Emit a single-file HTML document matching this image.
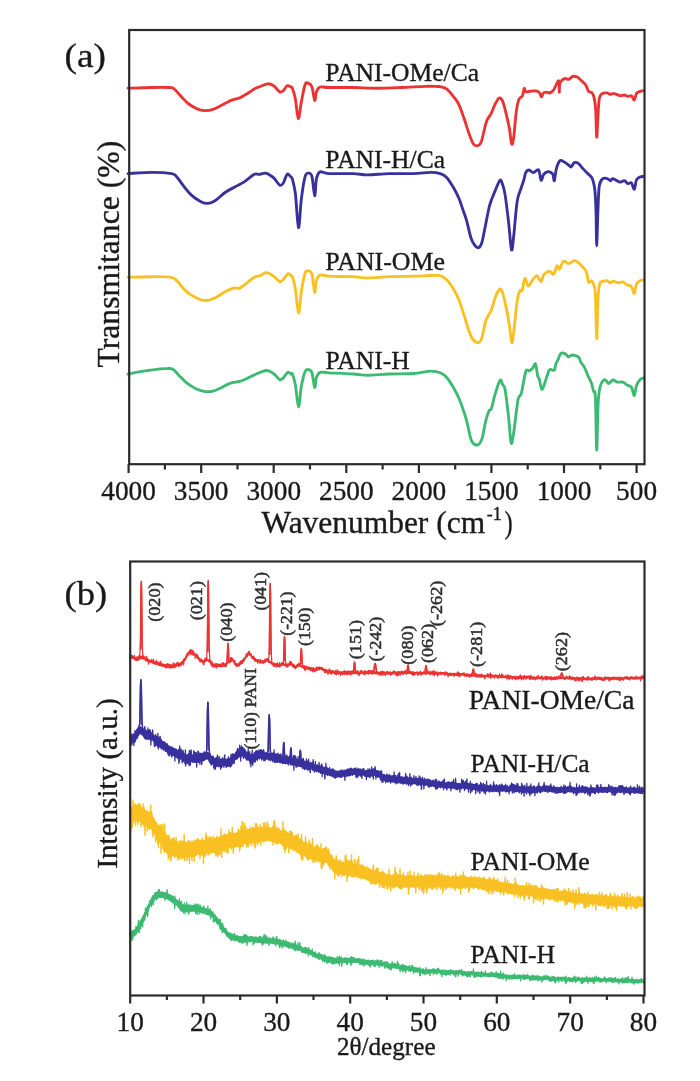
<!DOCTYPE html>
<html><head><meta charset="utf-8"><style>
html,body{margin:0;padding:0;background:#fff;}
body{width:700px;height:1081px;overflow:hidden;}
svg{display:block;filter:blur(0.35px);}
text{font-family:"Liberation Serif",serif;fill:#1a1a1a;stroke:#1a1a1a;stroke-width:0.35px;}
</style></head><body>
<svg width="700" height="1081" viewBox="0 0 700 1081">
<rect width="700" height="1081" fill="#fff"/>
<path d="M128.00,88.20 C132.05,88.08 145.42,87.62 152.30,87.50 C159.18,87.38 165.67,87.27 169.30,87.50 C172.93,87.73 172.08,87.37 174.10,88.90 C176.12,90.43 178.97,94.18 181.40,96.70 C183.83,99.22 185.87,101.90 188.70,104.00 C191.53,106.10 195.57,108.20 198.40,109.30 C201.23,110.40 203.27,110.60 205.70,110.60 C208.13,110.60 210.17,110.28 213.00,109.30 C215.83,108.32 219.47,106.27 222.70,104.70 C225.93,103.13 229.57,101.03 232.40,99.90 C235.23,98.77 237.27,98.92 239.70,97.90 C242.13,96.88 244.57,95.30 247.00,93.80 C249.43,92.30 252.08,90.12 254.30,88.90 C256.52,87.68 258.08,87.35 260.30,86.50 C262.52,85.65 265.37,83.92 267.60,83.80 C269.83,83.68 271.67,84.45 273.70,85.80 C275.73,87.15 278.18,91.10 279.80,91.90 C281.42,92.70 282.18,91.62 283.40,90.60 C284.62,89.58 285.88,86.40 287.10,85.80 C288.32,85.20 289.82,86.60 290.70,87.00 C291.58,87.40 291.61,86.18 292.39,88.20 C293.18,90.22 294.42,94.03 295.40,99.10 C296.38,104.17 297.30,118.18 298.30,118.60 C299.30,119.02 300.27,107.27 301.40,101.60 C302.53,95.93 303.88,87.63 305.10,84.60 C306.32,81.57 307.55,83.00 308.70,83.40 C309.85,83.80 310.97,84.17 311.97,87.00 C312.97,89.83 313.96,99.58 314.70,100.40 C315.44,101.22 315.52,94.13 316.40,91.90 C317.28,89.67 317.97,87.73 320.00,87.00 C322.03,86.27 323.12,87.42 328.60,87.50 C334.08,87.58 344.82,87.38 352.90,87.50 C360.98,87.62 369.02,88.20 377.10,88.20 C385.18,88.20 393.30,87.82 401.40,87.50 C409.50,87.18 419.63,86.47 425.70,86.30 C431.77,86.13 435.42,86.45 437.80,86.50 C440.18,86.55 438.48,86.17 440.00,86.60 C441.52,87.03 444.62,87.38 446.90,89.10 C449.18,90.82 451.70,94.32 453.70,96.90 C455.70,99.48 457.18,101.03 458.90,104.60 C460.62,108.17 462.30,113.45 464.00,118.30 C465.70,123.15 467.53,129.42 469.10,133.70 C470.67,137.98 471.97,142.00 473.40,144.00 C474.83,146.00 476.42,145.98 477.70,145.70 C478.98,145.42 479.95,145.15 481.10,142.30 C482.25,139.45 483.60,132.32 484.60,128.60 C485.60,124.88 485.97,122.58 487.10,120.00 C488.23,117.42 490.10,115.67 491.40,113.10 C492.70,110.53 493.62,107.10 494.90,104.60 C496.18,102.10 497.82,98.68 499.10,98.10 C500.38,97.52 501.45,98.60 502.60,101.10 C503.75,103.60 504.87,108.52 506.00,113.10 C507.13,117.68 508.45,123.45 509.40,128.60 C510.35,133.75 510.98,142.58 511.70,144.00 C512.42,145.42 512.93,142.53 513.70,137.10 C514.47,131.67 515.43,117.68 516.30,111.40 C517.17,105.12 517.90,101.97 518.90,99.40 C519.90,96.83 521.40,97.85 522.30,96.00 C523.20,94.15 523.73,89.02 524.30,88.30 C524.87,87.58 524.60,91.22 525.70,91.70 C526.80,92.18 529.18,91.33 530.90,91.20 C532.62,91.07 534.58,90.67 536.00,90.90 C537.42,91.13 538.48,91.60 539.40,92.60 C540.32,93.60 540.78,96.90 541.50,96.90 C542.22,96.90 542.62,93.32 543.70,92.60 C544.78,91.88 546.95,92.55 548.00,92.60 C549.05,92.65 549.07,93.33 550.00,92.90 C550.93,92.47 552.42,91.67 553.60,90.00 C554.78,88.33 556.22,84.33 557.10,82.90 C557.98,81.47 558.53,79.87 558.90,81.40 C559.27,82.93 559.12,91.85 559.30,92.10 C559.48,92.35 559.17,85.15 560.00,82.90 C560.83,80.65 562.87,79.20 564.30,78.60 C565.73,78.00 567.17,79.67 568.60,79.30 C570.03,78.93 571.48,76.77 572.90,76.40 C574.32,76.03 575.68,76.38 577.10,77.10 C578.52,77.82 579.97,79.38 581.40,80.70 C582.83,82.02 584.50,83.22 585.70,85.00 C586.90,86.78 587.53,90.08 588.60,91.40 C589.67,92.72 591.15,91.70 592.10,92.90 C593.05,94.10 593.70,95.75 594.30,98.60 C594.90,101.45 595.30,103.58 595.70,110.00 C596.10,116.42 596.33,135.92 596.70,137.10 C597.07,138.28 597.47,123.52 597.90,117.10 C598.33,110.68 598.60,102.52 599.30,98.60 C600.00,94.68 600.80,94.55 602.10,93.60 C603.40,92.65 605.78,92.78 607.10,92.90 C608.42,93.02 608.80,94.18 610.00,94.30 C611.20,94.42 612.63,93.37 614.30,93.60 C615.97,93.83 618.33,95.47 620.00,95.70 C621.67,95.93 622.98,94.88 624.30,95.00 C625.62,95.12 626.72,96.28 627.90,96.40 C629.08,96.52 630.33,95.10 631.40,95.70 C632.47,96.30 633.47,100.35 634.30,100.00 C635.13,99.65 635.45,95.03 636.40,93.60 C637.35,92.17 638.80,91.88 640.00,91.40 C641.20,90.92 643.00,90.82 643.60,90.70" fill="none" stroke="#ec3232" stroke-width="2.85" stroke-linejoin="round" stroke-linecap="round"/>
<path d="M128.00,173.60 C132.05,173.38 145.02,172.30 152.30,172.30 C159.58,172.30 167.65,172.87 171.70,173.60 C175.75,174.33 174.57,174.57 176.60,176.70 C178.63,178.83 181.48,183.37 183.90,186.40 C186.32,189.43 188.27,192.35 191.10,194.90 C193.93,197.45 198.07,200.28 200.90,201.70 C203.73,203.12 205.68,203.60 208.10,203.40 C210.52,203.20 212.57,202.32 215.40,200.50 C218.23,198.68 221.87,194.77 225.10,192.50 C228.33,190.23 231.55,188.72 234.80,186.90 C238.05,185.08 241.35,183.70 244.60,181.60 C247.85,179.50 251.88,175.52 254.30,174.30 C256.72,173.08 257.08,174.47 259.10,174.30 C261.12,174.13 263.97,172.70 266.40,173.30 C268.83,173.90 271.47,175.92 273.70,177.90 C275.93,179.88 278.18,184.38 279.80,185.20 C281.42,186.02 282.18,184.62 283.40,182.80 C284.62,180.98 285.88,175.32 287.10,174.30 C288.32,173.28 289.82,175.90 290.70,176.70 C291.58,177.50 291.61,176.27 292.39,179.10 C293.18,181.93 294.38,185.60 295.40,193.70 C296.42,201.80 297.50,226.88 298.50,227.70 C299.50,228.52 300.30,207.10 301.40,198.60 C302.50,190.10 303.88,180.95 305.10,176.70 C306.32,172.45 307.55,173.10 308.70,173.10 C309.85,173.10 310.97,172.93 311.97,176.70 C312.97,180.47 313.96,195.30 314.70,195.70 C315.44,196.10 315.52,183.07 316.40,179.10 C317.28,175.13 317.97,172.82 320.00,171.90 C322.03,170.98 323.12,173.32 328.60,173.60 C334.08,173.88 346.43,173.40 352.90,173.60 C359.37,173.80 361.33,174.80 367.40,174.80 C373.47,174.80 381.60,173.80 389.30,173.60 C397.00,173.40 406.72,173.82 413.60,173.60 C420.48,173.38 426.15,172.30 430.60,172.30 C435.05,172.30 437.58,172.70 440.30,173.60 C443.02,174.50 444.67,175.30 446.90,177.70 C449.13,180.10 451.70,184.57 453.70,188.00 C455.70,191.43 457.33,194.58 458.90,198.30 C460.47,202.02 461.82,206.58 463.10,210.30 C464.38,214.02 465.30,216.03 466.60,220.60 C467.90,225.17 469.62,233.70 470.90,237.70 C472.18,241.70 473.02,242.93 474.30,244.60 C475.58,246.27 477.32,248.13 478.60,247.70 C479.88,247.27 480.87,245.67 482.00,242.00 C483.13,238.33 484.12,231.85 485.40,225.70 C486.68,219.55 488.12,210.82 489.70,205.10 C491.28,199.38 493.18,195.53 494.90,191.40 C496.62,187.27 498.72,181.43 500.00,180.30 C501.28,179.17 501.75,182.17 502.60,184.60 C503.45,187.03 504.10,188.62 505.10,194.90 C506.10,201.18 507.53,213.17 508.60,222.30 C509.67,231.43 510.65,247.42 511.50,249.70 C512.35,251.98 512.77,244.00 513.70,236.00 C514.63,228.00 515.95,209.42 517.10,201.70 C518.25,193.98 519.45,193.42 520.60,189.70 C521.75,185.98 523.15,182.25 524.00,179.40 C524.85,176.55 524.85,174.17 525.70,172.60 C526.55,171.03 527.82,170.00 529.10,170.00 C530.38,170.00 531.82,172.60 533.40,172.60 C534.98,172.60 537.32,168.72 538.60,170.00 C539.88,171.28 540.25,179.58 541.10,180.30 C541.95,181.02 542.55,175.73 543.70,174.30 C544.85,172.87 546.95,172.07 548.00,171.70 C549.05,171.33 549.18,171.67 550.00,172.10 C550.82,172.53 552.18,172.87 552.90,174.30 C553.62,175.73 553.72,181.65 554.30,180.70 C554.88,179.75 555.45,171.93 556.40,168.60 C557.35,165.27 558.68,161.78 560.00,160.70 C561.32,159.62 562.87,161.38 564.30,162.10 C565.73,162.82 567.47,164.20 568.60,165.00 C569.73,165.80 570.15,167.30 571.10,166.90 C572.05,166.50 573.05,163.15 574.30,162.60 C575.55,162.05 577.17,162.60 578.60,163.60 C580.03,164.60 581.48,167.05 582.90,168.60 C584.32,170.15 585.68,171.48 587.10,172.90 C588.52,174.32 590.32,175.43 591.40,177.10 C592.48,178.77 593.00,180.52 593.60,182.90 C594.20,185.28 594.60,186.65 595.00,191.40 C595.40,196.15 595.72,202.35 596.00,211.40 C596.28,220.45 596.38,245.70 596.70,245.70 C597.02,245.70 597.47,221.40 597.90,211.40 C598.33,201.40 598.47,191.17 599.30,185.70 C600.13,180.23 601.60,179.78 602.90,178.60 C604.20,177.42 605.80,178.25 607.10,178.60 C608.40,178.95 609.73,180.70 610.70,180.70 C611.67,180.70 611.35,178.37 612.90,178.60 C614.45,178.83 618.10,181.75 620.00,182.10 C621.90,182.45 622.98,180.45 624.30,180.70 C625.62,180.95 626.72,183.23 627.90,183.60 C629.08,183.97 630.33,181.95 631.40,182.90 C632.47,183.85 633.47,189.78 634.30,189.30 C635.13,188.82 635.45,182.03 636.40,180.00 C637.35,177.97 638.80,177.70 640.00,177.10 C641.20,176.50 643.00,176.52 643.60,176.40" fill="none" stroke="#38309c" stroke-width="2.85" stroke-linejoin="round" stroke-linecap="round"/>
<path d="M128.00,277.20 C132.05,277.12 145.22,276.70 152.30,276.70 C159.38,276.70 166.45,276.58 170.50,277.20 C174.55,277.82 174.37,278.45 176.60,280.40 C178.83,282.35 181.48,286.48 183.90,288.90 C186.32,291.32 188.27,293.08 191.10,294.90 C193.93,296.72 198.07,298.90 200.90,299.80 C203.73,300.70 205.68,300.63 208.10,300.30 C210.52,299.97 212.57,299.22 215.40,297.80 C218.23,296.38 222.07,293.42 225.10,291.80 C228.13,290.18 231.17,288.72 233.60,288.10 C236.03,287.48 237.47,288.98 239.70,288.10 C241.93,287.22 244.57,284.62 247.00,282.80 C249.43,280.98 252.08,278.42 254.30,277.20 C256.52,275.98 258.28,276.27 260.30,275.50 C262.32,274.73 264.17,272.48 266.40,272.60 C268.63,272.72 271.47,274.70 273.70,276.20 C275.93,277.70 278.18,281.03 279.80,281.60 C281.42,282.17 282.07,280.90 283.40,279.60 C284.73,278.30 286.58,274.48 287.80,273.80 C289.02,273.12 289.93,275.02 290.70,275.50 C291.47,275.98 291.61,274.47 292.39,276.70 C293.18,278.93 294.38,282.83 295.40,288.90 C296.42,294.97 297.50,312.70 298.50,313.10 C299.50,313.50 300.30,297.97 301.40,291.30 C302.50,284.63 303.88,276.47 305.10,273.10 C306.32,269.73 307.55,270.90 308.70,271.10 C309.85,271.30 310.97,270.73 311.97,274.30 C312.97,277.87 313.96,291.48 314.70,292.50 C315.44,293.52 315.52,283.32 316.40,280.40 C317.28,277.48 317.97,275.70 320.00,275.00 C322.03,274.30 323.12,275.92 328.60,276.20 C334.08,276.48 346.43,276.42 352.90,276.70 C359.37,276.98 361.33,277.90 367.40,277.90 C373.47,277.90 381.60,276.98 389.30,276.70 C397.00,276.42 406.72,276.40 413.60,276.20 C420.48,276.00 426.20,275.58 430.60,275.50 C435.00,275.42 437.28,274.95 440.00,275.70 C442.72,276.45 444.62,277.72 446.90,280.00 C449.18,282.28 451.70,286.12 453.70,289.40 C455.70,292.68 457.18,295.42 458.90,299.70 C460.62,303.98 462.43,310.23 464.00,315.10 C465.57,319.97 466.87,324.90 468.30,328.90 C469.73,332.90 470.88,336.82 472.60,339.10 C474.32,341.38 477.03,342.88 478.60,342.60 C480.17,342.32 480.87,340.83 482.00,337.40 C483.13,333.97 484.40,325.57 485.40,322.00 C486.40,318.43 487.00,318.00 488.00,316.00 C489.00,314.00 490.12,313.28 491.40,310.00 C492.68,306.72 494.27,299.78 495.70,296.30 C497.13,292.82 498.85,289.67 500.00,289.10 C501.15,288.53 501.60,289.98 502.60,292.90 C503.60,295.82 504.87,301.18 506.00,306.60 C507.13,312.02 508.45,319.40 509.40,325.40 C510.35,331.40 510.98,341.45 511.70,342.60 C512.42,343.75 512.80,339.17 513.70,332.30 C514.60,325.43 516.10,308.27 517.10,301.40 C518.10,294.53 518.83,292.95 519.70,291.10 C520.57,289.25 521.43,292.43 522.30,290.30 C523.17,288.17 523.90,279.02 524.90,278.30 C525.90,277.58 527.02,285.72 528.30,286.00 C529.58,286.28 531.17,281.72 532.60,280.00 C534.03,278.28 535.48,275.42 536.90,275.70 C538.32,275.98 539.97,281.83 541.10,281.70 C542.23,281.57 542.27,276.62 543.70,274.90 C545.13,273.18 548.05,271.50 549.70,271.40 C551.35,271.30 552.37,275.25 553.60,274.30 C554.83,273.35 556.15,266.53 557.10,265.70 C558.05,264.87 558.22,270.02 559.30,269.30 C560.38,268.58 562.05,262.35 563.60,261.40 C565.15,260.45 566.82,263.72 568.60,263.60 C570.38,263.48 572.63,260.82 574.30,260.70 C575.97,260.58 577.17,261.83 578.60,262.90 C580.03,263.97 581.60,265.57 582.90,267.10 C584.20,268.63 585.45,269.60 586.40,272.10 C587.35,274.60 587.77,280.67 588.60,282.10 C589.43,283.53 590.57,280.33 591.40,280.70 C592.23,281.07 592.93,282.03 593.60,284.30 C594.27,286.57 594.88,285.25 595.40,294.30 C595.92,303.35 596.25,338.13 596.70,338.60 C597.15,339.07 597.55,306.38 598.10,297.10 C598.65,287.82 599.20,285.52 600.00,282.90 C600.80,280.28 601.72,281.77 602.90,281.40 C604.08,281.03 605.92,280.45 607.10,280.70 C608.28,280.95 609.03,282.83 610.00,282.90 C610.97,282.97 611.47,281.10 612.90,281.10 C614.33,281.10 616.93,282.77 618.60,282.90 C620.27,283.03 621.48,281.55 622.90,281.90 C624.32,282.25 625.68,284.25 627.10,285.00 C628.52,285.75 630.20,284.97 631.40,286.40 C632.60,287.83 633.47,293.95 634.30,293.60 C635.13,293.25 635.45,286.45 636.40,284.30 C637.35,282.15 638.80,281.42 640.00,280.70 C641.20,279.98 643.00,280.12 643.60,280.00" fill="none" stroke="#f9c022" stroke-width="2.85" stroke-linejoin="round" stroke-linecap="round"/>
<path d="M128.00,374.10 C130.02,373.70 136.05,372.42 140.10,371.70 C144.15,370.98 147.83,370.32 152.30,369.80 C156.77,369.28 163.47,368.68 166.90,368.60 C170.33,368.52 170.88,368.17 172.90,369.30 C174.92,370.43 176.77,373.18 179.00,375.40 C181.23,377.62 183.47,380.38 186.30,382.60 C189.13,384.82 192.77,387.20 196.00,388.70 C199.23,390.20 202.87,391.20 205.70,391.60 C208.53,392.00 210.57,391.67 213.00,391.10 C215.43,390.53 217.47,389.48 220.30,388.20 C223.13,386.92 226.77,384.53 230.00,383.40 C233.23,382.27 236.87,382.22 239.70,381.40 C242.53,380.58 244.57,379.58 247.00,378.50 C249.43,377.42 251.07,376.23 254.30,374.90 C257.53,373.57 263.17,370.70 266.40,370.50 C269.63,370.30 271.47,372.17 273.70,373.70 C275.93,375.23 278.18,379.02 279.80,379.70 C281.42,380.38 282.07,379.05 283.40,377.80 C284.73,376.55 286.49,372.82 287.80,372.20 C289.11,371.58 290.49,373.80 291.25,374.10 C292.02,374.40 291.70,372.20 292.39,374.00 C293.08,375.80 294.38,379.43 295.40,384.90 C296.42,390.37 297.50,406.60 298.50,406.80 C299.50,407.00 300.30,391.97 301.40,386.10 C302.50,380.23 303.88,374.35 305.10,371.60 C306.32,368.85 307.55,369.40 308.70,369.60 C309.85,369.80 310.97,369.83 311.97,372.80 C312.97,375.77 313.96,386.60 314.70,387.40 C315.44,388.20 315.52,380.12 316.40,377.60 C317.28,375.08 317.97,373.10 320.00,372.30 C322.03,371.50 323.12,372.52 328.60,372.80 C334.08,373.08 346.43,373.60 352.90,374.00 C359.37,374.40 361.33,375.20 367.40,375.20 C373.47,375.20 381.60,374.28 389.30,374.00 C397.00,373.72 406.72,373.98 413.60,373.50 C420.48,373.02 426.15,371.22 430.60,371.10 C435.05,370.98 437.58,371.70 440.30,372.80 C443.02,373.90 444.67,375.17 446.90,377.70 C449.13,380.23 451.70,384.57 453.70,388.00 C455.70,391.43 457.18,394.30 458.90,398.30 C460.62,402.30 462.58,407.72 464.00,412.00 C465.42,416.28 466.12,419.15 467.40,424.00 C468.68,428.85 469.98,437.62 471.70,441.10 C473.42,444.58 475.98,445.32 477.70,444.90 C479.42,444.48 480.72,442.37 482.00,438.60 C483.28,434.83 484.25,426.88 485.40,422.30 C486.55,417.72 487.90,413.38 488.90,411.10 C489.90,408.82 490.40,411.30 491.40,408.60 C492.40,405.90 493.47,399.62 494.90,394.90 C496.33,390.18 498.72,382.02 500.00,380.30 C501.28,378.58 501.75,383.03 502.60,384.60 C503.45,386.17 504.10,384.28 505.10,389.70 C506.10,395.12 507.60,408.23 508.60,417.10 C509.60,425.97 510.25,440.32 511.10,442.90 C511.95,445.48 512.55,439.75 513.70,432.60 C514.85,425.45 516.72,406.58 518.00,400.00 C519.28,393.42 520.12,397.82 521.40,393.10 C522.68,388.38 524.42,375.40 525.70,371.70 C526.98,368.00 527.95,371.47 529.10,370.90 C530.25,370.33 531.53,369.45 532.60,368.30 C533.67,367.15 534.65,362.72 535.50,364.00 C536.35,365.28 537.05,373.43 537.70,376.00 C538.35,378.57 538.68,377.12 539.40,379.40 C540.12,381.68 541.00,389.42 542.00,389.70 C543.00,389.98 544.17,384.38 545.40,381.10 C546.63,377.82 547.92,371.80 549.40,370.00 C550.88,368.20 553.25,371.25 554.30,370.30 C555.35,369.35 555.10,366.02 555.70,364.30 C556.30,362.58 557.07,361.78 557.90,360.00 C558.73,358.22 559.52,354.67 560.70,353.60 C561.88,352.53 563.68,353.05 565.00,353.60 C566.32,354.15 567.42,356.67 568.60,356.90 C569.78,357.13 570.43,354.97 572.10,355.00 C573.77,355.03 577.17,355.92 578.60,357.10 C580.03,358.28 579.75,360.43 580.70,362.10 C581.65,363.77 583.10,364.83 584.30,367.10 C585.50,369.37 586.72,373.07 587.90,375.70 C589.08,378.33 590.45,380.28 591.40,382.90 C592.35,385.52 592.93,389.03 593.60,391.40 C594.27,393.77 594.88,387.33 595.40,397.10 C595.92,406.87 596.25,448.80 596.70,450.00 C597.15,451.20 597.55,414.78 598.10,404.30 C598.65,393.82 599.08,391.15 600.00,387.10 C600.92,383.05 602.53,381.07 603.60,380.00 C604.67,378.93 605.57,380.10 606.40,380.70 C607.23,381.30 607.52,383.72 608.60,383.60 C609.68,383.48 611.48,380.25 612.90,380.00 C614.32,379.75 615.43,381.75 617.10,382.10 C618.77,382.45 621.23,381.62 622.90,382.10 C624.57,382.58 625.68,384.17 627.10,385.00 C628.52,385.83 630.20,385.32 631.40,387.10 C632.60,388.88 633.47,395.93 634.30,395.70 C635.13,395.47 635.45,388.37 636.40,385.70 C637.35,383.03 638.80,381.00 640.00,379.70 C641.20,378.40 643.00,378.20 643.60,377.90" fill="none" stroke="#3dba72" stroke-width="2.85" stroke-linejoin="round" stroke-linecap="round"/>
<polygon points="130.0,655.2 131.0,655.3 132.0,655.6 133.0,655.6 134.0,656.3 135.0,657.1 136.0,657.5 137.0,657.6 138.0,657.2 139.0,656.4 140.0,655.8 141.0,655.6 142.0,655.8 143.0,655.7 144.0,656.6 145.0,657.3 146.0,657.7 147.0,658.4 148.0,659.1 149.0,659.7 150.0,659.5 151.0,659.7 152.0,660.2 153.0,660.7 154.0,660.7 155.0,661.2 156.0,661.2 157.0,662.0 158.0,661.6 159.0,663.0 160.0,662.8 161.0,663.2 162.0,663.3 163.0,663.7 164.0,664.1 165.0,664.3 166.0,664.4 167.0,664.0 168.0,664.2 169.0,664.3 170.0,664.6 171.0,663.9 172.0,664.6 173.0,664.3 174.0,664.7 175.0,663.9 176.0,663.2 177.0,663.2 178.0,662.6 179.0,662.9 180.0,662.6 181.0,662.0 182.0,661.5 183.0,659.8 184.0,658.9 185.0,658.1 186.0,656.2 187.0,653.6 188.0,652.1 189.0,650.8 190.0,650.3 191.0,649.3 192.0,649.9 193.0,651.5 194.0,652.2 195.0,653.3 196.0,654.2 197.0,655.1 198.0,656.2 199.0,657.3 200.0,658.3 201.0,658.8 202.0,659.4 203.0,659.9 204.0,660.1 205.0,658.7 206.0,657.1 207.0,658.3 208.0,658.8 209.0,659.4 210.0,659.9 211.0,660.9 212.0,661.8 213.0,663.2 214.0,663.8 215.0,663.7 216.0,663.9 217.0,664.2 218.0,664.4 219.0,664.2 220.0,664.2 221.0,664.3 222.0,663.7 223.0,663.8 224.0,663.4 225.0,663.4 226.0,662.8 227.0,662.1 228.0,660.8 229.0,659.9 230.0,659.0 231.0,658.6 232.0,658.4 233.0,658.6 234.0,661.1 235.0,662.4 236.0,663.3 237.0,663.3 238.0,663.3 239.0,663.3 240.0,662.4 241.0,660.7 242.0,660.1 243.0,658.9 244.0,658.0 245.0,656.7 246.0,655.5 247.0,653.4 248.0,651.6 249.0,651.3 250.0,652.6 251.0,653.8 252.0,655.4 253.0,656.6 254.0,657.0 255.0,657.5 256.0,658.4 257.0,659.4 258.0,659.2 259.0,659.8 260.0,660.3 261.0,660.4 262.0,660.1 263.0,660.2 264.0,660.4 265.0,659.6 266.0,658.6 267.0,658.4 268.0,659.0 269.0,660.1 270.0,660.8 271.0,661.3 272.0,662.0 273.0,662.5 274.0,662.5 275.0,663.3 276.0,663.1 277.0,663.4 278.0,663.7 279.0,664.1 280.0,663.9 281.0,663.3 282.0,662.6 283.0,662.7 284.0,663.0 285.0,663.4 286.0,663.6 287.0,664.2 288.0,664.0 289.0,663.0 290.0,662.4 291.0,661.9 292.0,663.2 293.0,664.2 294.0,665.0 295.0,665.2 296.0,665.7 297.0,664.5 298.0,663.9 299.0,663.3 300.0,664.0 301.0,664.4 302.0,665.4 303.0,665.5 304.0,665.7 305.0,666.0 306.0,666.2 307.0,665.9 308.0,666.7 309.0,666.7 310.0,667.1 311.0,667.4 312.0,667.6 313.0,668.2 314.0,668.6 315.0,668.5 316.0,667.7 317.0,667.8 318.0,667.2 319.0,666.7 320.0,666.6 321.0,667.2 322.0,667.5 323.0,668.2 324.0,668.8 325.0,669.3 326.0,669.7 327.0,670.0 328.0,670.4 329.0,670.4 330.0,670.6 331.0,669.8 332.0,670.5 333.0,670.6 334.0,670.7 335.0,670.8 336.0,670.9 337.0,671.1 338.0,671.2 339.0,671.6 340.0,671.2 341.0,671.5 342.0,671.4 343.0,671.0 344.0,671.2 345.0,671.1 346.0,671.4 347.0,671.3 348.0,671.7 349.0,671.5 350.0,671.5 351.0,671.0 352.0,670.8 353.0,670.8 354.0,671.2 355.0,671.7 356.0,671.1 357.0,671.4 358.0,671.4 359.0,671.5 360.0,671.8 361.0,671.3 362.0,671.1 363.0,671.5 364.0,671.5 365.0,670.9 366.0,671.2 367.0,670.6 368.0,671.1 369.0,671.3 370.0,671.5 371.0,671.2 372.0,671.6 373.0,671.0 374.0,671.4 375.0,671.3 376.0,671.4 377.0,671.3 378.0,671.6 379.0,671.8 380.0,671.7 381.0,671.3 382.0,671.1 383.0,671.6 384.0,671.8 385.0,671.7 386.0,671.9 387.0,671.1 388.0,671.5 389.0,671.9 390.0,671.7 391.0,671.7 392.0,672.0 393.0,671.4 394.0,671.5 395.0,671.5 396.0,672.0 397.0,671.9 398.0,671.6 399.0,671.6 400.0,671.6 401.0,671.6 402.0,671.1 403.0,671.4 404.0,671.2 405.0,671.5 406.0,671.6 407.0,671.4 408.0,670.8 409.0,671.5 410.0,671.4 411.0,670.9 412.0,671.8 413.0,672.0 414.0,672.0 415.0,672.0 416.0,672.0 417.0,671.6 418.0,671.9 419.0,671.9 420.0,671.7 421.0,672.1 422.0,671.9 423.0,672.2 424.0,671.8 425.0,672.2 426.0,672.0 427.0,671.2 428.0,671.5 429.0,671.6 430.0,671.3 431.0,671.9 432.0,672.0 433.0,671.8 434.0,671.7 435.0,671.6 436.0,672.1 437.0,672.1 438.0,672.5 439.0,672.3 440.0,672.2 441.0,672.3 442.0,671.9 443.0,672.1 444.0,672.3 445.0,672.1 446.0,672.5 447.0,672.7 448.0,673.0 449.0,672.9 450.0,673.0 451.0,673.1 452.0,673.2 453.0,673.2 454.0,672.9 455.0,673.1 456.0,673.0 457.0,673.3 458.0,673.2 459.0,673.1 460.0,673.2 461.0,673.1 462.0,673.2 463.0,672.7 464.0,673.4 465.0,673.9 466.0,673.7 467.0,673.8 468.0,673.9 469.0,673.9 470.0,674.5 471.0,673.8 472.0,674.2 473.0,674.5 474.0,674.0 475.0,673.2 476.0,674.0 477.0,674.3 478.0,674.3 479.0,674.3 480.0,673.8 481.0,674.2 482.0,674.2 483.0,675.0 484.0,674.9 485.0,675.0 486.0,674.8 487.0,674.8 488.0,674.4 489.0,674.6 490.0,674.8 491.0,674.8 492.0,674.8 493.0,675.3 494.0,674.8 495.0,674.8 496.0,674.7 497.0,674.9 498.0,675.1 499.0,675.4 500.0,675.2 501.0,675.0 502.0,675.4 503.0,675.7 504.0,675.8 505.0,675.5 506.0,675.4 507.0,675.7 508.0,675.5 509.0,675.4 510.0,675.6 511.0,675.8 512.0,676.1 513.0,676.2 514.0,676.3 515.0,676.6 516.0,676.9 517.0,676.3 518.0,676.3 519.0,676.5 520.0,676.4 521.0,676.3 522.0,676.1 523.0,676.1 524.0,676.1 525.0,675.8 526.0,675.9 527.0,675.8 528.0,676.1 529.0,676.2 530.0,676.2 531.0,676.0 532.0,676.5 533.0,676.4 534.0,675.9 535.0,676.9 536.0,677.1 537.0,676.8 538.0,676.6 539.0,676.7 540.0,676.8 541.0,676.3 542.0,677.2 543.0,677.0 544.0,676.8 545.0,676.9 546.0,676.7 547.0,677.0 548.0,676.8 549.0,676.7 550.0,676.7 551.0,676.8 552.0,677.0 553.0,677.2 554.0,676.9 555.0,676.7 556.0,676.9 557.0,676.9 558.0,676.3 559.0,676.6 560.0,676.8 561.0,676.8 562.0,676.6 563.0,676.8 564.0,676.9 565.0,677.0 566.0,677.1 567.0,676.2 568.0,677.1 569.0,677.2 570.0,677.4 571.0,677.0 572.0,676.8 573.0,677.1 574.0,677.2 575.0,677.3 576.0,677.7 577.0,677.2 578.0,677.3 579.0,677.7 580.0,677.8 581.0,677.3 582.0,677.4 583.0,677.2 584.0,677.4 585.0,677.7 586.0,677.6 587.0,677.6 588.0,677.6 589.0,677.4 590.0,677.4 591.0,677.4 592.0,677.8 593.0,677.7 594.0,677.1 595.0,677.4 596.0,677.9 597.0,677.6 598.0,677.6 599.0,676.8 600.0,677.3 601.0,677.0 602.0,677.8 603.0,677.5 604.0,677.7 605.0,677.4 606.0,677.0 607.0,677.0 608.0,677.1 609.0,677.3 610.0,677.4 611.0,677.2 612.0,677.0 613.0,677.5 614.0,677.4 615.0,677.4 616.0,677.3 617.0,677.1 618.0,677.4 619.0,677.4 620.0,677.5 621.0,677.7 622.0,676.9 623.0,677.5 624.0,677.2 625.0,677.2 626.0,676.8 627.0,677.1 628.0,677.1 629.0,677.2 630.0,676.8 631.0,677.1 632.0,676.9 633.0,677.2 634.0,676.8 635.0,677.0 636.0,677.0 637.0,677.1 638.0,677.3 639.0,676.6 640.0,676.8 641.0,676.9 642.0,676.2 643.0,676.1 644.0,676.1 644.0,678.6 643.0,678.7 642.0,678.8 641.0,679.0 640.0,679.1 639.0,679.3 638.0,679.6 637.0,679.2 636.0,679.3 635.0,679.2 634.0,679.5 633.0,679.6 632.0,679.2 631.0,679.2 630.0,679.2 629.0,679.3 628.0,679.7 627.0,679.5 626.0,679.0 625.0,679.4 624.0,679.6 623.0,679.8 622.0,679.5 621.0,680.0 620.0,679.7 619.0,679.6 618.0,679.6 617.0,679.3 616.0,679.8 615.0,679.6 614.0,679.6 613.0,679.7 612.0,679.7 611.0,679.7 610.0,679.6 609.0,679.5 608.0,679.7 607.0,679.2 606.0,679.5 605.0,679.7 604.0,680.0 603.0,679.8 602.0,679.9 601.0,679.9 600.0,679.4 599.0,679.3 598.0,679.6 597.0,680.1 596.0,680.0 595.0,680.0 594.0,679.9 593.0,679.9 592.0,680.5 591.0,679.9 590.0,679.5 589.0,680.0 588.0,680.0 587.0,679.9 586.0,679.7 585.0,680.0 584.0,679.5 583.0,679.7 582.0,680.4 581.0,679.7 580.0,680.3 579.0,679.9 578.0,679.6 577.0,679.7 576.0,680.0 575.0,679.7 574.0,679.7 573.0,679.6 572.0,679.2 571.0,679.4 570.0,679.5 569.0,679.4 568.0,679.6 567.0,679.1 566.0,679.6 565.0,679.5 564.0,679.4 563.0,679.3 562.0,679.1 561.0,679.0 560.0,679.2 559.0,678.9 558.0,678.9 557.0,679.1 556.0,679.1 555.0,679.4 554.0,679.7 553.0,679.3 552.0,679.6 551.0,679.5 550.0,679.1 549.0,679.0 548.0,678.9 547.0,679.3 546.0,679.2 545.0,679.1 544.0,679.3 543.0,679.4 542.0,679.4 541.0,679.2 540.0,679.6 539.0,679.1 538.0,679.1 537.0,679.5 536.0,679.2 535.0,679.5 534.0,678.8 533.0,679.0 532.0,679.0 531.0,678.8 530.0,678.8 529.0,678.3 528.0,678.4 527.0,678.2 526.0,678.1 525.0,678.8 524.0,678.6 523.0,678.6 522.0,678.6 521.0,678.6 520.0,678.9 519.0,679.1 518.0,678.8 517.0,679.3 516.0,679.3 515.0,678.8 514.0,678.9 513.0,678.8 512.0,678.6 511.0,678.2 510.0,678.7 509.0,678.1 508.0,678.1 507.0,678.0 506.0,677.9 505.0,678.3 504.0,678.1 503.0,678.2 502.0,677.9 501.0,677.8 500.0,677.7 499.0,677.8 498.0,678.0 497.0,677.7 496.0,677.6 495.0,677.0 494.0,677.4 493.0,677.6 492.0,677.1 491.0,677.4 490.0,677.0 489.0,677.3 488.0,677.6 487.0,677.1 486.0,677.5 485.0,677.4 484.0,677.8 483.0,677.4 482.0,676.9 481.0,677.3 480.0,676.8 479.0,676.8 478.0,676.8 477.0,676.9 476.0,676.7 475.0,676.4 474.0,676.7 473.0,676.7 472.0,676.7 471.0,676.4 470.0,677.1 469.0,676.7 468.0,676.6 467.0,676.5 466.0,676.5 465.0,676.6 464.0,675.8 463.0,675.3 462.0,675.7 461.0,675.4 460.0,675.6 459.0,675.9 458.0,675.7 457.0,676.2 456.0,675.8 455.0,675.5 454.0,675.8 453.0,675.5 452.0,675.8 451.0,675.4 450.0,675.8 449.0,675.5 448.0,675.5 447.0,675.0 446.0,675.0 445.0,674.6 444.0,674.8 443.0,674.6 442.0,674.6 441.0,674.7 440.0,675.0 439.0,674.6 438.0,674.9 437.0,674.7 436.0,674.6 435.0,674.5 434.0,674.6 433.0,674.4 432.0,674.6 431.0,674.4 430.0,674.0 429.0,674.0 428.0,673.9 427.0,674.3 426.0,675.3 425.0,674.6 424.0,674.3 423.0,674.5 422.0,674.6 421.0,674.6 420.0,674.2 419.0,674.7 418.0,674.4 417.0,674.1 416.0,674.5 415.0,674.6 414.0,674.6 413.0,674.8 412.0,674.5 411.0,673.8 410.0,673.9 409.0,673.8 408.0,674.0 407.0,674.1 406.0,673.9 405.0,674.0 404.0,673.7 403.0,673.9 402.0,673.6 401.0,674.1 400.0,674.2 399.0,674.3 398.0,674.6 397.0,674.4 396.0,674.7 395.0,674.8 394.0,674.0 393.0,674.1 392.0,674.5 391.0,674.3 390.0,674.1 389.0,674.4 388.0,674.2 387.0,673.9 386.0,674.6 385.0,675.1 384.0,674.1 383.0,674.3 382.0,674.0 381.0,674.9 380.0,674.7 379.0,674.3 378.0,674.7 377.0,674.2 376.0,674.5 375.0,674.3 374.0,674.0 373.0,673.9 372.0,674.1 371.0,673.9 370.0,673.9 369.0,673.9 368.0,673.7 367.0,673.6 366.0,673.9 365.0,673.8 364.0,674.9 363.0,674.3 362.0,673.8 361.0,674.0 360.0,674.3 359.0,674.1 358.0,673.9 357.0,674.2 356.0,673.8 355.0,674.3 354.0,674.0 353.0,674.3 352.0,673.5 351.0,674.1 350.0,674.5 349.0,674.6 348.0,674.6 347.0,674.2 346.0,674.3 345.0,674.4 344.0,674.2 343.0,674.3 342.0,674.3 341.0,674.1 340.0,673.9 339.0,674.2 338.0,674.5 337.0,674.3 336.0,673.7 335.0,673.5 334.0,673.5 333.0,673.5 332.0,673.1 331.0,673.1 330.0,673.1 329.0,673.2 328.0,673.3 327.0,673.0 326.0,672.5 325.0,671.8 324.0,671.5 323.0,670.7 322.0,670.1 321.0,669.9 320.0,669.3 319.0,669.7 318.0,670.0 317.0,670.7 316.0,671.2 315.0,671.4 314.0,671.5 313.0,671.1 312.0,670.6 311.0,670.7 310.0,670.4 309.0,669.6 308.0,669.4 307.0,669.1 306.0,669.2 305.0,668.8 304.0,668.8 303.0,668.3 302.0,668.2 301.0,667.2 300.0,666.8 299.0,666.6 298.0,667.0 297.0,667.3 296.0,668.5 295.0,668.0 294.0,668.2 293.0,667.3 292.0,666.2 291.0,665.5 290.0,665.5 289.0,665.8 288.0,666.5 287.0,667.0 286.0,666.5 285.0,666.2 284.0,666.2 283.0,665.5 282.0,665.6 281.0,665.9 280.0,666.7 279.0,666.9 278.0,666.5 277.0,666.8 276.0,666.1 275.0,666.4 274.0,665.4 273.0,665.7 272.0,665.3 271.0,664.0 270.0,663.6 269.0,662.7 268.0,662.0 267.0,661.4 266.0,661.6 265.0,662.4 264.0,663.1 263.0,663.3 262.0,663.1 261.0,663.7 260.0,662.9 259.0,662.7 258.0,662.3 257.0,662.1 256.0,661.4 255.0,660.6 254.0,659.7 253.0,659.4 252.0,658.5 251.0,657.1 250.0,655.7 249.0,654.4 248.0,654.5 247.0,656.3 246.0,658.2 245.0,659.6 244.0,661.3 243.0,662.0 242.0,663.1 241.0,663.9 240.0,665.4 239.0,666.3 238.0,666.5 237.0,666.6 236.0,665.9 235.0,665.5 234.0,664.0 233.0,661.5 232.0,661.6 231.0,662.2 230.0,662.5 229.0,662.8 228.0,663.8 227.0,665.1 226.0,665.7 225.0,666.5 224.0,666.4 223.0,667.1 222.0,666.8 221.0,667.1 220.0,666.8 219.0,667.0 218.0,667.1 217.0,667.0 216.0,667.0 215.0,667.0 214.0,667.1 213.0,665.9 212.0,665.0 211.0,664.4 210.0,663.0 209.0,662.5 208.0,661.5 207.0,661.0 206.0,660.7 205.0,661.5 204.0,662.8 203.0,662.8 202.0,662.3 201.0,661.5 200.0,661.4 199.0,660.2 198.0,659.8 197.0,658.2 196.0,657.2 195.0,656.1 194.0,655.1 193.0,654.3 192.0,653.2 191.0,652.8 190.0,653.4 189.0,653.7 188.0,655.7 187.0,657.5 186.0,659.9 185.0,661.1 184.0,661.6 183.0,663.1 182.0,664.9 181.0,665.8 180.0,665.4 179.0,666.2 178.0,666.0 177.0,666.2 176.0,666.7 175.0,667.3 174.0,668.4 173.0,667.7 172.0,667.7 171.0,667.5 170.0,667.9 169.0,667.8 168.0,667.5 167.0,667.7 166.0,667.4 165.0,667.3 164.0,667.1 163.0,666.8 162.0,666.6 161.0,666.4 160.0,666.2 159.0,666.2 158.0,665.1 157.0,665.1 156.0,664.5 155.0,664.2 154.0,664.2 153.0,663.7 152.0,663.2 151.0,662.9 150.0,662.6 149.0,662.5 148.0,661.9 147.0,661.6 146.0,660.9 145.0,660.2 144.0,659.4 143.0,659.8 142.0,659.1 141.0,659.4 140.0,659.1 139.0,659.5 138.0,660.4 137.0,660.8 136.0,661.0 135.0,660.3 134.0,659.2 133.0,658.9 132.0,658.8 131.0,658.9 130.0,658.3" fill="#ec3232" stroke="none"/>
<polyline points="130.0,656.3 130.2,658.4 130.5,653.8 130.8,655.0 131.0,656.1 131.2,656.7 131.5,655.7 131.8,655.5 132.0,656.1 132.2,655.7 132.5,657.5 132.8,656.4 133.0,657.2 133.2,657.6 133.5,658.4 133.8,656.8 134.0,657.3 134.2,658.8 134.5,655.4 134.8,658.5 135.0,657.4 135.2,660.0 135.5,658.5 135.8,657.7 136.0,660.5 136.2,658.5 136.5,658.2 136.8,660.1 137.0,656.7 137.2,659.3 137.5,660.3 137.8,657.4 138.0,660.2 138.2,658.3 138.5,657.6 138.8,655.8 139.0,659.8 139.2,659.3 139.5,656.7 139.6,656.8 140.5,643.5 141.0,590.5 141.3,581.4 141.6,590.5 142.1,643.5 143.0,657.4 143.0,658.0 143.2,654.9 143.5,657.6 143.8,658.2 144.0,657.0 144.2,657.4 144.5,658.2 144.8,657.4 145.0,656.5 145.2,660.2 145.5,660.5 145.8,660.1 146.0,660.4 146.2,661.2 146.5,659.3 146.8,656.2 147.0,659.9 147.2,659.2 147.5,658.5 147.8,660.9 148.0,659.1 148.2,659.1 148.5,664.2 148.8,660.5 149.0,661.2 149.2,661.9 149.5,661.7 149.8,660.9 150.0,661.8 150.2,661.0 150.5,660.7 150.8,661.0 151.0,662.0 151.2,662.2 151.5,661.9 151.8,659.3 152.0,661.2 152.2,662.5 152.5,661.4 152.8,662.7 153.0,662.4 153.2,663.7 153.5,659.3 153.8,662.6 154.0,663.9 154.2,663.4 154.5,661.8 154.8,662.2 155.0,662.4 155.2,663.6 155.5,664.1 155.8,662.3 156.0,664.5 156.2,663.8 156.5,660.4 156.8,662.9 157.0,663.2 157.2,662.5 157.5,663.5 157.8,663.4 158.0,663.5 158.2,663.4 158.5,664.3 158.8,663.4 159.0,665.1 159.2,661.9 159.5,664.5 159.8,663.6 160.0,663.8 160.2,665.0 160.5,663.8 160.8,661.0 161.0,662.8 161.2,664.5 161.5,664.4 161.8,664.1 162.0,664.1 162.2,666.0 162.5,665.1 162.8,663.8 163.0,664.1 163.2,666.7 163.5,665.7 163.8,666.1 164.0,665.6 164.2,665.8 164.5,664.7 164.8,664.3 165.0,664.5 165.2,664.6 165.5,668.1 165.8,666.7 166.0,666.1 166.2,666.1 166.5,664.0 166.8,667.1 167.0,663.6 167.2,667.1 167.5,665.1 167.8,663.9 168.0,667.9 168.2,664.7 168.5,665.8 168.8,666.0 169.0,664.2 169.2,666.6 169.5,664.2 169.8,666.1 170.0,664.8 170.2,668.2 170.5,666.2 170.8,668.2 171.0,665.4 171.2,666.5 171.5,666.8 171.8,666.3 172.0,665.9 172.2,667.7 172.5,666.9 172.8,666.4 173.0,667.3 173.2,662.7 173.5,664.8 173.8,667.1 174.0,665.8 174.2,665.6 174.5,663.9 174.8,665.3 175.0,667.6 175.2,664.9 175.5,664.3 175.8,664.9 176.0,666.5 176.2,664.1 176.5,663.0 176.8,665.1 177.0,664.3 177.2,664.7 177.5,662.1 177.8,662.9 178.0,664.0 178.2,665.0 178.5,666.7 178.8,666.2 179.0,665.9 179.2,665.7 179.5,665.7 179.8,665.2 180.0,665.0 180.2,663.7 180.5,663.5 180.8,665.8 181.0,662.3 181.2,662.9 181.5,663.3 181.8,663.5 182.0,662.1 182.2,662.1 182.5,661.3 182.8,660.8 183.0,661.2 183.2,665.0 183.5,659.7 183.8,664.1 184.0,658.6 184.2,660.3 184.5,659.7 184.8,660.6 185.0,659.2 185.2,657.8 185.5,658.0 185.8,657.8 186.0,655.7 186.2,656.9 186.5,656.7 186.8,654.0 187.0,653.7 187.2,656.1 187.5,653.4 187.8,653.2 188.0,653.0 188.2,652.4 188.5,653.5 188.8,652.7 189.0,655.1 189.2,651.6 189.5,652.6 189.8,651.1 190.0,653.2 190.2,649.5 190.5,650.1 190.8,650.9 191.0,654.8 191.2,654.1 191.5,654.0 191.8,651.5 192.0,649.8 192.2,652.8 192.5,653.8 192.8,651.6 193.0,655.4 193.2,655.5 193.5,650.9 193.8,653.0 194.0,653.4 194.2,653.5 194.5,653.9 194.8,654.3 195.0,654.3 195.2,658.4 195.5,654.6 195.8,653.9 196.0,657.4 196.2,657.3 196.5,654.8 196.8,655.4 197.0,655.6 197.2,654.3 197.5,655.8 197.8,658.5 198.0,656.1 198.2,657.9 198.5,658.1 198.8,657.8 199.0,659.4 199.2,659.4 199.5,661.1 199.8,660.1 200.0,659.0 200.2,662.0 200.5,660.5 200.8,660.8 201.0,660.5 201.2,659.8 201.5,659.1 201.8,662.1 202.0,659.9 202.2,660.4 202.5,662.2 202.8,662.5 203.0,661.4 203.2,664.2 203.5,661.6 203.8,665.0 204.0,663.3 204.2,661.2 204.5,660.4 204.8,662.0 205.0,658.0 205.2,660.9 205.5,660.6 205.8,661.5 206.0,661.1 206.2,659.7 206.5,660.0 206.5,660.3 207.4,645.9 207.9,590.3 208.2,580.8 208.5,590.3 209.0,645.9 209.9,660.0 210.0,660.2 210.2,662.4 210.5,660.9 210.8,660.4 211.0,664.7 211.2,665.0 211.5,662.9 211.8,663.8 212.0,666.7 212.2,662.2 212.5,665.9 212.8,663.8 213.0,665.4 213.2,664.8 213.5,667.1 213.8,666.8 214.0,665.1 214.2,666.9 214.5,666.6 214.8,666.9 215.0,663.8 215.2,666.2 215.5,665.2 215.8,665.7 216.0,663.4 216.2,668.2 216.5,665.4 216.8,666.1 217.0,663.6 217.2,665.2 217.5,665.7 217.8,665.8 218.0,664.3 218.2,666.0 218.5,665.1 218.8,666.7 219.0,664.0 219.2,667.0 219.5,664.1 219.8,664.1 220.0,666.1 220.2,666.2 220.5,666.0 220.8,664.8 221.0,665.4 221.2,664.5 221.5,666.9 221.8,663.1 222.0,663.9 222.2,663.7 222.5,665.8 222.8,663.2 223.0,666.2 223.2,662.9 223.5,662.7 223.8,665.3 224.0,665.3 224.2,664.2 224.5,666.4 224.8,664.1 225.0,664.0 225.2,664.5 225.5,666.4 225.8,664.3 226.0,666.8 226.2,666.2 226.5,662.3 227.2,659.3 227.7,645.8 228.0,643.5 228.3,645.8 228.8,659.3 229.5,662.9 229.8,661.8 230.0,661.8 230.2,662.1 230.5,660.9 230.8,657.4 231.0,660.7 231.2,660.2 231.5,658.6 231.8,657.6 232.0,660.2 232.2,658.8 232.5,660.2 232.8,659.0 233.0,660.6 233.2,659.3 233.5,661.4 233.8,661.9 234.0,662.0 234.2,662.8 234.5,664.1 234.8,660.3 235.0,661.5 235.2,664.2 235.5,664.3 235.8,664.8 236.0,665.1 236.2,663.6 236.5,666.7 236.8,666.1 237.0,665.6 237.2,664.8 237.5,664.2 237.8,664.4 238.0,665.6 238.2,665.2 238.5,666.2 238.8,665.3 239.0,664.2 239.2,665.8 239.5,662.2 239.8,662.3 240.0,664.4 240.2,663.0 240.5,661.5 240.8,661.0 241.0,662.6 241.2,663.9 241.5,663.5 241.8,661.5 242.0,661.2 242.2,660.3 242.5,663.5 242.8,660.6 243.0,659.9 243.2,661.2 243.5,661.6 243.8,660.0 244.0,661.2 244.2,657.7 244.5,659.4 244.8,659.2 245.0,658.7 245.2,658.8 245.5,657.8 245.8,658.0 246.0,654.2 246.2,655.5 246.5,657.0 246.8,654.1 247.0,653.8 247.2,656.9 247.5,654.0 247.8,653.8 248.0,653.5 248.2,654.9 248.5,651.9 248.8,651.4 249.0,653.1 249.2,655.1 249.5,651.5 249.8,653.7 250.0,653.9 250.2,654.9 250.5,655.7 250.8,655.6 251.0,653.6 251.2,655.6 251.5,656.0 251.8,656.6 252.0,658.4 252.2,656.9 252.5,656.9 252.8,657.8 253.0,657.9 253.2,658.9 253.5,656.0 253.8,656.4 254.0,658.3 254.2,659.9 254.5,658.8 254.8,659.3 255.0,661.4 255.2,659.5 255.5,660.0 255.8,659.8 256.0,661.2 256.2,660.9 256.5,660.1 256.8,661.5 257.0,661.3 257.2,660.0 257.5,661.5 257.8,663.3 258.0,659.4 258.2,659.6 258.5,661.0 258.8,661.0 259.0,661.5 259.2,661.1 259.5,661.5 259.8,662.8 260.0,663.2 260.2,659.0 260.5,662.5 260.8,661.9 261.0,662.6 261.2,661.7 261.5,662.1 261.8,661.5 262.0,660.9 262.2,661.5 262.5,662.7 262.8,661.8 263.0,661.6 263.2,663.4 263.5,662.8 263.8,660.8 264.0,660.7 264.2,661.5 264.5,662.3 264.8,662.7 265.0,658.8 265.2,662.4 265.5,660.5 265.8,660.4 266.0,660.9 266.2,659.9 266.5,659.5 266.8,660.7 267.0,661.3 267.2,658.6 267.5,658.4 267.8,659.1 268.0,661.0 268.2,660.4 268.5,660.7 268.5,662.3 269.4,648.4 269.9,593.0 270.2,583.5 270.5,593.0 271.0,648.4 271.9,663.1 272.0,662.9 272.2,662.7 272.5,664.3 272.8,663.8 273.0,664.4 273.2,664.7 273.5,665.9 273.8,666.6 274.0,663.4 274.2,665.9 274.5,664.7 274.8,665.0 275.0,666.2 275.2,664.2 275.5,664.7 275.8,666.1 276.0,665.5 276.2,667.0 276.5,665.7 276.8,665.3 277.0,665.0 277.2,665.7 277.5,662.7 277.8,666.8 278.0,665.7 278.2,664.7 278.5,665.7 278.8,666.3 279.0,664.1 279.2,666.5 279.5,662.6 279.8,667.2 280.0,664.9 280.2,665.2 280.5,664.7 280.8,664.1 281.0,665.9 281.2,663.3 281.5,664.1 281.8,664.8 282.0,662.5 282.2,664.6 282.5,662.7 282.8,664.9 283.0,664.5 283.7,659.5 284.2,639.9 284.5,636.5 284.8,639.9 285.3,659.5 286.0,664.3 286.2,665.0 286.5,667.1 286.8,665.4 287.0,664.4 287.2,666.8 287.5,666.9 287.8,666.5 288.0,663.4 288.2,663.8 288.5,665.9 288.8,665.1 289.0,664.1 289.2,664.2 289.5,664.5 289.8,661.3 290.0,662.6 290.2,662.4 290.5,665.0 290.8,663.4 291.0,661.3 291.2,664.0 291.5,664.0 291.8,663.8 292.0,663.0 292.2,663.9 292.5,665.6 292.8,665.0 293.0,666.7 293.2,667.4 293.5,665.5 293.8,664.1 294.0,665.0 294.2,666.4 294.5,667.3 294.8,666.2 295.0,666.7 295.2,667.3 295.5,668.8 295.8,668.1 296.0,666.6 296.2,666.2 296.5,666.5 296.8,665.5 297.0,664.7 297.2,667.2 297.5,666.1 297.8,664.3 298.0,666.0 298.2,664.0 298.5,664.0 298.8,663.2 299.0,663.7 299.2,664.4 299.5,665.1 299.8,664.8 299.8,666.2 300.5,662.8 301.0,650.7 301.3,648.6 301.6,650.7 302.1,662.8 302.8,666.0 303.0,667.3 303.2,667.1 303.5,666.6 303.8,668.6 304.0,665.7 304.2,665.7 304.5,669.5 304.8,667.3 305.0,667.7 305.2,670.8 305.5,666.2 305.8,669.5 306.0,667.5 306.2,667.3 306.5,666.3 306.8,667.5 307.0,668.5 307.2,667.8 307.5,667.4 307.8,668.7 308.0,669.6 308.2,668.3 308.5,667.7 308.8,667.6 309.0,668.6 309.2,667.2 309.5,669.7 309.8,667.7 310.0,669.9 310.2,668.7 310.5,670.0 310.8,667.6 311.0,668.8 311.2,668.0 311.5,668.3 311.8,669.2 312.0,667.6 312.2,671.8 312.5,671.7 312.8,670.8 313.0,669.7 313.2,669.1 313.5,667.7 313.8,670.9 314.0,668.6 314.2,670.0 314.5,669.4 314.8,670.0 315.0,672.0 315.2,669.6 315.5,669.5 315.8,670.7 316.0,668.8 316.2,666.9 316.5,668.3 316.8,669.0 317.0,668.2 317.2,670.0 317.5,670.1 317.8,667.4 318.0,668.5 318.2,668.8 318.5,667.8 318.8,667.5 319.0,668.7 319.2,667.2 319.5,669.9 319.8,667.8 320.0,667.9 320.2,668.2 320.5,668.5 320.8,667.9 321.0,669.3 321.2,669.6 321.5,668.7 321.8,669.1 322.0,667.1 322.2,668.3 322.5,669.2 322.8,668.9 323.0,670.7 323.2,670.0 323.5,669.6 323.8,669.1 324.0,669.7 324.2,670.1 324.5,672.4 324.8,669.0 325.0,671.7 325.2,670.3 325.5,672.8 325.8,672.2 326.0,669.9 326.2,671.4 326.5,669.5 326.8,672.3 327.0,671.2 327.2,670.2 327.5,671.7 327.8,672.6 328.0,674.5 328.2,672.7 328.5,672.4 328.8,671.7 329.0,669.2 329.2,669.9 329.5,669.0 329.8,670.3 330.0,673.1 330.2,673.5 330.5,672.0 330.8,671.1 331.0,672.5 331.2,674.3 331.5,671.8 331.8,673.2 332.0,673.4 332.2,670.8 332.5,671.9 332.8,670.9 333.0,672.4 333.2,671.6 333.5,671.0 333.8,673.1 334.0,672.1 334.2,671.8 334.5,673.3 334.8,672.8 335.0,673.6 335.2,674.5 335.5,670.9 335.8,672.9 336.0,670.2 336.2,673.4 336.5,674.7 336.8,671.3 337.0,673.8 337.2,673.1 337.5,672.8 337.8,669.8 338.0,671.3 338.2,672.0 338.5,672.6 338.8,672.9 339.0,673.8 339.2,673.0 339.5,672.7 339.8,671.6 340.0,671.8 340.2,672.7 340.5,675.4 340.8,672.2 341.0,672.6 341.2,673.8 341.5,673.5 341.8,673.2 342.0,672.8 342.2,674.6 342.5,671.9 342.8,674.1 343.0,674.4 343.2,672.9 343.5,672.1 343.8,672.2 344.0,673.2 344.2,670.4 344.5,674.2 344.8,671.7 345.0,671.4 345.2,673.3 345.5,672.8 345.8,671.7 346.0,674.4 346.2,671.4 346.5,672.1 346.8,671.0 347.0,675.0 347.2,673.6 347.5,671.3 347.8,673.6 348.0,672.4 348.2,672.0 348.5,672.9 348.8,670.8 349.0,673.2 349.2,672.9 349.5,674.5 349.8,671.7 350.0,671.2 350.2,671.5 350.5,671.8 350.8,673.6 351.0,675.2 351.2,673.4 351.5,673.1 351.8,671.3 352.0,670.7 352.2,670.9 352.5,673.2 352.8,674.0 352.9,673.1 353.7,670.9 354.2,663.3 354.5,662.0 354.8,663.3 355.3,670.9 356.1,673.2 356.2,672.4 356.5,671.0 356.8,673.6 357.0,672.5 357.2,671.8 357.5,670.8 357.8,670.5 358.0,674.4 358.2,672.2 358.5,673.2 358.8,673.4 359.0,673.9 359.2,675.7 359.5,672.8 359.8,674.3 360.0,672.0 360.2,671.3 360.5,672.8 360.8,670.5 361.0,671.0 361.2,671.7 361.5,673.4 361.8,672.3 362.0,670.5 362.2,672.4 362.5,672.0 362.8,672.1 363.0,672.1 363.2,672.7 363.5,673.8 363.8,673.5 364.0,673.0 364.2,672.0 364.5,670.8 364.8,675.0 365.0,674.4 365.2,670.7 365.5,673.2 365.8,673.2 366.0,672.6 366.2,672.5 366.5,671.7 366.8,673.9 367.0,672.5 367.2,673.6 367.5,672.9 367.8,672.8 368.0,671.9 368.2,673.9 368.5,670.3 368.8,674.1 369.0,672.3 369.2,672.9 369.5,671.8 369.8,670.4 370.0,671.6 370.2,673.0 370.5,672.0 370.8,673.1 371.0,671.4 371.2,670.5 371.5,672.4 371.8,672.3 372.0,671.9 372.2,674.5 372.5,670.7 372.5,672.9 373.8,671.2 374.6,664.6 375.1,663.5 375.6,664.6 376.4,671.2 377.7,672.4 377.8,673.1 378.0,672.6 378.2,674.6 378.5,673.0 378.8,673.4 379.0,673.3 379.2,673.2 379.5,672.6 379.8,672.9 380.0,674.0 380.2,675.6 380.5,671.9 380.8,673.5 381.0,671.7 381.2,675.0 381.5,674.6 381.8,672.9 382.0,674.3 382.2,673.1 382.5,671.4 382.8,675.1 383.0,671.1 383.2,671.8 383.5,674.3 383.8,674.1 384.0,673.6 384.2,672.6 384.5,672.3 384.8,672.0 385.0,674.7 385.2,673.7 385.5,675.7 385.8,673.7 386.0,673.7 386.2,672.3 386.5,672.4 386.8,673.3 387.0,671.8 387.2,674.1 387.5,674.1 387.8,671.4 388.0,673.7 388.2,673.3 388.5,673.4 388.8,672.8 389.0,674.5 389.2,673.2 389.5,673.7 389.8,673.3 390.0,672.1 390.2,671.7 390.5,675.0 390.8,675.0 391.0,673.0 391.2,674.3 391.5,674.5 391.8,674.8 392.0,674.3 392.2,673.0 392.5,673.8 392.8,672.1 393.0,672.9 393.2,671.7 393.5,670.9 393.8,671.7 394.0,671.0 394.2,673.3 394.5,673.6 394.8,673.6 395.0,672.1 395.2,672.9 395.5,671.6 395.8,673.7 396.0,673.9 396.2,675.5 396.5,672.1 396.8,673.1 397.0,673.2 397.2,676.0 397.5,673.3 397.8,673.7 398.0,671.4 398.2,672.8 398.5,675.5 398.8,674.4 399.0,673.5 399.2,672.3 399.5,671.8 399.8,673.1 400.0,672.2 400.2,675.3 400.5,672.2 400.8,672.2 401.0,673.7 401.2,673.0 401.5,671.7 401.8,671.0 402.0,671.5 402.2,674.3 402.5,671.7 402.8,672.2 403.0,673.7 403.2,674.4 403.5,673.5 403.8,673.0 404.0,671.8 404.2,671.5 404.5,672.8 404.8,672.7 405.0,673.0 405.2,670.4 405.5,671.1 405.8,673.8 406.0,674.4 406.2,672.6 407.1,671.5 407.7,665.9 408.0,665.0 408.3,665.9 408.9,671.5 409.8,673.4 410.0,673.0 410.2,671.3 410.5,673.6 410.8,671.7 411.0,672.3 411.2,672.5 411.5,673.8 411.8,674.4 412.0,673.7 412.2,672.0 412.5,674.4 412.8,672.8 413.0,671.5 413.2,674.5 413.5,675.6 413.8,672.0 414.0,673.0 414.2,672.8 414.5,673.0 414.8,674.8 415.0,674.2 415.2,673.5 415.5,673.6 415.8,672.4 416.0,672.7 416.2,672.3 416.5,673.5 416.8,673.7 417.0,672.4 417.2,673.7 417.5,672.1 417.8,675.5 418.0,672.1 418.2,672.7 418.5,673.2 418.8,674.2 419.0,673.6 419.2,672.3 419.5,673.8 419.8,674.0 420.0,671.8 420.2,671.0 420.5,674.1 420.8,672.2 421.0,674.5 421.2,675.2 421.5,674.6 421.8,673.7 422.0,674.3 422.2,673.2 422.5,672.4 422.8,673.2 423.0,672.9 423.2,673.3 423.5,671.6 423.8,672.0 424.0,673.2 424.2,673.1 425.1,671.6 425.7,666.4 426.0,665.5 426.3,666.4 426.9,671.6 427.8,672.5 428.0,672.8 428.2,673.0 428.5,673.9 428.8,671.2 429.0,673.5 429.2,672.2 429.5,672.7 429.8,674.1 430.0,672.8 430.2,673.9 430.5,674.8 430.8,673.1 431.0,671.2 431.2,672.7 431.5,672.9 431.8,673.6 432.0,672.4 432.2,673.3 432.5,673.3 432.8,670.9 433.0,674.9 433.2,672.2 433.5,671.4 433.8,672.2 434.0,673.7 434.2,676.0 434.5,670.9 434.8,672.3 435.0,674.4 435.2,672.5 435.5,673.3 435.8,672.8 436.0,673.3 436.2,673.7 436.5,672.3 436.8,672.1 437.0,671.6 437.2,673.4 437.5,676.1 437.8,675.0 438.0,673.7 438.2,674.9 438.5,674.3 438.8,673.3 439.0,672.7 439.2,673.5 439.5,672.6 439.8,673.4 440.0,673.9 440.2,672.0 440.5,672.3 440.8,672.9 441.0,672.5 441.2,673.3 441.5,673.7 441.8,673.8 442.0,674.3 442.2,673.4 442.5,673.7 442.8,673.3 443.0,673.4 443.2,673.2 443.5,673.2 443.8,672.9 444.0,673.9 444.2,674.4 444.5,675.0 444.8,675.1 445.0,674.2 445.2,672.6 445.5,671.9 445.8,671.8 446.0,673.4 446.2,674.1 446.5,674.9 446.8,674.0 447.0,673.9 447.2,672.4 447.5,674.7 447.8,676.0 448.0,673.8 448.2,676.6 448.5,675.0 448.8,673.4 449.0,674.8 449.2,674.5 449.5,674.8 449.8,673.0 450.0,674.7 450.2,675.4 450.5,673.0 450.8,674.9 451.0,675.7 451.2,674.7 451.5,673.5 451.8,674.1 452.0,675.2 452.2,675.2 452.5,674.4 452.8,673.9 453.0,673.6 453.2,674.1 453.5,673.0 453.8,674.6 454.0,676.4 454.2,673.9 454.5,674.2 454.8,674.5 455.0,674.9 455.2,674.1 455.5,674.9 455.8,673.4 456.0,673.2 456.2,673.8 456.5,675.1 456.8,674.0 457.0,673.8 457.2,674.9 457.5,672.2 457.8,674.0 458.0,671.8 458.2,673.6 458.5,676.3 458.8,672.5 459.0,675.6 459.2,673.6 459.5,673.7 459.8,673.9 460.0,676.5 460.2,673.6 460.5,674.3 460.8,673.6 461.0,674.0 461.2,675.2 461.5,674.9 461.8,674.7 462.0,673.8 462.2,674.8 462.5,674.2 462.8,674.1 463.0,674.2 463.2,673.8 463.5,673.0 463.8,675.1 464.0,672.6 464.2,675.7 464.5,674.3 464.8,674.0 465.0,676.2 465.2,674.4 465.5,675.2 465.8,674.3 466.0,675.6 466.2,675.3 466.5,674.7 466.8,674.6 467.0,673.4 467.2,676.4 467.5,674.3 467.8,675.1 468.0,674.9 468.2,675.6 468.5,675.2 468.8,675.2 469.0,675.1 469.2,675.6 469.5,677.1 469.8,674.2 470.0,676.8 470.2,675.9 470.5,676.1 470.8,674.6 471.0,676.3 471.2,676.2 471.5,673.4 471.5,674.8 472.4,674.1 473.0,669.7 473.3,669.0 473.6,669.7 474.2,674.1 475.1,674.8 475.2,673.0 475.5,677.0 475.8,674.5 476.0,674.8 476.2,673.5 476.5,675.4 476.8,675.6 477.0,675.1 477.2,677.1 477.5,675.4 477.8,676.6 478.0,675.7 478.2,676.1 478.5,675.3 478.8,674.9 479.0,677.1 479.2,676.8 479.5,676.8 479.8,674.8 480.0,675.0 480.2,675.7 480.5,675.3 480.8,676.3 481.0,677.5 481.2,675.2 481.5,675.3 481.8,674.1 482.0,676.9 482.2,676.0 482.5,676.4 482.8,675.2 483.0,676.2 483.2,675.9 483.5,675.2 483.8,676.6 484.0,677.4 484.2,677.4 484.5,675.8 484.8,679.0 485.0,675.5 485.2,676.2 485.5,675.0 485.8,676.0 486.0,676.3 486.2,675.5 486.5,676.1 486.8,675.0 487.0,675.5 487.2,674.5 487.5,675.5 487.8,673.6 488.0,675.1 488.2,675.5 488.5,675.9 488.8,677.4 489.0,674.7 489.2,675.2 489.5,676.9 489.8,675.1 490.0,675.5 490.2,673.9 490.5,672.8 490.8,678.4 491.0,676.9 491.2,678.1 491.5,675.4 491.8,674.3 492.0,676.3 492.2,674.8 492.5,676.2 492.8,676.5 493.0,677.0 493.2,675.5 493.5,676.5 493.8,676.8 494.0,677.7 494.2,675.8 494.5,678.1 494.8,676.7 495.0,676.4 495.2,675.1 495.5,676.1 495.8,676.5 496.0,674.8 496.2,676.6 496.5,676.3 496.8,675.9 497.0,675.4 497.2,676.3 497.5,677.3 497.8,678.5 498.0,676.7 498.2,676.3 498.5,677.6 498.8,677.5 499.0,677.4 499.2,676.3 499.5,673.9 499.8,676.7 500.0,676.3 500.2,675.0 500.5,676.3 500.8,675.5 501.0,676.1 501.2,677.8 501.5,675.8 501.8,673.9 502.0,677.7 502.2,676.7 502.5,676.8 502.8,674.9 503.0,674.8 503.2,676.6 503.5,676.4 503.8,677.2 504.0,676.8 504.2,677.5 504.5,676.6 504.8,677.3 505.0,676.6 505.2,677.4 505.5,677.6 505.8,675.2 506.0,676.7 506.2,676.6 506.5,677.0 506.8,679.0 507.0,676.2 507.2,676.7 507.5,677.2 507.8,674.6 508.0,678.4 508.2,677.7 508.5,676.9 508.8,678.0 509.0,679.7 509.2,675.9 509.5,678.4 509.8,678.7 510.0,676.1 510.2,677.5 510.5,675.6 510.8,677.4 511.0,676.3 511.2,677.6 511.5,676.6 511.8,678.4 512.0,678.7 512.2,679.3 512.5,677.2 512.8,677.2 513.0,677.2 513.2,676.7 513.5,677.3 513.8,676.3 514.0,677.1 514.2,678.3 514.5,678.4 514.8,678.0 515.0,676.1 515.2,679.3 515.5,679.8 515.8,678.8 516.0,677.6 516.2,678.6 516.5,677.8 516.8,676.3 517.0,679.0 517.2,678.7 517.5,678.1 517.8,678.4 518.0,677.7 518.2,676.4 518.5,679.2 518.8,677.2 519.0,677.3 519.2,678.1 519.5,675.8 519.8,677.3 520.0,678.2 520.2,677.3 520.5,674.9 520.8,677.5 521.0,678.4 521.2,676.0 521.5,679.8 521.8,677.5 522.0,677.5 522.2,678.0 522.5,678.5 522.8,677.5 523.0,677.4 523.2,677.8 523.5,676.0 523.8,679.4 524.0,675.4 524.2,677.0 524.5,676.4 524.8,677.2 525.0,677.1 525.2,678.2 525.5,676.9 525.8,676.8 526.0,679.3 526.2,675.9 526.5,676.8 526.8,676.5 527.0,677.9 527.2,676.9 527.5,678.2 527.8,676.3 528.0,677.6 528.2,678.0 528.5,677.5 528.8,677.8 529.0,675.6 529.2,677.9 529.5,677.3 529.8,679.5 530.0,676.5 530.2,675.8 530.5,679.4 530.8,679.5 531.0,677.1 531.2,675.5 531.5,677.0 531.8,678.1 532.0,678.2 532.2,678.7 532.5,679.0 532.8,678.5 533.0,677.4 533.2,679.0 533.5,679.3 533.8,678.0 534.0,677.3 534.2,678.5 534.5,678.1 534.8,677.9 535.0,678.1 535.2,679.4 535.5,679.9 535.8,679.3 536.0,678.6 536.2,678.1 536.5,676.7 536.8,678.1 537.0,678.8 537.2,677.2 537.5,678.4 537.8,677.1 538.0,678.2 538.2,675.2 538.5,678.3 538.8,678.6 539.0,678.0 539.2,678.6 539.5,677.0 539.8,678.4 540.0,677.7 540.2,678.1 540.5,677.9 540.8,678.1 541.0,677.1 541.2,677.4 541.5,676.3 541.8,678.2 542.0,675.7 542.2,678.4 542.5,680.3 542.8,677.7 543.0,677.7 543.2,678.4 543.5,678.7 543.8,678.9 544.0,677.5 544.2,677.8 544.5,678.7 544.8,678.5 545.0,676.7 545.2,678.7 545.5,679.9 545.8,676.1 546.0,677.5 546.2,677.6 546.5,676.9 546.8,676.6 547.0,679.8 547.2,678.3 547.5,678.3 547.8,678.9 548.0,676.6 548.2,679.0 548.5,677.1 548.8,678.9 549.0,677.7 549.2,679.3 549.5,678.6 549.8,678.0 550.0,679.0 550.2,677.3 550.5,678.9 550.8,676.6 551.0,677.9 551.2,680.0 551.5,679.2 551.8,677.2 552.0,679.6 552.2,677.8 552.5,678.7 552.8,677.9 553.0,678.9 553.2,677.7 553.5,679.7 553.8,677.9 554.0,677.6 554.2,677.8 554.5,676.7 554.8,678.8 555.0,679.2 555.2,679.6 555.5,678.7 555.8,677.9 556.0,679.3 556.2,679.4 556.5,677.2 556.8,676.6 557.0,677.5 557.2,678.0 557.5,679.0 557.8,678.8 558.0,678.1 558.2,679.0 558.5,677.6 558.8,677.7 559.0,675.6 559.2,677.6 560.5,676.9 561.3,673.6 561.8,673.0 562.3,673.6 563.1,676.9 564.4,678.0 564.5,677.6 564.8,677.9 565.0,679.4 565.2,678.1 565.5,677.7 565.8,678.3 566.0,677.9 566.2,676.1 566.5,677.3 566.8,677.7 567.0,677.5 567.2,677.2 567.5,677.4 567.8,678.7 568.0,676.8 568.2,677.8 568.5,677.4 568.8,677.8 569.0,678.3 569.2,679.0 569.5,675.7 569.8,678.1 570.0,677.3 570.2,676.6 570.5,678.5 570.8,678.3 571.0,677.3 571.2,677.9 571.5,677.2 571.8,679.6 572.0,679.9 572.2,679.4 572.5,677.0 572.8,679.1 573.0,678.8 573.2,678.4 573.5,678.3 573.8,678.2 574.0,677.8 574.2,677.7 574.5,677.7 574.8,681.0 575.0,679.1 575.2,678.0 575.5,678.1 575.8,679.5 576.0,680.7 576.2,680.6 576.5,677.6 576.8,677.1 577.0,678.0 577.2,678.8 577.5,677.9 577.8,677.8 578.0,680.6 578.2,677.3 578.5,679.5 578.8,678.6 579.0,678.1 579.2,680.8 579.5,677.6 579.8,679.1 580.0,678.8 580.2,678.0 580.5,678.3 580.8,678.6 581.0,681.1 581.2,678.9 581.5,678.3 581.8,677.3 582.0,679.1 582.2,679.6 582.5,681.3 582.8,676.7 583.0,676.9 583.2,676.6 583.5,677.0 583.8,679.7 584.0,678.3 584.2,677.7 584.5,678.9 584.8,678.7 585.0,678.6 585.2,679.9 585.5,679.7 585.8,678.4 586.0,679.9 586.2,679.8 586.5,678.6 586.8,678.4 587.0,678.4 587.2,677.9 587.5,676.8 587.8,680.0 588.0,680.4 588.2,676.4 588.5,678.3 588.8,677.7 589.0,678.2 589.2,678.9 589.5,679.6 589.8,679.0 590.0,679.2 590.2,679.6 590.5,678.8 590.8,680.0 591.0,679.8 591.2,678.2 591.5,679.7 591.8,678.6 592.0,680.2 592.2,680.3 592.5,677.5 592.8,679.4 593.0,677.8 593.2,678.3 593.5,678.3 593.8,679.2 594.0,679.3 594.2,678.7 594.5,676.7 594.8,679.2 595.0,679.9 595.2,676.1 595.5,678.1 595.8,678.3 596.0,679.1 596.2,678.6 596.5,679.8 596.8,678.5 597.0,678.0 597.2,676.9 597.5,676.9 597.8,678.8 598.0,679.2 598.2,677.4 598.5,678.9 598.8,677.7 599.0,679.0 599.2,679.4 599.5,678.6 599.8,677.2 600.0,679.5 600.2,678.7 600.5,678.6 600.8,678.9 601.0,679.3 601.2,679.9 601.5,677.3 601.8,680.1 602.0,679.1 602.2,680.3 602.5,678.5 602.8,679.4 603.0,679.5 603.2,680.1 603.5,678.5 603.8,680.4 604.0,678.4 604.2,677.6 604.5,677.9 604.8,677.5 605.0,680.1 605.2,679.6 605.5,676.6 605.8,678.1 606.0,678.6 606.2,678.7 606.5,677.8 606.8,677.8 607.0,679.1 607.2,678.1 607.5,677.2 607.8,678.5 608.0,677.8 608.2,677.9 608.5,679.0 608.8,678.2 609.0,681.0 609.2,677.2 609.5,677.8 609.8,680.4 610.0,678.8 610.2,678.3 610.5,679.7 610.8,678.4 611.0,677.5 611.2,679.9 611.5,678.7 611.8,678.8 612.0,678.5 612.2,678.3 612.5,677.5 612.8,677.5 613.0,677.0 613.2,679.7 613.5,678.9 613.8,678.4 614.0,677.1 614.2,677.0 614.5,678.0 614.8,678.8 615.0,678.3 615.2,678.2 615.5,677.5 615.8,679.3 616.0,678.9 616.2,679.7 616.5,678.6 616.8,677.0 617.0,677.4 617.2,678.1 617.5,679.5 617.8,678.4 618.0,678.4 618.2,679.8 618.5,679.2 618.8,678.8 619.0,676.8 619.2,678.3 619.5,680.6 619.8,679.3 620.0,680.0 620.2,680.5 620.5,679.5 620.8,677.0 621.0,679.2 621.2,678.5 621.5,677.6 621.8,679.5 622.0,677.6 622.2,679.6 622.5,678.9 622.8,678.0 623.0,677.8 623.2,680.5 623.5,678.4 623.8,678.8 624.0,678.4 624.2,677.6 624.5,678.2 624.8,678.3 625.0,676.6 625.2,677.7 625.5,677.5 625.8,678.5 626.0,678.2 626.2,676.9 626.5,677.3 626.8,678.1 627.0,677.4 627.2,676.6 627.5,679.2 627.8,678.4 628.0,678.0 628.2,677.9 628.5,678.4 628.8,677.8 629.0,678.3 629.2,679.4 629.5,679.8 629.8,680.0 630.0,677.1 630.2,678.3 630.5,677.0 630.8,677.1 631.0,676.7 631.2,677.7 631.5,677.7 631.8,677.0 632.0,677.9 632.2,678.5 632.5,677.6 632.8,677.2 633.0,678.9 633.2,677.8 633.5,678.3 633.8,677.0 634.0,678.7 634.2,679.0 634.5,677.3 634.8,677.2 635.0,677.7 635.2,678.7 635.5,678.8 635.8,679.1 636.0,677.2 636.2,676.0 636.5,677.0 636.8,678.0 637.0,678.6 637.2,677.0 637.5,678.2 637.8,677.9 638.0,678.7 638.2,677.2 638.5,677.7 638.8,677.6 639.0,678.3 639.2,678.1 639.5,678.5 639.8,678.3 640.0,678.8 640.2,677.1 640.5,680.8 640.8,679.5 641.0,676.6 641.2,678.6 641.5,677.5 641.8,677.1 642.0,679.0 642.2,675.4 642.5,676.9 642.8,678.1 643.0,675.8 643.2,678.4 643.5,676.9 643.8,677.5 644.0,678.8" fill="none" stroke="#ec3232" stroke-width="1.20" stroke-linejoin="round"/>
<polyline points="140.4,649.5 141.0,590.5 141.3,581.4 141.6,590.5 142.2,649.5" fill="none" stroke="#ec3232" stroke-width="1.5" stroke-linejoin="round"/>
<polyline points="207.3,652.3 207.9,590.3 208.2,580.8 208.5,590.3 209.1,652.3" fill="none" stroke="#ec3232" stroke-width="1.5" stroke-linejoin="round"/>
<polyline points="227.1,660.8 227.7,645.8 228.0,643.5 228.3,645.8 228.9,660.8" fill="none" stroke="#ec3232" stroke-width="1.5" stroke-linejoin="round"/>
<polyline points="269.3,654.7 269.9,593.0 270.2,583.5 270.5,593.0 271.1,654.7" fill="none" stroke="#ec3232" stroke-width="1.5" stroke-linejoin="round"/>
<polyline points="283.6,661.7 284.2,639.9 284.5,636.5 284.8,639.9 285.4,661.7" fill="none" stroke="#ec3232" stroke-width="1.5" stroke-linejoin="round"/>
<polyline points="300.4,664.2 301.0,650.7 301.3,648.6 301.6,650.7 302.2,664.2" fill="none" stroke="#ec3232" stroke-width="1.5" stroke-linejoin="round"/>
<polyline points="353.6,671.8 354.2,663.3 354.5,662.0 354.8,663.3 355.4,671.8" fill="none" stroke="#ec3232" stroke-width="1.5" stroke-linejoin="round"/>
<polyline points="373.7,672.0 374.6,664.6 375.1,663.5 375.6,664.6 376.5,672.0" fill="none" stroke="#ec3232" stroke-width="1.5" stroke-linejoin="round"/>
<polyline points="407.0,672.1 407.7,665.9 408.0,665.0 408.3,665.9 409.0,672.1" fill="none" stroke="#ec3232" stroke-width="1.5" stroke-linejoin="round"/>
<polyline points="425.0,672.2 425.7,666.4 426.0,665.5 426.3,666.4 427.0,672.2" fill="none" stroke="#ec3232" stroke-width="1.5" stroke-linejoin="round"/>
<polyline points="472.3,674.6 473.0,669.7 473.3,669.0 473.6,669.7 474.3,674.6" fill="none" stroke="#ec3232" stroke-width="1.5" stroke-linejoin="round"/>
<polyline points="560.4,677.3 561.3,673.6 561.8,673.0 562.3,673.6 563.2,677.3" fill="none" stroke="#ec3232" stroke-width="1.5" stroke-linejoin="round"/>
<polygon points="130.4,735.7 131.4,735.9 132.4,735.0 133.4,734.9 134.4,734.2 135.4,733.0 136.4,730.2 137.4,727.5 138.4,726.9 139.4,727.2 140.4,725.9 141.4,726.8 142.4,727.0 143.4,728.7 144.4,730.2 145.4,729.6 146.4,730.6 147.4,729.5 148.4,729.7 149.4,730.4 150.4,731.1 151.4,732.0 152.4,732.7 153.4,734.5 154.4,735.1 155.4,736.3 156.4,736.3 157.4,736.6 158.4,737.8 159.4,739.4 160.4,739.8 161.4,739.1 162.4,741.0 163.4,741.2 164.4,742.5 165.4,743.3 166.4,744.1 167.4,743.7 168.4,744.9 169.4,745.8 170.4,746.1 171.4,746.8 172.4,746.3 173.4,747.9 174.4,747.6 175.4,748.6 176.4,748.7 177.4,750.1 178.4,750.9 179.4,751.5 180.4,751.7 181.4,752.1 182.4,753.1 183.4,750.8 184.4,752.9 185.4,754.3 186.4,754.6 187.4,754.1 188.4,754.5 189.4,753.8 190.4,753.2 191.4,754.4 192.4,754.3 193.4,754.9 194.4,754.0 195.4,753.5 196.4,754.9 197.4,755.0 198.4,754.7 199.4,753.4 200.4,753.4 201.4,753.3 202.4,752.4 203.4,753.0 204.4,752.2 205.4,751.9 206.4,751.7 207.4,751.8 208.4,751.7 209.4,754.0 210.4,752.7 211.4,756.0 212.4,756.8 213.4,755.8 214.4,757.9 215.4,757.5 216.4,757.9 217.4,758.5 218.4,758.6 219.4,757.3 220.4,759.1 221.4,758.6 222.4,756.8 223.4,758.6 224.4,758.4 225.4,758.5 226.4,758.8 227.4,758.5 228.4,758.3 229.4,759.1 230.4,758.9 231.4,757.4 232.4,756.7 233.4,755.1 234.4,753.9 235.4,751.8 236.4,750.9 237.4,749.6 238.4,748.4 239.4,748.6 240.4,747.9 241.4,744.6 242.4,746.5 243.4,747.4 244.4,748.0 245.4,750.6 246.4,751.4 247.4,751.6 248.4,753.1 249.4,752.8 250.4,754.6 251.4,753.4 252.4,754.4 253.4,753.5 254.4,751.8 255.4,751.8 256.4,750.3 257.4,750.8 258.4,750.8 259.4,751.3 260.4,750.3 261.4,751.0 262.4,751.2 263.4,751.9 264.4,752.1 265.4,752.3 266.4,752.5 267.4,752.4 268.4,752.4 269.4,752.7 270.4,752.5 271.4,752.9 272.4,752.9 273.4,752.1 274.4,753.2 275.4,753.5 276.4,753.1 277.4,753.9 278.4,754.7 279.4,754.4 280.4,753.5 281.4,755.7 282.4,756.1 283.4,756.5 284.4,756.0 285.4,755.4 286.4,755.3 287.4,756.3 288.4,756.5 289.4,755.5 290.4,756.4 291.4,756.7 292.4,757.3 293.4,757.5 294.4,758.6 295.4,758.1 296.4,758.1 297.4,758.7 298.4,759.1 299.4,759.0 300.4,759.4 301.4,760.4 302.4,760.4 303.4,760.7 304.4,761.5 305.4,762.3 306.4,761.6 307.4,762.5 308.4,762.3 309.4,762.7 310.4,761.2 311.4,762.9 312.4,762.7 313.4,763.9 314.4,764.2 315.4,764.3 316.4,764.8 317.4,764.1 318.4,765.0 319.4,766.4 320.4,766.8 321.4,765.6 322.4,765.8 323.4,766.8 324.4,766.7 325.4,767.4 326.4,768.2 327.4,768.0 328.4,768.2 329.4,768.3 330.4,769.9 331.4,769.0 332.4,767.7 333.4,770.8 334.4,770.6 335.4,770.4 336.4,771.2 337.4,770.8 338.4,770.9 339.4,770.6 340.4,769.5 341.4,770.5 342.4,770.6 343.4,769.8 344.4,769.5 345.4,769.9 346.4,768.9 347.4,768.2 348.4,769.5 349.4,768.3 350.4,768.7 351.4,768.9 352.4,768.7 353.4,768.6 354.4,767.7 355.4,767.7 356.4,769.6 357.4,768.8 358.4,767.5 359.4,768.8 360.4,768.2 361.4,769.3 362.4,769.9 363.4,769.2 364.4,769.4 365.4,770.6 366.4,769.9 367.4,770.0 368.4,769.5 369.4,769.4 370.4,770.0 371.4,768.7 372.4,768.6 373.4,768.9 374.4,767.8 375.4,769.7 376.4,770.1 377.4,770.7 378.4,770.5 379.4,772.0 380.4,772.4 381.4,773.1 382.4,773.6 383.4,774.3 384.4,774.4 385.4,775.1 386.4,774.8 387.4,775.0 388.4,775.1 389.4,775.2 390.4,775.6 391.4,775.3 392.4,775.0 393.4,776.2 394.4,776.2 395.4,776.3 396.4,776.7 397.4,776.5 398.4,775.4 399.4,776.0 400.4,776.3 401.4,776.4 402.4,776.9 403.4,777.5 404.4,777.2 405.4,777.8 406.4,777.7 407.4,778.3 408.4,778.1 409.4,776.9 410.4,777.7 411.4,778.1 412.4,778.0 413.4,776.9 414.4,778.5 415.4,778.0 416.4,778.0 417.4,777.4 418.4,778.4 419.4,777.9 420.4,778.9 421.4,778.3 422.4,779.0 423.4,779.0 424.4,779.2 425.4,779.4 426.4,779.3 427.4,779.2 428.4,779.6 429.4,779.3 430.4,780.1 431.4,780.7 432.4,780.8 433.4,779.2 434.4,780.9 435.4,780.4 436.4,781.2 437.4,781.5 438.4,781.4 439.4,781.0 440.4,781.4 441.4,781.6 442.4,782.1 443.4,781.7 444.4,781.2 445.4,782.5 446.4,782.3 447.4,782.1 448.4,781.4 449.4,782.0 450.4,782.4 451.4,782.0 452.4,782.3 453.4,782.2 454.4,781.9 455.4,782.7 456.4,782.5 457.4,783.3 458.4,783.0 459.4,782.7 460.4,783.4 461.4,783.2 462.4,782.9 463.4,783.1 464.4,782.3 465.4,782.2 466.4,782.8 467.4,782.7 468.4,783.1 469.4,783.4 470.4,782.9 471.4,783.3 472.4,783.2 473.4,783.9 474.4,784.1 475.4,783.6 476.4,783.7 477.4,783.8 478.4,785.1 479.4,784.6 480.4,784.5 481.4,784.8 482.4,784.5 483.4,785.5 484.4,785.6 485.4,785.5 486.4,785.6 487.4,785.0 488.4,785.6 489.4,784.9 490.4,785.1 491.4,785.6 492.4,785.8 493.4,785.5 494.4,785.6 495.4,785.3 496.4,785.7 497.4,785.9 498.4,785.2 499.4,785.7 500.4,785.4 501.4,783.6 502.4,785.5 503.4,785.3 504.4,785.7 505.4,784.7 506.4,785.7 507.4,784.8 508.4,786.4 509.4,786.2 510.4,784.8 511.4,784.4 512.4,785.5 513.4,784.9 514.4,784.8 515.4,784.9 516.4,786.1 517.4,786.0 518.4,786.5 519.4,786.5 520.4,786.6 521.4,786.1 522.4,786.4 523.4,786.0 524.4,786.6 525.4,787.0 526.4,786.8 527.4,786.4 528.4,786.4 529.4,786.1 530.4,786.1 531.4,786.7 532.4,786.9 533.4,787.0 534.4,785.8 535.4,787.1 536.4,786.5 537.4,785.7 538.4,785.7 539.4,786.6 540.4,786.0 541.4,786.4 542.4,786.0 543.4,785.7 544.4,785.5 545.4,786.0 546.4,786.1 547.4,785.6 548.4,786.5 549.4,785.2 550.4,786.2 551.4,786.6 552.4,786.7 553.4,786.5 554.4,787.1 555.4,787.1 556.4,786.6 557.4,787.3 558.4,786.7 559.4,787.3 560.4,787.3 561.4,787.3 562.4,787.1 563.4,787.0 564.4,787.1 565.4,787.0 566.4,787.0 567.4,786.1 568.4,786.7 569.4,786.7 570.4,786.4 571.4,785.8 572.4,786.9 573.4,787.2 574.4,786.8 575.4,787.5 576.4,787.8 577.4,787.2 578.4,787.0 579.4,786.8 580.4,787.2 581.4,786.6 582.4,786.2 583.4,786.5 584.4,786.6 585.4,786.2 586.4,786.4 587.4,787.1 588.4,787.6 589.4,787.6 590.4,787.6 591.4,786.3 592.4,787.4 593.4,787.3 594.4,787.4 595.4,787.5 596.4,787.3 597.4,787.4 598.4,787.7 599.4,787.2 600.4,787.0 601.4,786.3 602.4,787.3 603.4,787.4 604.4,786.9 605.4,787.2 606.4,787.5 607.4,787.0 608.4,786.5 609.4,786.2 610.4,786.9 611.4,787.3 612.4,787.5 613.4,787.3 614.4,786.9 615.4,787.0 616.4,787.0 617.4,787.6 618.4,785.7 619.4,787.3 620.4,787.4 621.4,787.0 622.4,787.3 623.4,786.9 624.4,787.5 625.4,787.0 626.4,787.7 627.4,787.5 628.4,787.9 629.4,787.4 630.4,787.5 631.4,787.5 632.4,787.6 633.4,787.8 634.4,787.5 635.4,788.0 636.4,787.9 637.4,788.0 638.4,787.3 639.4,788.0 640.4,788.4 641.4,788.0 642.4,788.3 643.4,787.2 643.4,793.6 642.4,793.1 641.4,794.0 640.4,793.9 639.4,793.4 638.4,793.2 637.4,793.8 636.4,792.8 635.4,793.8 634.4,793.2 633.4,793.4 632.4,792.6 631.4,793.2 630.4,792.3 629.4,793.3 628.4,793.1 627.4,792.4 626.4,793.5 625.4,793.0 624.4,792.4 623.4,793.9 622.4,792.3 621.4,793.1 620.4,793.3 619.4,792.8 618.4,792.4 617.4,793.3 616.4,792.7 615.4,792.6 614.4,791.9 613.4,792.1 612.4,792.7 611.4,792.3 610.4,791.9 609.4,791.7 608.4,791.8 607.4,793.0 606.4,792.9 605.4,792.4 604.4,791.8 603.4,792.4 602.4,792.8 601.4,792.7 600.4,792.4 599.4,792.8 598.4,793.8 597.4,792.8 596.4,792.3 595.4,792.8 594.4,792.8 593.4,792.8 592.4,793.3 591.4,793.5 590.4,793.1 589.4,793.1 588.4,792.5 587.4,792.7 586.4,792.2 585.4,793.0 584.4,793.2 583.4,792.0 582.4,792.3 581.4,792.1 580.4,792.2 579.4,792.9 578.4,792.6 577.4,792.9 576.4,793.2 575.4,793.1 574.4,793.3 573.4,792.6 572.4,792.0 571.4,792.5 570.4,792.4 569.4,792.6 568.4,791.9 567.4,792.3 566.4,792.5 565.4,792.4 564.4,792.9 563.4,794.1 562.4,792.5 561.4,792.7 560.4,793.2 559.4,793.3 558.4,792.9 557.4,793.9 556.4,792.7 555.4,792.1 554.4,792.7 553.4,792.4 552.4,792.6 551.4,792.4 550.4,791.8 549.4,791.9 548.4,792.8 547.4,793.0 546.4,791.6 545.4,792.5 544.4,791.5 543.4,791.4 542.4,792.0 541.4,792.5 540.4,793.5 539.4,792.2 538.4,792.1 537.4,792.3 536.4,792.2 535.4,793.0 534.4,792.9 533.4,793.1 532.4,792.3 531.4,792.9 530.4,792.0 529.4,792.0 528.4,792.2 527.4,792.4 526.4,792.5 525.4,792.1 524.4,792.0 523.4,792.0 522.4,791.8 521.4,792.5 520.4,791.9 519.4,792.2 518.4,792.3 517.4,791.8 516.4,792.4 515.4,792.0 514.4,793.0 513.4,791.2 512.4,792.1 511.4,790.9 510.4,791.3 509.4,792.3 508.4,792.1 507.4,792.1 506.4,792.5 505.4,792.5 504.4,791.2 503.4,791.5 502.4,791.6 501.4,791.4 500.4,791.6 499.4,791.4 498.4,790.9 497.4,791.7 496.4,792.1 495.4,791.4 494.4,791.6 493.4,791.7 492.4,791.6 491.4,791.7 490.4,792.0 489.4,790.9 488.4,792.0 487.4,791.3 486.4,791.7 485.4,791.3 484.4,791.2 483.4,791.3 482.4,791.0 481.4,791.1 480.4,791.2 479.4,791.1 478.4,791.1 477.4,790.1 476.4,789.7 475.4,789.6 474.4,790.1 473.4,790.1 472.4,789.8 471.4,790.7 470.4,789.5 469.4,789.6 468.4,789.8 467.4,789.5 466.4,788.5 465.4,790.0 464.4,789.4 463.4,788.5 462.4,788.6 461.4,789.5 460.4,789.6 459.4,789.1 458.4,789.0 457.4,789.3 456.4,789.5 455.4,789.0 454.4,788.1 453.4,789.1 452.4,788.5 451.4,789.2 450.4,788.5 449.4,787.9 448.4,787.8 447.4,788.2 446.4,788.9 445.4,788.6 444.4,788.0 443.4,787.4 442.4,787.9 441.4,787.4 440.4,788.8 439.4,787.5 438.4,787.7 437.4,787.6 436.4,787.1 435.4,787.0 434.4,786.6 433.4,786.1 432.4,786.5 431.4,787.3 430.4,786.6 429.4,788.1 428.4,787.3 427.4,785.6 426.4,785.6 425.4,786.3 424.4,785.3 423.4,785.4 422.4,784.8 421.4,784.6 420.4,784.5 419.4,785.1 418.4,784.1 417.4,784.3 416.4,785.9 415.4,784.3 414.4,784.3 413.4,784.2 412.4,784.8 411.4,784.3 410.4,784.2 409.4,784.7 408.4,784.2 407.4,784.0 406.4,783.7 405.4,783.6 404.4,783.9 403.4,784.4 402.4,783.5 401.4,783.5 400.4,782.9 399.4,783.5 398.4,782.3 397.4,782.6 396.4,783.0 395.4,782.4 394.4,783.3 393.4,782.3 392.4,781.6 391.4,782.2 390.4,782.0 389.4,781.2 388.4,781.0 387.4,782.3 386.4,782.4 385.4,781.4 384.4,781.1 383.4,780.7 382.4,780.0 381.4,780.2 380.4,779.4 379.4,777.9 378.4,777.0 377.4,777.0 376.4,776.3 375.4,776.9 374.4,775.4 373.4,776.0 372.4,775.6 371.4,775.2 370.4,776.6 369.4,777.3 368.4,776.8 367.4,776.8 366.4,776.7 365.4,777.0 364.4,776.4 363.4,775.6 362.4,775.7 361.4,776.9 360.4,775.2 359.4,775.4 358.4,776.1 357.4,775.5 356.4,775.4 355.4,775.0 354.4,774.7 353.4,775.1 352.4,774.7 351.4,775.0 350.4,775.9 349.4,776.5 348.4,776.0 347.4,775.7 346.4,776.1 345.4,776.8 344.4,777.2 343.4,776.6 342.4,776.7 341.4,778.2 340.4,777.2 339.4,777.4 338.4,777.1 337.4,777.4 336.4,778.0 335.4,778.0 334.4,777.8 333.4,777.7 332.4,776.1 331.4,776.3 330.4,776.1 329.4,775.4 328.4,775.2 327.4,774.7 326.4,774.9 325.4,774.7 324.4,774.6 323.4,773.6 322.4,774.2 321.4,773.4 320.4,774.1 319.4,772.7 318.4,772.0 317.4,771.7 316.4,771.5 315.4,771.2 314.4,770.6 313.4,771.1 312.4,769.8 311.4,769.4 310.4,769.5 309.4,769.4 308.4,770.1 307.4,769.8 306.4,769.4 305.4,769.4 304.4,768.8 303.4,768.9 302.4,767.5 301.4,767.6 300.4,766.9 299.4,767.0 298.4,766.7 297.4,765.9 296.4,766.4 295.4,765.5 294.4,765.5 293.4,764.7 292.4,765.5 291.4,765.3 290.4,765.8 289.4,763.5 288.4,763.8 287.4,764.8 286.4,763.5 285.4,764.6 284.4,763.9 283.4,764.0 282.4,764.3 281.4,763.1 280.4,763.5 279.4,762.9 278.4,762.5 277.4,762.3 276.4,763.3 275.4,760.8 274.4,762.0 273.4,760.6 272.4,760.2 271.4,760.3 270.4,762.1 269.4,760.3 268.4,760.8 267.4,759.5 266.4,759.5 265.4,759.4 264.4,760.0 263.4,759.2 262.4,759.8 261.4,758.6 260.4,758.3 259.4,760.0 258.4,758.5 257.4,759.9 256.4,759.9 255.4,759.5 254.4,761.8 253.4,761.3 252.4,763.8 251.4,764.0 250.4,762.8 249.4,761.5 248.4,760.6 247.4,760.0 246.4,760.2 245.4,759.0 244.4,757.7 243.4,756.9 242.4,754.4 241.4,754.7 240.4,756.3 239.4,756.9 238.4,757.9 237.4,759.5 236.4,759.8 235.4,760.3 234.4,761.4 233.4,763.0 232.4,765.1 231.4,766.8 230.4,766.9 229.4,766.8 228.4,766.8 227.4,766.9 226.4,767.5 225.4,766.1 224.4,766.0 223.4,766.5 222.4,766.5 221.4,766.1 220.4,767.4 219.4,767.1 218.4,767.6 217.4,766.6 216.4,767.3 215.4,766.2 214.4,765.6 213.4,765.7 212.4,764.5 211.4,764.9 210.4,762.5 209.4,763.3 208.4,760.7 207.4,759.5 206.4,759.4 205.4,760.0 204.4,760.4 203.4,761.0 202.4,761.7 201.4,761.3 200.4,761.9 199.4,762.8 198.4,763.1 197.4,762.8 196.4,763.3 195.4,762.9 194.4,762.8 193.4,762.7 192.4,763.0 191.4,762.0 190.4,763.4 189.4,762.3 188.4,763.3 187.4,763.2 186.4,762.3 185.4,761.9 184.4,761.8 183.4,762.2 182.4,761.1 181.4,759.8 180.4,759.6 179.4,759.7 178.4,759.1 177.4,758.8 176.4,757.6 175.4,757.2 174.4,757.6 173.4,755.5 172.4,755.4 171.4,755.2 170.4,754.0 169.4,753.5 168.4,753.2 167.4,753.1 166.4,752.1 165.4,751.3 164.4,750.3 163.4,749.9 162.4,749.1 161.4,748.0 160.4,747.9 159.4,747.4 158.4,747.0 157.4,747.2 156.4,745.8 155.4,744.1 154.4,743.1 153.4,742.0 152.4,740.6 151.4,739.8 150.4,740.2 149.4,739.1 148.4,739.1 147.4,738.9 146.4,740.2 145.4,738.9 144.4,739.0 143.4,737.2 142.4,735.8 141.4,735.0 140.4,734.3 139.4,734.7 138.4,735.5 137.4,736.2 136.4,740.0 135.4,742.4 134.4,742.9 133.4,742.7 132.4,743.2 131.4,743.6 130.4,744.3" fill="#38309c" stroke="none"/>
<polyline points="130.4,736.8 130.7,744.0 130.9,735.7 131.2,737.8 131.4,734.1 131.7,740.6 131.9,745.2 132.2,734.9 132.4,736.7 132.7,735.2 132.9,739.1 133.2,742.5 133.4,733.7 133.7,741.5 133.9,745.5 134.2,737.3 134.4,738.3 134.7,739.9 134.9,730.5 135.2,733.7 135.4,738.2 135.7,735.9 135.9,737.9 136.2,731.5 136.4,733.7 136.7,731.3 136.9,729.3 137.2,735.1 137.4,738.2 137.7,729.0 137.9,733.3 138.2,734.0 138.4,735.8 138.7,728.6 138.9,725.5 138.9,729.9 139.9,720.9 140.5,685.7 140.9,679.7 141.3,685.7 141.9,720.9 142.9,729.9 142.9,734.1 143.2,730.3 143.4,728.8 143.7,732.6 143.9,733.7 144.2,734.7 144.4,733.6 144.7,727.1 144.9,726.5 145.2,735.6 145.4,738.8 145.7,735.8 145.9,730.4 146.2,737.7 146.4,731.1 146.7,739.0 146.9,735.7 147.2,737.6 147.4,731.9 147.7,736.9 147.9,728.0 148.2,739.5 148.4,730.6 148.7,734.7 148.9,738.1 149.2,738.1 149.4,735.4 149.7,729.7 149.9,739.4 150.2,733.7 150.4,730.3 150.7,740.6 150.9,745.1 151.2,734.6 151.4,740.1 151.7,739.8 151.9,738.0 152.2,739.0 152.4,738.0 152.7,729.9 152.9,734.7 153.2,736.1 153.4,735.1 153.7,738.7 153.9,738.4 154.2,741.1 154.4,746.7 154.7,736.9 154.9,742.1 155.2,745.9 155.4,739.9 155.7,734.4 155.9,740.2 156.2,745.0 156.4,743.3 156.7,736.3 156.9,742.8 157.2,741.3 157.4,740.3 157.7,745.0 157.9,733.3 158.2,747.4 158.4,748.9 158.7,741.4 158.9,739.4 159.2,737.8 159.4,744.5 159.7,741.2 159.9,736.4 160.2,736.3 160.4,745.4 160.7,746.8 160.9,739.1 161.2,749.1 161.4,742.4 161.7,744.9 161.9,741.1 162.2,748.2 162.4,744.2 162.7,744.7 162.9,746.5 163.2,742.7 163.4,750.2 163.7,746.7 163.9,743.4 164.2,741.6 164.4,746.8 164.7,746.9 164.9,746.0 165.2,742.7 165.4,751.4 165.7,747.4 165.9,750.6 166.2,749.4 166.4,747.1 166.7,745.5 166.9,743.3 167.2,751.2 167.4,747.7 167.7,753.5 167.9,754.0 168.2,750.9 168.4,749.6 168.7,753.1 168.9,755.8 169.2,749.7 169.4,752.1 169.7,755.5 169.9,747.0 170.2,752.7 170.4,749.9 170.7,752.8 170.9,754.2 171.2,750.8 171.4,752.7 171.7,757.0 171.9,753.9 172.2,753.3 172.4,751.7 172.7,751.9 172.9,755.6 173.2,751.2 173.4,750.6 173.7,750.3 173.9,751.2 174.2,753.0 174.4,752.6 174.7,752.2 174.9,761.1 175.2,749.6 175.4,753.8 175.7,755.8 175.9,753.5 176.2,754.2 176.4,749.4 176.7,754.8 176.9,757.5 177.2,751.7 177.4,756.1 177.7,757.9 177.9,755.1 178.2,755.5 178.4,749.6 178.7,759.3 178.9,763.4 179.2,759.9 179.4,761.6 179.7,745.9 179.9,752.7 180.2,753.6 180.4,755.6 180.7,753.4 180.9,749.0 181.2,754.8 181.4,750.2 181.7,754.8 181.9,759.4 182.2,762.9 182.4,758.6 182.7,759.2 182.9,750.2 183.2,752.5 183.4,758.9 183.7,759.0 183.9,757.5 184.2,754.7 184.4,755.8 184.7,759.0 184.9,763.7 185.2,757.4 185.4,749.8 185.7,766.1 185.9,760.6 186.2,756.5 186.4,763.4 186.7,761.1 186.9,756.7 187.2,756.3 187.4,761.5 187.7,758.8 187.9,763.8 188.2,756.8 188.4,756.1 188.7,753.6 188.9,757.5 189.2,765.7 189.4,750.3 189.7,759.6 189.9,754.1 190.2,754.6 190.4,765.0 190.7,751.0 190.9,756.4 191.2,750.0 191.4,755.5 191.7,759.8 191.9,758.3 192.2,761.9 192.4,761.3 192.7,756.8 192.9,758.8 193.2,760.4 193.4,757.2 193.7,750.7 193.9,756.8 194.2,759.7 194.4,759.6 194.7,752.1 194.9,755.6 195.2,761.2 195.4,755.6 195.7,762.3 195.9,754.8 196.2,752.3 196.4,754.6 196.7,767.0 196.9,756.3 197.2,756.3 197.4,760.2 197.7,756.4 197.9,751.0 198.2,756.2 198.4,761.8 198.7,751.9 198.9,752.7 199.2,756.8 199.4,758.4 199.7,755.3 199.9,764.3 200.2,756.5 200.4,753.2 200.7,758.3 200.9,758.4 201.2,757.4 201.4,756.5 201.7,764.6 201.9,762.5 202.2,758.6 202.4,756.4 202.7,759.7 202.9,759.7 203.2,757.7 203.4,753.3 203.7,760.5 203.9,758.2 204.2,751.7 204.4,758.7 204.7,760.0 204.9,758.6 205.2,755.1 205.4,755.3 205.7,753.4 205.9,754.3 205.9,756.2 206.9,746.4 207.5,708.8 207.9,702.3 208.3,708.8 208.9,746.4 209.9,755.8 209.9,762.6 210.2,760.5 210.4,754.6 210.7,760.2 210.9,763.6 211.2,765.1 211.4,761.7 211.7,756.7 211.9,759.0 212.2,757.8 212.4,758.1 212.7,756.0 212.9,761.1 213.2,761.6 213.4,758.8 213.7,767.7 213.9,759.6 214.2,764.5 214.4,769.0 214.7,761.2 214.9,768.8 215.2,763.7 215.4,769.0 215.7,765.1 215.9,758.9 216.2,760.2 216.4,757.5 216.7,760.8 216.9,760.3 217.2,763.9 217.4,755.2 217.7,755.9 217.9,760.9 218.2,760.0 218.4,765.5 218.7,761.3 218.9,759.7 219.2,764.1 219.4,756.6 219.7,763.9 219.9,766.4 220.2,766.3 220.4,760.1 220.7,769.2 220.9,764.1 221.2,764.0 221.4,766.1 221.7,767.3 221.9,758.9 222.2,762.5 222.4,761.7 222.7,762.4 222.9,764.3 223.2,764.9 223.4,762.3 223.7,765.5 223.9,767.1 224.2,763.4 224.4,756.5 224.7,754.9 224.9,760.8 225.2,761.8 225.4,761.9 225.7,762.8 225.9,762.4 226.2,767.5 226.4,762.7 226.7,761.0 226.9,760.9 227.2,764.9 227.4,760.1 227.7,761.6 227.9,762.3 228.2,759.8 228.4,756.9 228.7,758.1 228.9,758.5 229.2,758.8 229.4,761.2 229.7,764.2 229.9,761.2 230.2,758.3 230.4,766.9 230.7,762.1 230.9,754.3 231.2,761.4 231.4,756.7 231.7,760.0 231.9,759.2 232.2,761.8 232.4,753.8 232.7,760.4 232.9,763.0 233.2,754.0 233.4,761.3 233.7,760.3 233.9,759.4 234.2,763.5 234.4,754.7 234.7,755.5 234.9,758.4 235.2,758.9 235.4,756.7 235.7,757.5 235.9,755.2 236.2,757.4 236.4,753.8 236.7,756.2 236.9,752.7 237.2,752.9 237.4,748.5 237.7,751.4 237.9,753.3 238.2,750.9 238.4,753.4 238.7,757.3 238.9,752.6 239.2,750.3 239.4,751.4 239.7,745.2 239.9,755.2 240.2,756.9 240.4,747.5 240.7,761.1 240.9,747.8 241.2,753.7 241.4,750.9 241.7,756.5 241.9,754.2 242.2,754.3 242.4,755.6 242.7,751.8 242.9,753.6 243.2,748.2 243.4,758.4 243.7,751.9 243.9,754.7 244.2,753.6 244.4,750.5 244.7,749.9 244.9,751.7 245.2,752.9 245.4,750.5 245.7,754.8 245.9,756.7 246.2,756.3 246.4,752.8 246.7,755.1 246.9,760.3 247.2,758.8 247.4,754.7 247.7,754.7 247.9,759.3 248.2,749.0 248.4,759.0 248.7,753.0 248.9,755.1 249.2,756.1 249.4,760.6 249.7,751.6 249.9,759.9 250.2,763.7 250.4,754.6 250.7,760.3 250.9,766.8 251.2,757.7 251.4,761.7 251.7,757.3 251.9,759.1 252.2,750.1 252.4,757.7 252.7,765.2 252.9,764.4 253.2,755.5 253.4,758.8 253.7,755.6 253.9,756.5 254.2,753.9 254.4,761.9 254.7,754.7 254.9,762.0 255.2,755.1 255.4,761.7 255.7,754.9 255.9,751.0 256.1,753.2 256.4,756.0 256.6,758.6 256.9,757.3 257.1,750.8 257.4,760.5 257.6,756.0 257.9,755.6 258.1,752.4 258.4,758.4 258.6,754.1 258.9,749.9 259.1,755.0 259.4,756.6 259.6,754.4 259.9,753.5 260.1,755.7 260.4,749.8 260.6,757.6 260.9,752.3 261.1,749.6 261.4,755.8 261.6,760.1 261.9,759.0 262.1,750.5 262.4,751.9 262.6,757.5 262.9,756.3 263.1,757.0 263.4,758.0 263.6,749.7 263.9,761.0 264.1,751.4 264.4,756.6 264.6,752.6 264.9,757.4 265.1,760.5 265.4,758.1 265.6,753.9 265.9,756.5 266.1,756.1 266.4,755.3 266.6,758.9 266.9,753.0 267.1,758.1 267.2,756.0 268.2,748.6 268.8,719.7 269.2,714.8 269.6,719.7 270.2,748.6 271.2,756.2 271.4,753.1 271.6,759.1 271.9,759.2 272.1,757.4 272.4,760.5 272.6,761.6 272.9,756.6 273.1,757.8 273.4,752.6 273.6,753.7 273.9,760.8 274.1,749.9 274.4,762.5 274.6,759.6 274.9,754.8 275.1,758.1 275.4,754.9 275.6,761.7 275.9,755.4 276.1,762.6 276.4,757.9 276.6,754.5 276.9,761.3 277.1,760.3 277.4,760.1 277.6,762.0 277.9,756.5 278.1,753.1 278.4,758.2 278.6,760.0 278.9,760.0 279.1,756.0 279.4,760.4 279.6,754.6 279.9,759.6 280.1,761.3 280.4,760.2 280.6,761.0 280.9,753.9 281.1,758.7 281.4,759.0 281.6,758.9 281.9,758.3 282.1,760.3 282.2,759.6 283.0,756.6 283.5,744.5 283.8,742.4 284.1,744.5 284.6,756.6 285.4,759.2 285.6,762.1 285.9,762.9 286.1,759.6 286.4,759.3 286.6,761.4 286.9,754.9 287.1,763.0 287.4,758.4 287.6,763.1 287.9,761.8 288.1,761.4 288.4,765.0 288.6,764.1 288.9,762.3 289.1,757.3 289.4,757.3 289.5,761.1 290.2,758.6 290.6,749.5 290.9,747.9 291.2,749.5 291.6,758.6 292.3,760.8 292.4,759.8 292.6,760.3 292.9,759.2 293.1,758.3 293.4,765.5 293.6,755.6 293.9,770.2 294.1,761.5 294.4,761.9 294.6,755.5 294.9,762.6 295.1,763.7 295.4,765.2 295.6,756.1 295.9,760.0 296.1,767.3 296.4,762.6 296.6,766.6 296.9,764.8 297.1,766.6 297.4,760.7 297.6,765.0 297.9,763.1 298.1,756.3 298.4,764.2 298.6,760.9 298.9,763.9 299.6,761.1 300.0,751.9 300.3,750.3 300.6,751.9 301.0,761.1 301.7,763.3 301.9,765.4 302.1,764.2 302.4,759.2 302.6,768.6 302.9,763.9 303.1,765.3 303.4,758.4 303.6,765.3 303.9,766.0 304.1,767.2 304.4,761.3 304.6,769.5 304.9,761.2 305.1,767.4 305.4,767.2 305.6,767.8 305.9,762.4 306.1,767.2 306.4,758.9 306.6,767.8 306.9,766.1 307.1,768.0 307.4,767.0 307.6,760.8 307.9,770.5 308.1,766.6 308.4,769.4 308.6,759.1 308.9,769.2 309.1,764.5 309.4,763.2 309.6,768.0 309.9,767.2 310.1,772.6 310.4,772.6 310.6,765.5 310.9,767.9 311.1,767.9 311.4,766.7 311.6,763.6 311.9,764.4 312.1,762.3 312.4,764.0 312.6,767.7 312.9,770.4 313.1,759.6 313.4,762.7 313.6,765.5 313.9,768.4 314.1,768.2 314.4,772.2 314.6,768.6 314.9,765.0 315.1,770.8 315.4,761.4 315.6,766.8 315.9,769.0 316.1,770.1 316.4,767.3 316.6,771.6 316.9,768.2 317.1,765.4 317.4,768.6 317.6,771.0 317.9,769.9 318.1,771.6 318.4,770.6 318.6,771.9 318.9,771.4 319.1,762.5 319.4,767.8 319.6,771.2 319.9,766.0 320.1,770.6 320.4,766.9 320.6,771.4 320.9,765.8 321.1,772.6 321.4,764.3 321.6,766.6 321.9,764.2 322.1,776.7 322.4,770.7 322.6,766.7 322.9,770.8 323.1,770.8 323.4,773.1 323.6,767.8 323.9,769.6 324.1,773.2 324.4,770.8 324.6,775.9 324.9,778.9 325.1,775.0 325.4,773.7 325.6,772.1 325.9,763.2 326.1,770.7 326.4,766.5 326.6,766.8 326.9,767.4 327.1,773.6 327.4,768.7 327.6,775.5 327.9,771.0 328.1,769.8 328.4,773.1 328.6,769.2 328.9,769.1 329.1,770.8 329.4,775.3 329.6,767.4 329.9,775.4 330.1,773.4 330.4,773.7 330.6,769.3 330.9,772.8 331.1,776.1 331.4,773.4 331.6,774.3 331.9,774.5 332.1,773.0 332.4,772.5 332.6,774.2 332.9,776.7 333.1,775.7 333.4,769.2 333.6,770.4 333.9,773.7 334.1,775.2 334.4,770.4 334.6,774.4 334.9,770.5 335.1,778.3 335.4,778.1 335.6,774.5 335.9,777.3 336.1,772.4 336.4,771.2 336.6,773.4 336.9,774.8 337.1,772.9 337.4,774.3 337.6,771.1 337.9,773.6 338.1,776.7 338.4,775.2 338.6,771.8 338.9,774.7 339.1,776.5 339.4,773.3 339.6,774.9 339.9,774.4 340.1,776.9 340.4,775.1 340.6,777.0 340.9,774.1 341.1,775.7 341.4,772.7 341.6,772.6 341.9,770.0 342.1,774.9 342.4,776.3 342.6,776.5 342.9,773.9 343.1,774.7 343.4,774.3 343.6,770.6 343.9,773.7 344.1,773.8 344.4,774.8 344.6,771.8 344.9,780.3 345.1,775.4 345.4,772.4 345.6,776.1 345.9,773.4 346.1,774.4 346.4,771.6 346.6,776.1 346.9,772.8 347.1,772.7 347.4,773.6 347.6,771.7 347.9,776.0 348.1,771.7 348.4,775.3 348.6,771.9 348.9,769.0 349.1,773.5 349.4,773.1 349.6,773.3 349.9,770.8 350.1,768.5 350.4,774.6 350.6,775.4 350.9,771.4 351.1,771.9 351.4,768.1 351.6,773.0 351.9,768.8 352.1,772.4 352.4,775.3 352.6,770.9 352.9,770.9 353.1,769.4 353.4,770.2 353.6,769.3 353.9,774.1 354.1,769.9 354.4,773.8 354.6,774.3 354.9,771.8 355.1,771.8 355.4,772.1 355.6,770.7 355.9,777.0 356.1,767.9 356.4,772.4 356.6,776.0 356.9,770.2 357.1,777.7 357.4,770.4 357.6,773.3 357.9,776.0 358.1,776.1 358.4,772.7 358.6,776.2 358.9,769.6 359.1,774.9 359.4,769.6 359.6,772.5 359.9,770.0 360.1,771.9 360.4,773.4 360.6,775.9 360.9,776.3 361.1,776.6 361.4,775.7 361.6,772.5 361.9,778.4 362.1,773.7 362.4,772.6 362.6,769.0 362.9,771.0 363.1,772.2 363.4,772.9 363.6,768.3 363.9,772.7 364.1,771.1 364.4,772.5 364.6,772.3 364.9,772.8 365.1,774.4 365.4,775.8 365.6,770.7 365.9,773.4 366.1,772.5 366.4,779.6 366.6,774.4 366.9,774.0 367.1,772.9 367.4,770.6 367.6,776.7 367.9,769.0 368.1,769.2 368.4,772.8 368.6,769.6 368.9,776.5 369.1,777.1 369.4,772.3 369.6,768.9 369.9,777.6 370.1,777.6 370.4,773.1 370.6,774.8 370.9,772.3 371.1,771.6 371.4,771.1 371.6,766.8 371.9,776.4 372.1,773.8 372.4,773.1 372.6,773.1 372.9,773.5 373.1,773.1 373.4,779.0 373.6,769.2 373.9,770.0 374.1,773.6 374.4,768.3 374.6,774.8 374.9,771.9 375.1,766.6 375.4,771.4 375.6,770.4 375.9,778.9 376.1,770.9 376.4,775.4 376.6,772.2 376.9,774.3 377.1,771.2 377.4,777.2 377.6,775.7 377.9,770.7 378.1,777.0 378.4,775.3 378.6,772.1 378.9,771.4 379.1,774.7 379.4,776.1 379.6,773.3 379.9,774.8 380.1,777.8 380.4,770.9 380.6,780.2 380.9,777.8 381.1,773.1 381.4,777.2 381.6,771.0 381.9,778.0 382.1,782.4 382.4,780.7 382.6,779.7 382.9,775.6 383.1,782.0 383.4,776.6 383.6,775.9 383.9,774.5 384.1,777.1 384.4,774.6 384.6,778.6 384.9,776.0 385.1,776.0 385.4,779.2 385.6,782.6 385.9,778.4 386.1,776.7 386.4,777.2 386.6,779.9 386.9,773.8 387.1,778.6 387.4,774.7 387.6,777.1 387.9,782.0 388.1,777.9 388.4,781.5 388.6,779.4 388.9,775.3 389.1,781.7 389.4,774.4 389.6,775.6 389.9,779.0 390.1,777.9 390.4,781.6 390.6,783.2 390.9,781.2 391.1,778.7 391.4,779.9 391.6,780.4 391.9,780.9 392.1,776.9 392.4,782.2 392.6,777.9 392.9,780.8 393.1,775.8 393.4,779.9 393.6,776.7 393.9,779.1 394.1,771.9 394.4,777.1 394.6,776.6 394.9,782.7 395.1,775.5 395.4,781.4 395.6,775.6 395.9,782.7 396.1,783.8 396.4,779.3 396.6,779.8 396.9,778.7 397.1,777.8 397.4,775.5 397.6,782.0 397.9,783.3 398.1,782.1 398.4,773.7 398.6,777.9 398.9,780.5 399.1,779.8 399.4,780.1 399.6,772.4 399.9,779.5 400.1,777.3 400.4,782.1 400.6,783.1 400.9,783.3 401.1,778.6 401.4,782.1 401.6,782.2 401.9,776.9 402.1,776.7 402.4,778.7 402.6,783.6 402.9,784.0 403.1,777.4 403.4,779.1 403.6,779.4 403.9,783.2 404.1,783.2 404.4,782.4 404.6,777.1 404.9,781.4 405.1,777.1 405.4,780.9 405.6,773.4 405.9,778.1 406.1,783.1 406.4,784.3 406.6,780.9 406.9,776.2 407.1,782.2 407.4,783.1 407.6,780.0 407.9,777.2 408.1,778.8 408.4,785.7 408.6,778.9 408.9,781.8 409.1,779.2 409.4,781.5 409.6,780.8 409.9,773.7 410.1,780.2 410.4,777.2 410.6,786.2 410.9,784.6 411.1,784.4 411.4,777.4 411.6,780.9 411.9,779.9 412.1,779.8 412.4,784.1 412.6,779.6 412.9,779.8 413.1,783.4 413.4,779.0 413.6,780.3 413.9,775.7 414.1,781.1 414.4,783.2 414.6,780.2 414.9,781.0 415.1,782.4 415.4,781.5 415.6,782.4 415.9,776.3 416.1,779.2 416.4,783.6 416.6,779.4 416.9,780.3 417.1,779.9 417.4,783.7 417.6,781.0 417.9,785.6 418.1,780.1 418.4,780.7 418.6,784.8 418.9,783.7 419.1,775.8 419.4,782.1 419.6,780.8 419.9,778.1 420.1,781.3 420.4,785.4 420.6,777.2 420.9,782.7 421.1,781.4 421.4,789.1 421.6,789.2 421.9,779.5 422.1,780.7 422.4,783.1 422.6,777.5 422.9,783.5 423.1,781.7 423.4,781.7 423.6,783.1 423.9,788.9 424.1,781.2 424.4,782.2 424.6,778.1 424.9,780.3 425.1,783.5 425.4,781.8 425.6,782.3 425.9,781.5 426.1,780.6 426.4,780.0 426.6,784.0 426.9,782.7 427.1,778.9 427.4,784.6 427.6,784.8 427.9,782.3 428.1,782.0 428.4,786.9 428.6,779.5 428.9,784.0 429.1,785.9 429.4,779.6 429.6,781.2 429.9,784.3 430.1,782.0 430.4,780.1 430.6,781.8 430.9,780.9 431.1,783.3 431.4,781.8 431.6,784.7 431.9,781.1 432.1,782.7 432.4,784.1 432.6,785.2 432.9,780.3 433.1,781.7 433.4,781.5 433.6,786.4 433.9,784.7 434.1,781.9 434.4,783.7 434.6,783.9 434.9,783.0 435.1,787.3 435.4,779.1 435.6,789.1 435.9,787.9 436.1,786.4 436.4,783.4 436.6,779.6 436.9,786.3 437.1,789.0 437.4,786.2 437.6,787.9 437.9,784.3 438.1,787.0 438.4,785.2 438.6,783.3 438.9,780.9 439.1,782.6 439.4,785.8 439.6,786.1 439.9,785.5 440.1,784.9 440.4,786.4 440.6,786.1 440.9,785.9 441.1,783.6 441.4,785.3 441.6,784.3 441.9,782.7 442.1,785.4 442.4,781.4 442.6,783.9 442.9,780.4 443.1,781.9 443.4,787.7 443.6,789.7 443.9,786.0 444.1,783.6 444.4,778.9 444.6,784.1 444.9,786.4 445.1,785.1 445.4,783.6 445.6,787.1 445.9,783.8 446.1,785.9 446.4,784.4 446.6,783.9 446.9,789.8 447.1,788.6 447.4,786.8 447.6,782.2 447.9,787.0 448.1,785.9 448.4,786.6 448.6,787.9 448.9,781.8 449.1,785.6 449.4,785.7 449.6,786.3 449.9,786.3 450.1,784.5 450.4,788.3 450.6,782.7 450.9,790.8 451.1,787.6 451.4,786.4 451.6,781.9 451.9,781.9 452.1,781.7 452.4,785.8 452.6,786.4 452.9,787.0 453.1,785.6 453.4,784.7 453.6,779.5 453.9,783.6 454.1,786.7 454.4,784.3 454.6,788.2 454.9,785.3 455.1,788.9 455.4,788.9 455.6,778.2 455.9,784.1 456.1,789.3 456.4,789.3 456.6,785.3 456.9,786.2 457.1,788.2 457.4,789.8 457.6,789.5 457.9,783.7 458.1,784.6 458.4,783.8 458.6,785.3 458.9,788.7 459.1,787.6 459.4,786.7 459.6,786.2 459.9,792.1 460.1,787.9 460.4,784.9 460.6,787.4 460.9,785.8 461.1,785.4 461.4,785.0 461.6,779.2 461.9,782.6 462.1,785.5 462.4,781.8 462.6,783.1 462.9,781.7 463.1,780.1 463.4,785.9 463.6,785.0 463.9,781.6 464.1,786.2 464.4,790.5 464.6,786.8 464.9,785.7 465.1,782.3 465.4,787.3 465.6,787.3 465.9,781.0 466.1,784.5 466.4,788.3 466.6,785.3 466.9,778.9 467.1,786.3 467.4,786.4 467.6,786.6 467.9,785.8 468.1,788.5 468.4,787.7 468.6,792.1 468.9,786.7 469.1,787.5 469.4,786.5 469.6,783.9 469.9,786.9 470.1,786.5 470.4,781.3 470.6,793.0 470.9,787.8 471.1,789.2 471.4,787.9 471.6,786.9 471.9,788.6 472.1,791.1 472.4,789.0 472.6,785.7 472.9,788.9 473.1,789.1 473.4,785.3 473.6,787.9 473.9,788.2 474.1,786.3 474.4,787.6 474.6,785.4 474.9,784.7 475.1,785.5 475.4,784.1 475.6,793.6 475.9,789.8 476.1,787.0 476.4,783.5 476.6,789.4 476.9,790.1 477.1,783.3 477.4,786.6 477.6,790.7 477.9,788.9 478.1,792.0 478.4,786.3 478.6,786.6 478.9,786.3 479.1,785.2 479.4,785.3 479.6,788.1 479.9,793.6 480.1,788.0 480.4,789.0 480.6,782.5 480.9,789.1 481.1,787.2 481.4,786.1 481.6,783.7 481.9,791.5 482.1,790.9 482.4,787.3 482.6,786.0 482.9,788.2 483.1,785.8 483.4,783.5 483.6,786.0 483.9,792.5 484.1,784.4 484.4,788.3 484.6,787.8 484.9,784.7 485.1,791.4 485.4,794.2 485.6,789.9 485.9,788.8 486.1,791.3 486.4,791.0 486.6,781.2 486.9,790.0 487.1,788.9 487.4,789.1 487.6,790.4 487.9,788.7 488.1,789.3 488.4,786.3 488.6,786.4 488.9,788.0 489.1,787.4 489.4,792.1 489.6,791.3 489.9,788.1 490.1,790.3 490.4,787.5 490.6,784.5 490.9,788.6 491.1,788.1 491.4,790.2 491.6,788.8 491.9,788.6 492.1,789.1 492.4,791.5 492.6,789.5 492.9,788.9 493.1,791.7 493.4,785.0 493.6,781.9 493.9,787.4 494.1,790.3 494.4,784.6 494.6,785.5 494.9,791.5 495.1,787.2 495.4,790.8 495.6,788.7 495.9,789.0 496.1,790.2 496.4,784.7 496.6,790.6 496.9,786.8 497.1,788.0 497.4,785.7 497.6,788.5 497.9,791.4 498.1,792.1 498.4,791.4 498.6,788.1 498.9,787.5 499.1,787.3 499.4,784.6 499.6,795.5 499.9,791.2 500.1,791.5 500.4,788.3 500.6,788.1 500.9,788.2 501.1,788.6 501.4,784.1 501.6,788.5 501.9,789.4 502.1,784.5 502.4,790.9 502.6,786.5 502.9,791.0 503.1,787.5 503.4,786.4 503.6,786.5 503.9,787.1 504.1,789.1 504.4,785.6 504.6,790.5 504.9,786.8 505.1,786.3 505.4,790.1 505.6,784.2 505.9,790.1 506.1,788.4 506.4,789.1 506.6,787.7 506.9,787.6 507.1,790.0 507.4,790.8 507.6,787.2 507.9,789.2 508.1,791.1 508.4,788.1 508.6,790.9 508.9,787.8 509.1,793.8 509.4,789.3 509.6,788.2 509.9,789.0 510.1,785.3 510.4,785.4 510.6,785.2 510.9,790.6 511.1,790.5 511.4,788.0 511.6,783.0 511.9,783.2 512.1,787.2 512.4,793.0 512.6,791.7 512.9,790.7 513.1,784.4 513.4,787.6 513.6,784.6 513.9,788.2 514.1,792.7 514.4,792.0 514.6,784.9 514.9,788.3 515.1,789.2 515.4,785.8 515.6,791.4 515.9,785.8 516.1,788.8 516.4,789.9 516.6,788.0 516.9,783.5 517.1,787.7 517.4,791.0 517.6,786.4 517.9,783.8 518.1,788.5 518.4,788.6 518.6,786.2 518.9,789.1 519.1,790.4 519.4,792.8 519.6,786.8 519.9,788.1 520.1,788.2 520.4,788.4 520.6,791.5 520.9,788.2 521.1,786.7 521.4,794.0 521.6,783.1 521.9,785.7 522.1,790.3 522.4,785.1 522.6,792.7 522.9,788.0 523.1,791.9 523.4,790.3 523.6,786.1 523.9,789.6 524.1,796.2 524.4,788.3 524.6,788.8 524.9,785.2 525.1,792.5 525.4,789.6 525.6,787.8 525.9,790.1 526.1,790.3 526.4,789.5 526.6,794.0 526.9,783.4 527.1,789.4 527.4,790.1 527.6,788.2 527.9,789.9 528.1,792.2 528.4,788.4 528.6,791.2 528.9,793.2 529.1,786.3 529.4,789.0 529.6,790.6 529.9,795.6 530.1,793.0 530.4,785.6 530.6,792.1 530.9,784.0 531.1,789.9 531.4,793.9 531.6,788.1 531.9,790.5 532.1,788.9 532.4,786.8 532.6,790.0 532.9,792.9 533.1,787.3 533.4,791.8 533.6,790.3 533.9,785.7 534.1,789.4 534.4,792.0 534.6,790.5 534.9,795.6 535.1,791.5 535.4,789.5 535.6,787.6 535.9,791.8 536.1,792.4 536.4,791.8 536.6,788.5 536.9,788.1 537.1,788.4 537.4,793.2 537.6,790.7 537.9,789.2 538.1,788.8 538.4,784.6 538.6,789.1 538.9,782.9 539.1,789.5 539.4,791.0 539.6,792.1 539.9,788.9 540.1,788.4 540.4,786.6 540.6,788.8 540.9,789.0 541.1,790.3 541.4,789.8 541.6,789.8 541.9,788.4 542.1,788.1 542.4,790.3 542.6,786.6 542.9,786.2 543.1,790.2 543.4,784.9 543.6,788.9 543.9,787.1 544.1,782.4 544.4,790.7 544.6,784.7 544.9,790.9 545.1,787.2 545.4,788.9 545.6,790.3 545.9,789.1 546.1,786.6 546.4,785.6 546.6,789.5 546.9,788.4 547.1,787.6 547.4,787.7 547.6,788.7 547.9,788.4 548.1,786.4 548.4,789.8 548.6,788.8 548.9,791.0 549.1,789.0 549.4,785.9 549.6,787.0 549.9,790.8 550.1,786.6 550.4,786.7 550.6,786.7 550.9,784.0 551.1,790.5 551.4,789.1 551.6,786.4 551.9,789.9 552.1,790.9 552.4,791.0 552.6,790.8 552.9,791.9 553.1,789.2 553.4,790.6 553.6,788.4 553.9,785.6 554.1,789.9 554.4,791.1 554.6,787.7 554.9,793.0 555.1,792.2 555.4,792.1 555.6,791.5 555.9,788.9 556.1,790.2 556.4,793.1 556.6,791.0 556.9,788.6 557.1,792.5 557.4,791.1 557.6,789.3 557.9,790.8 558.1,790.4 558.4,789.2 558.6,789.0 558.9,788.3 559.1,791.7 559.4,791.4 559.6,788.3 559.9,791.5 560.1,788.4 560.4,788.1 560.6,789.5 560.9,791.6 561.1,786.2 561.4,787.1 561.6,790.9 561.9,788.7 562.1,789.2 562.4,788.0 562.6,789.7 562.9,789.6 563.1,790.6 563.4,787.5 563.6,790.0 563.9,784.9 564.1,793.2 564.4,793.2 564.6,791.6 564.9,789.2 565.1,787.1 565.4,785.8 565.6,793.3 565.9,790.5 566.1,788.7 566.4,792.4 566.6,790.7 566.9,792.0 567.1,791.3 567.4,788.4 567.6,788.7 567.9,790.4 568.1,788.4 568.4,790.6 568.6,787.7 568.9,791.3 569.1,785.8 569.4,788.7 569.6,788.9 569.9,788.9 570.1,782.4 570.4,789.6 570.6,791.4 570.9,786.6 571.1,788.4 571.4,787.3 571.6,791.2 571.9,789.7 572.1,791.7 572.4,788.6 572.6,787.5 572.9,789.6 573.1,792.6 573.4,790.2 573.6,793.7 573.9,792.1 574.1,789.1 574.4,789.6 574.6,790.3 574.9,791.0 575.1,791.3 575.4,791.9 575.6,788.3 575.9,791.8 576.1,795.7 576.4,792.3 576.6,784.0 576.9,794.7 577.1,791.6 577.4,793.4 577.6,791.7 577.9,788.2 578.1,789.9 578.4,787.6 578.6,789.0 578.9,788.1 579.1,792.9 579.4,785.1 579.6,789.3 579.9,791.4 580.1,789.2 580.4,787.6 580.6,787.7 580.9,788.3 581.1,792.7 581.4,788.2 581.6,791.8 581.9,787.4 582.1,785.6 582.4,787.7 582.6,792.2 582.9,786.4 583.1,786.4 583.4,791.0 583.6,789.8 583.9,788.5 584.1,792.5 584.4,792.2 584.6,789.7 584.9,793.6 585.1,793.4 585.4,790.0 585.6,790.3 585.9,789.9 586.1,790.9 586.4,791.7 586.6,791.9 586.9,792.3 587.1,792.0 587.4,787.3 587.6,791.5 587.9,795.0 588.1,792.6 588.4,789.7 588.6,793.3 588.9,789.6 589.1,791.0 589.4,790.4 589.6,794.2 589.9,796.1 590.1,792.4 590.4,795.1 590.6,789.9 590.9,785.0 591.1,789.5 591.4,789.1 591.6,790.7 591.9,789.5 592.1,788.7 592.4,792.0 592.6,790.6 592.9,787.7 593.1,791.0 593.4,791.3 593.6,791.2 593.9,792.6 594.1,790.3 594.4,790.3 594.6,793.5 594.9,789.8 595.1,790.0 595.4,793.5 595.6,791.4 595.9,790.0 596.1,791.4 596.4,790.6 596.6,785.1 596.9,787.4 597.1,788.8 597.4,789.9 597.6,788.3 597.9,784.8 598.1,789.7 598.4,789.0 598.6,787.6 598.9,788.5 599.1,788.9 599.4,788.4 599.6,787.4 599.9,788.9 600.1,789.8 600.4,788.5 600.6,788.5 600.9,784.4 601.1,788.0 601.4,790.5 601.6,789.6 601.9,791.8 602.1,787.7 602.4,787.8 602.6,791.0 602.9,792.1 603.1,790.0 603.4,791.5 603.6,787.4 603.9,792.3 604.1,787.9 604.4,789.9 604.6,791.1 604.9,789.9 605.1,787.1 605.4,787.8 605.6,790.2 605.9,792.2 606.1,789.8 606.4,789.1 606.6,787.7 606.9,788.0 607.1,789.2 607.4,792.6 607.6,791.2 607.9,791.4 608.1,788.4 608.4,790.3 608.6,784.7 608.9,791.9 609.1,790.8 609.4,786.9 609.6,790.7 609.9,786.0 610.1,787.9 610.4,789.6 610.6,789.0 610.9,792.2 611.1,792.4 611.4,791.7 611.6,786.2 611.9,790.1 612.1,795.0 612.4,791.0 612.6,788.1 612.9,787.0 613.1,788.4 613.4,793.2 613.6,791.0 613.9,795.0 614.1,790.7 614.4,791.9 614.6,787.6 614.9,795.6 615.1,790.2 615.4,792.8 615.6,794.3 615.9,792.3 616.1,793.2 616.4,788.4 616.6,791.7 616.9,791.3 617.1,791.8 617.4,791.8 617.6,790.6 617.9,789.1 618.1,791.7 618.4,791.2 618.6,788.3 618.9,789.9 619.1,785.7 619.4,791.1 619.6,787.6 619.9,790.3 620.1,789.3 620.4,786.2 620.6,785.5 620.9,791.5 621.1,789.8 621.4,786.0 621.6,788.2 621.9,789.2 622.1,789.5 622.4,785.7 622.6,787.4 622.9,787.7 623.1,786.6 623.4,789.0 623.6,790.0 623.9,792.6 624.1,794.4 624.4,787.3 624.6,789.9 624.9,790.0 625.1,789.5 625.4,790.5 625.6,792.8 625.9,787.9 626.1,789.9 626.4,787.0 626.6,792.4 626.9,792.4 627.1,790.8 627.4,788.6 627.6,790.3 627.9,789.2 628.1,790.2 628.4,793.2 628.6,792.8 628.9,791.3 629.1,787.7 629.4,790.0 629.6,793.6 629.9,787.7 630.1,789.9 630.4,794.9 630.6,786.2 630.9,788.5 631.1,792.2 631.4,791.8 631.6,788.7 631.9,792.7 632.1,791.0 632.4,789.8 632.6,789.8 632.9,791.5 633.1,790.4 633.4,787.7 633.6,787.4 633.9,790.1 634.1,791.6 634.4,793.2 634.6,787.1 634.9,787.6 635.1,790.7 635.4,793.0 635.6,789.4 635.9,790.6 636.1,790.9 636.4,788.9 636.6,790.1 636.9,788.6 637.1,790.7 637.4,784.8 637.6,791.9 637.9,791.4 638.1,790.3 638.4,788.7 638.6,790.4 638.9,793.0 639.1,788.9 639.4,786.2 639.6,789.7 639.9,789.7 640.1,790.3 640.4,791.3 640.6,788.7 640.9,787.8 641.1,790.9 641.4,791.1 641.6,788.6 641.9,787.2 642.1,791.2 642.4,790.6 642.6,793.6 642.9,788.2 643.1,790.9 643.4,791.3 643.6,791.1 643.9,790.3" fill="none" stroke="#38309c" stroke-width="1.30" stroke-linejoin="round"/>
<polyline points="139.8,725.0 140.5,685.7 140.9,679.7 141.3,685.7 142.0,725.0" fill="none" stroke="#38309c" stroke-width="1.5" stroke-linejoin="round"/>
<polyline points="206.8,750.7 207.5,708.8 207.9,702.3 208.3,708.8 209.0,750.7" fill="none" stroke="#38309c" stroke-width="1.5" stroke-linejoin="round"/>
<polyline points="268.1,751.9 268.8,719.7 269.2,714.8 269.6,719.7 270.3,751.9" fill="none" stroke="#38309c" stroke-width="1.5" stroke-linejoin="round"/>
<polyline points="282.9,757.9 283.5,744.5 283.8,742.4 284.1,744.5 284.7,757.9" fill="none" stroke="#38309c" stroke-width="1.5" stroke-linejoin="round"/>
<polyline points="290.1,759.6 290.6,749.5 290.9,747.9 291.2,749.5 291.7,759.6" fill="none" stroke="#38309c" stroke-width="1.5" stroke-linejoin="round"/>
<polyline points="299.5,762.2 300.0,751.9 300.3,750.3 300.6,751.9 301.1,762.2" fill="none" stroke="#38309c" stroke-width="1.5" stroke-linejoin="round"/>
<polygon points="130.0,808.4 131.0,808.0 132.0,807.1 133.0,805.5 134.0,805.2 135.0,804.2 136.0,804.0 137.0,805.8 138.0,803.3 139.0,803.7 140.0,802.8 141.0,804.9 142.0,808.2 143.0,806.9 144.0,805.2 145.0,809.5 146.0,810.0 147.0,810.5 148.0,811.2 149.0,812.0 150.0,811.3 151.0,811.6 152.0,810.9 153.0,816.4 154.0,817.8 155.0,819.9 156.0,821.0 157.0,823.3 158.0,824.8 159.0,825.9 160.0,828.1 161.0,829.4 162.0,829.2 163.0,831.4 164.0,832.6 165.0,834.1 166.0,834.1 167.0,835.1 168.0,836.5 169.0,836.4 170.0,838.9 171.0,839.2 172.0,838.3 173.0,837.9 174.0,840.2 175.0,839.6 176.0,842.3 177.0,840.2 178.0,841.8 179.0,841.2 180.0,839.8 181.0,840.8 182.0,840.8 183.0,840.3 184.0,841.6 185.0,842.3 186.0,841.5 187.0,842.9 188.0,843.1 189.0,842.0 190.0,842.1 191.0,842.0 192.0,839.5 193.0,842.3 194.0,840.0 195.0,841.2 196.0,839.8 197.0,839.9 198.0,839.5 199.0,840.0 200.0,839.8 201.0,839.7 202.0,840.0 203.0,840.3 204.0,839.7 205.0,839.4 206.0,836.6 207.0,837.8 208.0,837.7 209.0,839.4 210.0,836.0 211.0,835.9 212.0,838.2 213.0,838.4 214.0,837.8 215.0,838.2 216.0,836.5 217.0,837.2 218.0,837.0 219.0,836.9 220.0,835.8 221.0,835.3 222.0,836.3 223.0,834.9 224.0,834.0 225.0,834.0 226.0,834.1 227.0,834.8 228.0,833.7 229.0,832.6 230.0,832.3 231.0,832.0 232.0,833.8 233.0,833.2 234.0,833.1 235.0,832.7 236.0,833.0 237.0,832.7 238.0,832.6 239.0,830.7 240.0,830.0 241.0,831.7 242.0,832.1 243.0,829.6 244.0,830.7 245.0,829.2 246.0,830.4 247.0,827.8 248.0,829.1 249.0,828.8 250.0,829.6 251.0,828.2 252.0,827.2 253.0,826.2 254.0,827.0 255.0,828.4 256.0,826.7 257.0,827.1 258.0,826.8 259.0,827.0 260.0,827.8 261.0,826.3 262.0,827.0 263.0,827.0 264.0,825.8 265.0,827.8 266.0,826.4 267.0,827.8 268.0,827.3 269.0,827.5 270.0,827.0 271.0,827.2 272.0,827.8 273.0,824.3 274.0,825.3 275.0,826.1 276.0,825.4 277.0,829.4 278.0,830.0 279.0,827.7 280.0,830.3 281.0,830.5 282.0,831.2 283.0,830.5 284.0,831.6 285.0,829.0 286.0,831.1 287.0,831.4 288.0,833.1 289.0,833.3 290.0,834.0 291.0,833.5 292.0,835.8 293.0,833.4 294.0,837.1 295.0,837.1 296.0,837.4 297.0,838.4 298.0,838.1 299.0,839.9 300.0,838.1 301.0,841.0 302.0,839.0 303.0,841.6 304.0,842.1 305.0,841.7 306.0,843.2 307.0,844.2 308.0,844.0 309.0,843.5 310.0,844.8 311.0,842.8 312.0,845.1 313.0,845.8 314.0,847.5 315.0,845.8 316.0,846.3 317.0,847.6 318.0,846.9 319.0,846.9 320.0,847.5 321.0,848.3 322.0,849.0 323.0,847.8 324.0,847.9 325.0,848.2 326.0,847.4 327.0,848.0 328.0,849.8 329.0,850.8 330.0,853.3 331.0,855.1 332.0,854.4 333.0,857.4 334.0,857.8 335.0,860.2 336.0,858.1 337.0,857.4 338.0,860.9 339.0,860.1 340.0,858.8 341.0,861.6 342.0,862.1 343.0,860.3 344.0,862.6 345.0,861.5 346.0,861.1 347.0,862.4 348.0,861.2 349.0,860.0 350.0,860.1 351.0,860.3 352.0,863.4 353.0,864.0 354.0,863.6 355.0,861.0 356.0,863.6 357.0,863.5 358.0,864.2 359.0,865.6 360.0,865.3 361.0,865.1 362.0,865.5 363.0,864.6 364.0,865.5 365.0,866.8 366.0,868.1 367.0,867.7 368.0,868.5 369.0,867.5 370.0,869.3 371.0,869.3 372.0,869.3 373.0,870.5 374.0,870.2 375.0,870.4 376.0,868.9 377.0,871.3 378.0,869.8 379.0,870.8 380.0,872.6 381.0,872.2 382.0,872.7 383.0,871.6 384.0,871.9 385.0,872.7 386.0,874.2 387.0,874.3 388.0,873.8 389.0,874.2 390.0,874.0 391.0,875.0 392.0,874.9 393.0,874.4 394.0,872.9 395.0,874.6 396.0,874.9 397.0,875.4 398.0,875.7 399.0,874.7 400.0,875.7 401.0,874.5 402.0,875.1 403.0,873.7 404.0,875.3 405.0,875.6 406.0,874.9 407.0,875.5 408.0,875.6 409.0,875.9 410.0,874.7 411.0,874.0 412.0,875.4 413.0,875.3 414.0,875.8 415.0,876.2 416.0,876.2 417.0,875.3 418.0,876.1 419.0,875.7 420.0,876.5 421.0,875.7 422.0,874.8 423.0,876.1 424.0,876.0 425.0,875.1 426.0,876.8 427.0,873.8 428.0,875.5 429.0,874.7 430.0,875.6 431.0,876.3 432.0,874.4 433.0,874.8 434.0,875.8 435.0,874.5 436.0,875.7 437.0,873.2 438.0,875.8 439.0,874.8 440.0,875.5 441.0,875.4 442.0,874.0 443.0,875.4 444.0,875.7 445.0,874.7 446.0,876.3 447.0,876.0 448.0,874.0 449.0,876.4 450.0,876.7 451.0,876.7 452.0,876.6 453.0,875.9 454.0,875.3 455.0,876.8 456.0,875.6 457.0,876.9 458.0,875.5 459.0,877.2 460.0,876.0 461.0,875.5 462.0,876.6 463.0,877.3 464.0,877.8 465.0,877.0 466.0,875.6 467.0,877.6 468.0,876.9 469.0,877.0 470.0,877.5 471.0,877.3 472.0,876.4 473.0,877.6 474.0,877.3 475.0,877.4 476.0,876.8 477.0,877.4 478.0,877.3 479.0,877.3 480.0,876.1 481.0,878.2 482.0,877.9 483.0,877.3 484.0,877.8 485.0,879.1 486.0,879.4 487.0,878.8 488.0,879.4 489.0,877.9 490.0,878.9 491.0,879.0 492.0,879.5 493.0,879.1 494.0,880.0 495.0,879.7 496.0,879.5 497.0,880.0 498.0,881.1 499.0,881.3 500.0,881.2 501.0,881.8 502.0,882.4 503.0,882.0 504.0,882.2 505.0,881.3 506.0,883.1 507.0,882.4 508.0,883.2 509.0,881.9 510.0,883.3 511.0,883.2 512.0,883.8 513.0,884.6 514.0,883.9 515.0,884.0 516.0,883.8 517.0,884.9 518.0,885.3 519.0,885.4 520.0,885.2 521.0,885.5 522.0,885.1 523.0,885.0 524.0,885.9 525.0,886.2 526.0,885.5 527.0,886.0 528.0,885.1 529.0,885.5 530.0,885.4 531.0,884.6 532.0,884.0 533.0,887.3 534.0,887.2 535.0,887.3 536.0,887.3 537.0,887.4 538.0,887.7 539.0,888.1 540.0,888.1 541.0,888.2 542.0,887.9 543.0,886.5 544.0,887.5 545.0,887.9 546.0,888.6 547.0,888.0 548.0,888.7 549.0,889.2 550.0,888.9 551.0,889.1 552.0,889.6 553.0,889.5 554.0,888.8 555.0,889.2 556.0,889.7 557.0,889.2 558.0,890.2 559.0,890.5 560.0,891.3 561.0,890.2 562.0,891.1 563.0,890.9 564.0,891.0 565.0,890.2 566.0,889.7 567.0,891.9 568.0,891.6 569.0,892.0 570.0,891.9 571.0,892.3 572.0,892.5 573.0,892.3 574.0,893.1 575.0,892.5 576.0,892.7 577.0,894.0 578.0,893.7 579.0,893.4 580.0,892.2 581.0,893.8 582.0,894.2 583.0,894.1 584.0,893.6 585.0,892.6 586.0,894.7 587.0,894.1 588.0,893.5 589.0,894.7 590.0,894.0 591.0,894.7 592.0,893.2 593.0,894.8 594.0,894.6 595.0,894.7 596.0,895.5 597.0,894.0 598.0,895.9 599.0,896.0 600.0,896.1 601.0,895.5 602.0,895.8 603.0,896.3 604.0,895.1 605.0,894.8 606.0,896.3 607.0,896.8 608.0,896.6 609.0,895.8 610.0,896.9 611.0,896.6 612.0,896.0 613.0,897.0 614.0,894.0 615.0,896.4 616.0,897.0 617.0,897.3 618.0,895.2 619.0,895.5 620.0,896.6 621.0,896.7 622.0,894.8 623.0,896.3 624.0,896.7 625.0,897.3 626.0,896.9 627.0,897.8 628.0,897.1 629.0,898.1 630.0,898.1 631.0,897.5 632.0,897.0 633.0,895.5 634.0,896.8 635.0,898.0 636.0,896.8 637.0,897.2 638.0,896.6 639.0,897.2 640.0,897.1 641.0,897.1 642.0,898.3 643.0,897.5 644.0,898.5 644.0,906.6 643.0,906.6 642.0,907.5 641.0,907.1 640.0,905.9 639.0,905.7 638.0,906.3 637.0,906.5 636.0,906.1 635.0,906.9 634.0,907.8 633.0,906.8 632.0,905.8 631.0,905.6 630.0,906.6 629.0,906.3 628.0,907.5 627.0,906.5 626.0,907.7 625.0,906.3 624.0,907.1 623.0,906.6 622.0,907.1 621.0,905.5 620.0,906.8 619.0,905.7 618.0,905.8 617.0,907.5 616.0,906.4 615.0,906.3 614.0,905.3 613.0,906.0 612.0,905.7 611.0,905.4 610.0,905.7 609.0,905.4 608.0,905.5 607.0,904.9 606.0,905.1 605.0,907.6 604.0,904.5 603.0,905.5 602.0,905.0 601.0,904.7 600.0,904.6 599.0,905.5 598.0,906.4 597.0,904.1 596.0,904.5 595.0,904.3 594.0,905.0 593.0,904.1 592.0,904.0 591.0,903.6 590.0,904.9 589.0,903.9 588.0,903.8 587.0,904.2 586.0,904.2 585.0,903.6 584.0,903.1 583.0,903.8 582.0,903.6 581.0,902.4 580.0,903.2 579.0,902.8 578.0,903.9 577.0,902.9 576.0,905.2 575.0,902.7 574.0,903.3 573.0,902.3 572.0,904.2 571.0,902.6 570.0,901.4 569.0,902.7 568.0,902.3 567.0,903.0 566.0,902.1 565.0,901.3 564.0,902.2 563.0,900.7 562.0,900.2 561.0,900.8 560.0,900.2 559.0,899.8 558.0,900.1 557.0,899.6 556.0,901.2 555.0,899.0 554.0,898.9 553.0,899.9 552.0,898.7 551.0,899.7 550.0,900.3 549.0,898.8 548.0,898.4 547.0,899.4 546.0,899.3 545.0,898.3 544.0,898.2 543.0,899.6 542.0,898.2 541.0,900.7 540.0,898.1 539.0,897.4 538.0,897.0 537.0,897.0 536.0,896.8 535.0,896.9 534.0,896.5 533.0,897.2 532.0,896.3 531.0,895.9 530.0,895.6 529.0,895.3 528.0,897.3 527.0,895.6 526.0,895.2 525.0,895.7 524.0,896.1 523.0,895.5 522.0,895.6 521.0,896.3 520.0,895.6 519.0,895.7 518.0,894.8 517.0,894.3 516.0,894.2 515.0,894.6 514.0,894.3 513.0,894.6 512.0,894.9 511.0,894.2 510.0,894.0 509.0,892.9 508.0,894.1 507.0,894.4 506.0,892.6 505.0,892.3 504.0,892.4 503.0,892.9 502.0,892.1 501.0,892.9 500.0,892.6 499.0,891.1 498.0,891.8 497.0,891.2 496.0,891.9 495.0,890.2 494.0,889.8 493.0,889.7 492.0,889.8 491.0,889.5 490.0,889.6 489.0,890.3 488.0,888.8 487.0,890.2 486.0,891.1 485.0,889.6 484.0,888.4 483.0,888.9 482.0,888.5 481.0,888.8 480.0,887.4 479.0,887.9 478.0,887.1 477.0,887.9 476.0,888.2 475.0,887.8 474.0,887.3 473.0,887.4 472.0,888.8 471.0,887.7 470.0,887.3 469.0,888.9 468.0,887.4 467.0,888.0 466.0,888.6 465.0,889.4 464.0,887.4 463.0,888.5 462.0,889.4 461.0,887.3 460.0,887.9 459.0,889.6 458.0,888.4 457.0,888.2 456.0,889.0 455.0,887.8 454.0,888.0 453.0,888.0 452.0,887.5 451.0,889.9 450.0,887.0 449.0,887.8 448.0,887.8 447.0,887.6 446.0,887.0 445.0,887.2 444.0,888.1 443.0,886.9 442.0,886.4 441.0,886.1 440.0,886.7 439.0,887.7 438.0,887.7 437.0,885.9 436.0,886.9 435.0,886.7 434.0,887.1 433.0,886.9 432.0,887.3 431.0,888.7 430.0,887.2 429.0,887.6 428.0,889.0 427.0,887.0 426.0,888.2 425.0,888.4 424.0,888.2 423.0,889.7 422.0,888.3 421.0,888.9 420.0,887.6 419.0,887.1 418.0,887.4 417.0,887.3 416.0,887.2 415.0,887.9 414.0,888.3 413.0,887.5 412.0,887.1 411.0,888.1 410.0,887.4 409.0,887.0 408.0,887.5 407.0,887.7 406.0,887.7 405.0,887.8 404.0,887.3 403.0,887.7 402.0,888.0 401.0,890.0 400.0,889.1 399.0,888.4 398.0,887.8 397.0,886.3 396.0,887.0 395.0,888.5 394.0,887.3 393.0,889.6 392.0,886.8 391.0,888.0 390.0,886.1 389.0,887.0 388.0,885.9 387.0,886.2 386.0,886.4 385.0,885.1 384.0,885.4 383.0,884.8 382.0,885.5 381.0,885.2 380.0,885.0 379.0,883.5 378.0,882.8 377.0,884.3 376.0,884.1 375.0,883.6 374.0,883.6 373.0,884.7 372.0,881.6 371.0,880.9 370.0,881.1 369.0,881.1 368.0,880.9 367.0,880.3 366.0,880.8 365.0,878.8 364.0,879.2 363.0,878.7 362.0,879.3 361.0,879.9 360.0,877.5 359.0,877.5 358.0,876.9 357.0,876.8 356.0,877.2 355.0,876.1 354.0,876.4 353.0,877.7 352.0,875.4 351.0,876.4 350.0,875.8 349.0,876.2 348.0,875.0 347.0,874.6 346.0,874.9 345.0,875.5 344.0,876.4 343.0,875.5 342.0,874.6 341.0,874.9 340.0,873.7 339.0,875.9 338.0,874.8 337.0,874.9 336.0,874.0 335.0,872.8 334.0,872.7 333.0,871.5 332.0,870.4 331.0,867.6 330.0,867.0 329.0,866.3 328.0,866.1 327.0,863.3 326.0,861.9 325.0,863.1 324.0,861.9 323.0,861.1 322.0,862.0 321.0,862.7 320.0,861.6 319.0,863.1 318.0,861.4 317.0,860.4 316.0,862.9 315.0,859.6 314.0,860.2 313.0,860.6 312.0,859.4 311.0,859.8 310.0,859.2 309.0,859.6 308.0,859.9 307.0,858.4 306.0,858.5 305.0,856.4 304.0,855.9 303.0,856.8 302.0,854.3 301.0,854.7 300.0,852.9 299.0,853.1 298.0,852.8 297.0,853.7 296.0,851.3 295.0,850.8 294.0,850.7 293.0,849.0 292.0,849.1 291.0,848.9 290.0,848.6 289.0,847.6 288.0,847.2 287.0,847.7 286.0,849.2 285.0,847.9 284.0,845.7 283.0,846.9 282.0,845.5 281.0,844.4 280.0,843.6 279.0,843.2 278.0,843.6 277.0,843.5 276.0,845.5 275.0,842.7 274.0,842.4 273.0,842.2 272.0,841.8 271.0,841.9 270.0,841.2 269.0,840.8 268.0,840.4 267.0,841.9 266.0,841.1 265.0,840.8 264.0,843.9 263.0,841.6 262.0,841.1 261.0,840.2 260.0,841.5 259.0,844.0 258.0,841.6 257.0,843.3 256.0,843.7 255.0,842.9 254.0,842.5 253.0,842.2 252.0,845.0 251.0,842.7 250.0,844.1 249.0,843.3 248.0,843.6 247.0,848.4 246.0,845.0 245.0,843.8 244.0,844.2 243.0,846.6 242.0,847.0 241.0,846.4 240.0,849.9 239.0,847.7 238.0,846.6 237.0,847.4 236.0,846.9 235.0,847.7 234.0,848.1 233.0,848.0 232.0,848.8 231.0,849.9 230.0,847.7 229.0,847.3 228.0,847.9 227.0,849.1 226.0,850.5 225.0,852.8 224.0,850.0 223.0,852.2 222.0,852.4 221.0,850.7 220.0,851.5 219.0,852.5 218.0,851.3 217.0,857.0 216.0,854.2 215.0,853.5 214.0,853.2 213.0,853.1 212.0,852.5 211.0,853.1 210.0,854.2 209.0,854.2 208.0,855.7 207.0,853.4 206.0,854.0 205.0,854.7 204.0,853.5 203.0,854.4 202.0,856.6 201.0,855.4 200.0,853.8 199.0,853.8 198.0,854.4 197.0,854.8 196.0,856.6 195.0,855.6 194.0,857.0 193.0,856.7 192.0,857.3 191.0,856.2 190.0,856.9 189.0,857.5 188.0,858.8 187.0,858.5 186.0,857.4 185.0,856.7 184.0,857.8 183.0,858.7 182.0,859.6 181.0,858.3 180.0,856.9 179.0,860.1 178.0,858.9 177.0,857.4 176.0,857.1 175.0,857.5 174.0,858.0 173.0,854.7 172.0,856.9 171.0,856.3 170.0,856.0 169.0,853.1 168.0,854.6 167.0,854.1 166.0,852.7 165.0,850.5 164.0,853.0 163.0,847.6 162.0,845.0 161.0,843.5 160.0,842.9 159.0,842.3 158.0,839.6 157.0,840.2 156.0,838.6 155.0,834.1 154.0,834.5 153.0,830.9 152.0,829.7 151.0,828.7 150.0,830.6 149.0,826.8 148.0,826.7 147.0,825.9 146.0,825.9 145.0,824.8 144.0,823.2 143.0,822.8 142.0,823.3 141.0,823.5 140.0,822.7 139.0,821.1 138.0,822.6 137.0,820.6 136.0,821.4 135.0,820.8 134.0,822.7 133.0,823.8 132.0,821.6 131.0,824.4 130.0,825.3" fill="#f9c022" stroke="none"/>
<polyline points="130.0,806.7 130.2,815.4 130.5,801.2 130.8,831.5 131.0,824.0 131.2,810.8 131.5,811.6 131.8,811.7 132.0,815.3 132.2,816.0 132.5,827.5 132.8,810.7 133.0,800.3 133.2,815.3 133.5,816.1 133.8,807.1 134.0,818.5 134.2,811.4 134.5,807.1 134.8,812.1 135.0,803.7 135.2,810.1 135.5,825.0 135.8,821.4 136.0,817.4 136.2,814.2 136.5,815.5 136.8,805.2 137.0,814.8 137.2,808.4 137.5,809.2 137.8,824.5 138.0,808.2 138.2,814.1 138.5,814.2 138.8,820.8 139.0,812.3 139.2,817.6 139.5,817.0 139.8,813.2 140.0,810.7 140.2,807.6 140.5,822.3 140.8,808.9 141.0,823.0 141.2,826.7 141.5,811.1 141.8,808.6 142.0,808.2 142.2,811.6 142.5,824.4 142.8,809.7 143.0,808.2 143.2,804.0 143.5,816.3 143.8,818.8 144.0,826.6 144.2,817.9 144.5,816.1 144.8,816.2 145.0,835.2 145.2,827.8 145.5,823.3 145.8,814.7 146.0,815.9 146.2,816.8 146.5,817.1 146.8,821.0 147.0,813.2 147.2,831.2 147.5,811.5 147.8,823.0 148.0,823.8 148.2,825.5 148.5,828.4 148.8,821.2 149.0,820.6 149.2,829.3 149.5,828.4 149.8,819.4 150.0,825.8 150.2,811.4 150.5,822.2 150.8,805.2 151.0,828.4 151.2,816.1 151.5,827.3 151.8,824.5 152.0,817.8 152.2,828.2 152.5,834.2 152.8,817.3 153.0,837.0 153.2,827.1 153.5,818.6 153.8,823.7 154.0,828.5 154.2,831.3 154.5,821.1 154.8,824.5 155.0,830.7 155.2,829.6 155.5,841.5 155.8,834.1 156.0,835.1 156.2,823.3 156.5,823.7 156.8,823.1 157.0,830.3 157.2,835.4 157.5,843.2 157.8,838.8 158.0,826.9 158.2,832.4 158.5,847.8 158.8,834.5 159.0,837.8 159.2,825.2 159.5,825.4 159.8,831.9 160.0,833.7 160.2,839.3 160.5,835.2 160.8,824.8 161.0,853.2 161.2,839.6 161.5,826.1 161.8,849.3 162.0,843.8 162.2,837.1 162.5,838.9 162.8,842.7 163.0,824.1 163.2,846.7 163.5,842.2 163.8,845.4 164.0,837.3 164.2,837.5 164.5,852.8 164.8,824.0 165.0,851.3 165.2,851.1 165.5,832.3 165.8,841.8 166.0,838.8 166.2,840.0 166.5,835.4 166.8,835.0 167.0,844.8 167.2,842.7 167.5,848.5 167.8,849.9 168.0,841.2 168.2,859.3 168.5,856.4 168.8,835.0 169.0,844.6 169.2,843.4 169.5,848.7 169.8,839.5 170.0,857.1 170.2,843.9 170.5,860.9 170.8,841.7 171.0,860.0 171.2,849.8 171.5,853.5 171.8,849.5 172.0,849.8 172.2,841.0 172.5,846.6 172.8,843.0 173.0,846.6 173.2,845.6 173.5,853.5 173.8,850.5 174.0,846.8 174.2,837.1 174.5,855.2 174.8,844.2 175.0,846.6 175.2,852.3 175.5,849.3 175.8,850.3 176.0,850.8 176.2,837.8 176.5,855.3 176.8,849.1 177.0,855.3 177.2,850.8 177.5,847.5 177.8,859.8 178.0,851.1 178.2,856.7 178.5,854.0 178.8,855.2 179.0,856.8 179.2,854.1 179.5,844.0 179.8,848.5 180.0,859.0 180.2,849.1 180.5,847.7 180.8,850.2 181.0,856.4 181.2,844.6 181.5,849.9 181.8,847.2 182.0,845.8 182.2,855.1 182.5,846.7 182.8,850.7 183.0,852.9 183.2,853.5 183.5,853.5 183.8,855.1 184.0,845.2 184.2,834.2 184.5,855.8 184.8,860.9 185.0,847.5 185.2,850.5 185.5,855.8 185.8,844.8 186.0,849.7 186.2,847.3 186.5,853.5 186.8,850.3 187.0,860.8 187.2,844.3 187.5,845.9 187.8,841.2 188.0,851.7 188.2,849.5 188.5,848.5 188.8,853.6 189.0,843.5 189.2,840.5 189.5,863.4 189.8,849.9 190.0,843.3 190.2,856.4 190.5,850.4 190.8,843.4 191.0,851.6 191.2,856.3 191.5,854.2 191.8,848.8 192.0,860.4 192.2,843.8 192.5,848.2 192.8,852.5 193.0,842.7 193.2,853.6 193.5,851.5 193.8,855.5 194.0,851.0 194.2,861.6 194.5,840.1 194.8,846.3 195.0,845.5 195.2,848.8 195.5,852.8 195.8,841.7 196.0,854.9 196.2,855.7 196.5,849.0 196.8,839.4 197.0,852.3 197.2,850.8 197.5,841.9 197.8,843.3 198.0,844.2 198.2,838.4 198.5,849.7 198.8,854.4 199.0,849.4 199.2,842.7 199.5,846.7 199.8,846.9 200.0,858.8 200.2,844.1 200.5,850.2 200.8,845.1 201.0,854.3 201.2,841.9 201.5,850.4 201.8,844.8 202.0,851.0 202.2,838.0 202.5,846.5 202.8,854.3 203.0,851.6 203.2,840.8 203.5,863.8 203.8,849.9 204.0,845.4 204.2,844.6 204.5,840.9 204.8,856.5 205.0,855.0 205.2,856.2 205.5,840.5 205.8,835.0 206.0,833.1 206.2,837.4 206.5,843.3 206.8,839.3 207.0,836.2 207.2,849.9 207.5,842.4 207.8,848.9 208.0,854.7 208.2,841.9 208.5,843.6 208.8,854.5 209.0,837.0 209.2,843.5 209.5,839.2 209.8,845.0 210.0,842.4 210.2,847.4 210.5,843.1 210.8,853.6 211.0,841.0 211.2,845.1 211.5,850.1 211.8,840.2 212.0,841.6 212.2,844.8 212.5,843.0 212.8,850.6 213.0,841.0 213.2,836.2 213.5,849.9 213.8,840.4 214.0,841.4 214.2,843.8 214.5,852.5 214.8,850.4 215.0,846.6 215.2,847.1 215.5,842.7 215.8,856.1 216.0,851.8 216.2,839.7 216.5,850.6 216.8,836.1 217.0,839.3 217.2,839.8 217.5,854.1 217.8,856.6 218.0,844.2 218.2,840.8 218.5,852.5 218.8,840.7 219.0,854.3 219.2,837.9 219.5,849.9 219.8,838.6 220.0,854.7 220.2,844.5 220.5,839.5 220.8,844.4 221.0,828.4 221.2,843.9 221.5,847.5 221.8,857.8 222.0,836.0 222.2,850.5 222.5,850.7 222.8,847.3 223.0,840.5 223.2,843.5 223.5,837.2 223.8,844.1 224.0,834.8 224.2,838.9 224.5,842.7 224.8,836.5 225.0,833.9 225.2,841.6 225.5,844.1 225.8,846.5 226.0,844.7 226.2,852.4 226.5,841.4 226.8,849.9 227.0,835.1 227.2,845.5 227.5,845.7 227.8,852.7 228.0,837.1 228.2,852.5 228.5,840.1 228.8,837.8 229.0,829.9 229.2,846.1 229.5,837.0 229.8,845.9 230.0,841.5 230.2,845.1 230.5,840.6 230.8,835.8 231.0,837.4 231.2,840.2 231.5,843.0 231.8,835.6 232.0,846.3 232.2,827.5 232.5,832.0 232.8,844.7 233.0,842.3 233.2,853.1 233.5,846.9 233.8,833.9 234.0,833.4 234.2,840.4 234.5,839.7 234.8,844.8 235.0,836.7 235.2,835.3 235.5,835.2 235.8,839.6 236.0,834.2 236.2,838.7 236.5,844.2 236.8,838.5 237.0,832.8 237.2,842.8 237.5,844.3 237.8,833.8 238.0,836.7 238.2,829.3 238.5,832.9 238.8,832.4 239.0,830.8 239.2,835.2 239.5,851.2 239.8,846.3 240.0,836.4 240.2,841.5 240.5,839.1 240.8,839.4 241.0,826.2 241.2,837.2 241.5,831.1 241.8,835.5 242.0,837.9 242.2,821.7 242.5,822.2 242.8,840.6 243.0,846.3 243.2,843.4 243.5,830.7 243.8,835.0 244.0,841.3 244.2,836.0 244.5,823.3 244.8,841.7 245.0,832.9 245.2,837.1 245.5,826.1 245.8,829.9 246.0,844.6 246.2,834.1 246.5,839.8 246.8,847.1 247.0,837.0 247.2,836.8 247.5,834.9 247.8,841.5 248.0,838.5 248.2,839.1 248.5,846.3 248.8,839.7 249.0,844.2 249.2,830.9 249.5,834.5 249.8,840.2 250.0,830.8 250.2,827.0 250.5,835.4 250.8,832.8 251.0,838.1 251.2,845.6 251.5,832.8 251.8,828.7 252.0,833.5 252.2,831.7 252.5,831.8 252.8,842.1 253.0,838.4 253.2,837.5 253.5,833.6 253.8,841.1 254.0,834.5 254.2,845.7 254.5,835.0 254.8,834.3 255.0,839.0 255.2,847.9 255.5,823.6 255.8,837.4 256.0,827.1 256.2,824.2 256.5,831.5 256.8,839.4 257.0,823.8 257.2,831.6 257.5,845.3 257.8,841.8 258.0,831.9 258.2,838.3 258.5,834.6 258.8,830.6 259.0,829.2 259.2,841.8 259.5,830.0 259.8,833.2 260.0,830.9 260.2,824.7 260.5,832.5 260.8,845.2 261.0,827.3 261.2,833.2 261.5,841.1 261.8,836.5 262.0,833.5 262.2,837.2 262.5,835.7 262.8,833.5 263.0,828.7 263.2,831.0 263.5,822.9 263.8,834.6 264.0,832.4 264.2,830.1 264.5,824.4 264.8,830.9 265.0,822.8 265.2,837.7 265.5,826.4 265.8,839.0 266.0,828.4 266.2,837.9 266.5,837.3 266.8,839.0 267.0,831.9 267.2,822.2 267.5,836.5 267.8,830.1 268.0,824.3 268.2,827.0 268.5,835.3 268.8,837.8 269.0,836.1 269.2,838.3 269.5,840.6 269.8,831.9 270.0,834.1 270.2,832.5 270.5,832.3 270.8,833.2 271.0,835.3 271.2,830.9 271.5,834.9 271.8,839.7 272.0,832.4 272.2,837.6 272.5,828.9 272.8,829.4 273.0,845.0 273.2,833.9 273.5,842.3 273.8,823.1 274.0,820.6 274.2,834.7 274.5,833.3 274.8,821.2 275.0,839.4 275.2,839.1 275.5,831.1 275.8,838.9 276.0,839.2 276.2,836.3 276.5,832.4 276.8,839.7 277.0,833.1 277.2,832.8 277.5,827.7 277.8,836.6 278.0,843.6 278.2,833.2 278.5,833.1 278.8,828.3 279.0,834.8 279.2,841.3 279.5,835.4 279.8,840.1 280.0,843.1 280.2,831.3 280.5,833.2 280.8,840.6 281.0,835.2 281.2,830.8 281.5,837.2 281.8,839.7 282.0,843.7 282.2,832.1 282.5,839.4 282.8,840.3 283.0,821.8 283.2,842.1 283.5,837.6 283.8,828.5 284.0,849.1 284.2,841.0 284.5,840.1 284.8,852.7 285.0,844.9 285.2,832.7 285.5,838.9 285.8,849.2 286.0,846.5 286.2,848.4 286.5,839.1 286.8,846.0 287.0,835.7 287.2,838.4 287.5,843.4 287.8,839.1 288.0,843.5 288.2,839.1 288.5,841.8 288.8,852.7 289.0,843.7 289.2,846.7 289.5,831.8 289.8,836.9 290.0,846.1 290.2,831.1 290.5,838.5 290.8,839.1 291.0,848.4 291.2,831.2 291.5,838.7 291.8,841.9 292.0,842.8 292.2,832.4 292.5,849.6 292.8,846.2 293.0,850.0 293.2,845.9 293.5,846.3 293.8,841.2 294.0,841.4 294.2,836.0 294.5,845.7 294.8,836.4 295.0,850.5 295.2,847.0 295.5,840.5 295.8,845.3 296.0,835.0 296.2,838.5 296.5,840.6 296.8,836.2 297.0,841.2 297.2,843.5 297.5,841.1 297.8,840.1 298.0,838.2 298.2,833.7 298.5,848.9 298.8,843.1 299.0,852.9 299.2,839.2 299.5,843.2 299.8,850.0 300.0,854.5 300.2,852.1 300.5,851.6 300.8,838.5 301.0,849.9 301.2,857.8 301.5,834.3 301.8,849.2 302.0,860.4 302.2,841.1 302.5,849.3 302.8,859.6 303.0,851.4 303.2,849.1 303.5,853.4 303.8,847.4 304.0,853.2 304.2,848.1 304.5,854.0 304.8,844.3 305.0,848.8 305.2,850.6 305.5,836.8 305.8,855.4 306.0,848.0 306.2,846.5 306.5,842.1 306.8,849.9 307.0,845.1 307.2,854.4 307.5,860.2 307.8,848.3 308.0,846.9 308.2,850.3 308.5,849.6 308.8,854.4 309.0,839.9 309.2,854.9 309.5,851.4 309.8,848.5 310.0,842.6 310.2,856.9 310.5,858.0 310.8,853.5 311.0,855.8 311.2,856.8 311.5,853.1 311.8,856.8 312.0,846.6 312.2,857.3 312.5,838.4 312.8,859.7 313.0,862.4 313.2,860.1 313.5,848.5 313.8,852.0 314.0,856.7 314.2,848.5 314.5,855.7 314.8,852.9 315.0,862.0 315.2,850.7 315.5,850.4 315.8,856.9 316.0,859.9 316.2,851.8 316.5,845.8 316.8,846.3 317.0,844.5 317.2,854.2 317.5,847.9 317.8,853.8 318.0,845.6 318.2,852.3 318.5,857.3 318.8,848.0 319.0,860.8 319.2,854.5 319.5,849.6 319.8,852.2 320.0,853.8 320.2,849.5 320.5,851.2 320.8,856.1 321.0,843.6 321.2,868.7 321.5,859.7 321.8,861.9 322.0,868.1 322.2,859.2 322.5,855.1 322.8,854.4 323.0,858.1 323.2,863.0 323.5,849.8 323.8,865.0 324.0,853.1 324.2,849.1 324.5,863.0 324.8,852.3 325.0,859.5 325.2,847.6 325.5,859.7 325.8,852.9 326.0,862.4 326.2,847.0 326.5,852.0 326.8,850.4 327.0,857.3 327.2,850.3 327.5,854.1 327.8,856.2 328.0,854.4 328.2,858.2 328.5,859.2 328.8,848.9 329.0,864.1 329.2,852.5 329.5,854.6 329.8,869.0 330.0,855.8 330.2,859.2 330.5,864.4 330.8,857.0 331.0,860.4 331.2,860.0 331.5,860.7 331.8,855.1 332.0,868.3 332.2,862.8 332.5,866.4 332.8,863.5 333.0,860.2 333.2,870.6 333.5,860.0 333.8,870.1 334.0,860.6 334.2,861.3 334.5,866.2 334.8,879.0 335.0,871.3 335.2,866.7 335.5,868.5 335.8,872.7 336.0,863.7 336.2,855.7 336.5,860.6 336.8,866.4 337.0,862.5 337.2,865.2 337.5,874.9 337.8,865.4 338.0,863.5 338.2,867.0 338.5,873.9 338.8,876.6 339.0,871.0 339.2,865.7 339.5,864.8 339.8,861.0 340.0,863.9 340.2,872.5 340.5,870.9 340.8,869.4 341.0,862.1 341.2,867.5 341.5,864.1 341.8,876.5 342.0,868.2 342.2,867.6 342.5,868.2 342.8,868.3 343.0,868.7 343.2,865.2 343.5,869.9 343.8,868.7 344.0,873.2 344.2,871.4 344.5,872.2 344.8,865.6 345.0,868.3 345.2,856.0 345.5,863.4 345.8,866.0 346.0,855.2 346.2,874.8 346.5,873.6 346.8,869.1 347.0,881.3 347.2,859.9 347.5,868.8 347.8,868.9 348.0,865.7 348.2,876.5 348.5,874.3 348.8,871.1 349.0,863.5 349.2,870.1 349.5,869.1 349.8,871.3 350.0,860.7 350.2,863.0 350.5,874.6 350.8,869.2 351.0,868.5 351.2,868.7 351.5,854.6 351.8,877.0 352.0,861.1 352.2,862.7 352.5,872.2 352.8,876.9 353.0,876.1 353.2,866.7 353.5,865.1 353.8,873.0 354.0,870.7 354.2,859.8 354.5,876.7 354.8,859.2 355.0,871.7 355.2,871.2 355.5,873.7 355.8,870.5 356.0,874.5 356.2,871.7 356.5,865.6 356.8,867.0 357.0,877.8 357.2,860.1 357.5,874.3 357.8,867.3 358.0,861.1 358.2,866.1 358.5,873.3 358.8,856.7 359.0,876.2 359.2,877.9 359.5,869.1 359.8,869.5 360.0,871.7 360.2,876.4 360.5,866.1 360.8,869.5 361.0,874.0 361.2,864.2 361.5,874.0 361.8,872.0 362.0,876.5 362.2,866.1 362.5,872.0 362.8,874.3 363.0,872.5 363.2,866.6 363.5,878.5 363.8,872.2 364.0,873.7 364.2,873.2 364.5,876.5 364.8,873.4 365.0,869.3 365.2,877.5 365.5,872.7 365.8,874.0 366.0,874.7 366.2,867.7 366.5,874.5 366.8,876.0 367.0,866.7 367.2,872.6 367.5,873.8 367.8,877.9 368.0,872.6 368.2,874.6 368.5,877.6 368.8,868.1 369.0,870.7 369.2,873.1 369.5,878.6 369.8,881.9 370.0,875.4 370.2,874.4 370.5,872.2 370.8,875.6 371.0,883.9 371.2,874.6 371.5,872.6 371.8,883.8 372.0,874.8 372.2,874.7 372.5,871.3 372.8,881.4 373.0,875.2 373.2,866.5 373.5,865.1 373.8,878.0 374.0,873.4 374.2,879.0 374.5,879.0 374.8,884.4 375.0,884.0 375.2,870.9 375.5,875.0 375.8,872.7 376.0,881.4 376.2,869.2 376.5,880.1 376.8,868.0 377.0,882.2 377.2,883.0 377.5,868.6 377.8,877.3 378.0,874.0 378.2,868.4 378.5,882.0 378.8,873.2 379.0,883.0 379.2,880.1 379.5,887.3 379.8,875.7 380.0,882.5 380.2,879.3 380.5,876.5 380.8,884.1 381.0,878.9 381.2,876.3 381.5,879.8 381.8,872.1 382.0,884.7 382.2,887.4 382.5,871.0 382.8,879.3 383.0,876.9 383.2,875.1 383.5,882.9 383.8,887.6 384.0,880.6 384.2,877.6 384.5,888.0 384.8,877.6 385.0,875.7 385.2,876.4 385.5,884.1 385.8,879.9 386.0,880.7 386.2,876.7 386.5,881.8 386.8,879.7 387.0,888.9 387.2,880.0 387.5,875.0 387.8,888.9 388.0,881.5 388.2,880.0 388.5,882.5 388.8,880.5 389.0,869.2 389.2,880.4 389.5,886.9 389.8,885.3 390.0,876.4 390.2,878.7 390.5,883.0 390.8,891.2 391.0,882.4 391.2,881.8 391.5,877.8 391.8,878.9 392.0,878.4 392.2,880.8 392.5,876.3 392.8,879.2 393.0,875.1 393.2,887.0 393.5,884.5 393.8,880.4 394.0,879.8 394.2,884.9 394.5,881.7 394.8,878.5 395.0,867.4 395.2,871.5 395.5,884.2 395.8,880.1 396.0,877.1 396.2,872.0 396.5,884.3 396.8,875.0 397.0,881.5 397.2,880.4 397.5,878.2 397.8,875.3 398.0,882.7 398.2,874.2 398.5,878.1 398.8,880.7 399.0,887.0 399.2,879.2 399.5,881.8 399.8,884.1 400.0,868.8 400.2,876.3 400.5,879.4 400.8,877.4 401.0,885.3 401.2,878.6 401.5,884.2 401.8,885.9 402.0,880.0 402.2,883.1 402.5,888.4 402.8,886.0 403.0,881.6 403.2,873.0 403.5,878.3 403.8,881.0 404.0,883.2 404.2,882.5 404.5,881.6 404.8,876.6 405.0,884.8 405.2,886.4 405.5,881.4 405.8,882.1 406.0,885.8 406.2,879.8 406.5,883.6 406.8,886.3 407.0,878.0 407.2,881.2 407.5,877.8 407.8,876.3 408.0,872.5 408.2,883.4 408.5,894.1 408.8,879.8 409.0,889.2 409.2,886.7 409.5,879.5 409.8,886.0 410.0,879.7 410.2,871.3 410.5,885.8 410.8,880.4 411.0,880.5 411.2,884.9 411.5,886.3 411.8,880.6 412.0,883.1 412.2,883.5 412.5,878.0 412.8,885.9 413.0,879.2 413.2,883.9 413.5,886.5 413.8,886.7 414.0,872.2 414.2,878.2 414.5,880.1 414.8,877.8 415.0,881.0 415.2,881.3 415.5,882.0 415.8,892.7 416.0,882.7 416.2,882.1 416.5,878.1 416.8,880.8 417.0,880.8 417.2,884.8 417.5,875.8 417.8,880.4 418.0,876.5 418.2,873.2 418.5,885.0 418.8,880.7 419.0,883.2 419.2,889.6 419.5,888.7 419.8,881.5 420.0,883.6 420.2,879.7 420.5,881.1 420.8,874.6 421.0,885.8 421.2,882.5 421.5,887.0 421.8,890.9 422.0,878.2 422.2,883.1 422.5,881.0 422.8,888.2 423.0,881.0 423.2,890.2 423.5,893.2 423.8,891.9 424.0,891.7 424.2,884.0 424.5,882.4 424.8,875.8 425.0,883.3 425.2,874.6 425.5,877.7 425.8,888.2 426.0,887.0 426.2,877.0 426.5,892.8 426.8,876.9 427.0,876.7 427.2,888.9 427.5,889.7 427.8,881.3 428.0,885.1 428.2,874.8 428.5,885.9 428.8,879.5 429.0,886.6 429.2,879.0 429.5,879.7 429.8,885.2 430.0,884.8 430.2,879.9 430.5,874.6 430.8,883.4 431.0,888.5 431.2,885.4 431.5,875.5 431.8,882.0 432.0,882.5 432.2,889.0 432.5,880.8 432.8,880.4 433.0,889.1 433.2,875.5 433.5,878.1 433.8,876.8 434.0,886.7 434.2,878.0 434.5,884.6 434.8,877.9 435.0,887.9 435.2,883.5 435.5,877.9 435.8,884.2 436.0,882.4 436.2,880.9 436.5,876.4 436.8,889.8 437.0,881.5 437.2,879.1 437.5,881.4 437.8,880.8 438.0,875.5 438.2,886.0 438.5,873.9 438.8,885.4 439.0,872.5 439.2,874.6 439.5,886.7 439.8,874.3 440.0,881.2 440.2,882.2 440.5,887.1 440.8,889.0 441.0,884.8 441.2,883.5 441.5,886.2 441.8,885.5 442.0,873.7 442.2,884.0 442.5,877.1 442.8,893.3 443.0,887.0 443.2,878.2 443.5,890.1 443.8,877.3 444.0,884.1 444.2,875.8 444.5,880.0 444.8,882.7 445.0,875.6 445.2,884.6 445.5,886.7 445.8,889.3 446.0,886.5 446.2,883.4 446.5,885.5 446.8,878.0 447.0,879.2 447.2,888.0 447.5,876.6 447.8,879.3 448.0,886.0 448.2,881.4 448.5,876.5 448.8,879.2 449.0,878.7 449.2,876.3 449.5,879.4 449.8,885.4 450.0,879.3 450.2,882.8 450.5,878.9 450.8,881.2 451.0,885.4 451.2,884.1 451.5,881.3 451.8,880.8 452.0,887.1 452.2,880.6 452.5,875.8 452.8,885.5 453.0,885.1 453.2,881.6 453.5,879.6 453.8,888.3 454.0,888.2 454.2,884.4 454.5,882.5 454.8,885.9 455.0,890.4 455.2,879.9 455.5,886.5 455.8,873.3 456.0,880.0 456.2,885.2 456.5,883.1 456.8,877.0 457.0,885.9 457.2,885.4 457.5,885.7 457.8,880.7 458.0,881.7 458.2,881.7 458.5,884.0 458.8,883.3 459.0,882.1 459.2,885.8 459.5,887.8 459.8,883.2 460.0,888.2 460.2,875.1 460.5,893.8 460.8,878.5 461.0,880.7 461.2,884.6 461.5,887.2 461.8,883.9 462.0,875.9 462.2,881.2 462.5,877.6 462.8,886.8 463.0,880.7 463.2,871.9 463.5,879.2 463.8,883.7 464.0,877.7 464.2,884.9 464.5,875.5 464.8,881.6 465.0,887.1 465.2,883.0 465.5,878.6 465.8,879.5 466.0,886.8 466.2,885.6 466.5,884.1 466.8,885.8 467.0,882.2 467.2,882.6 467.5,882.0 467.8,880.8 468.0,887.6 468.2,878.6 468.5,892.3 468.8,886.2 469.0,881.7 469.2,889.1 469.5,890.2 469.8,884.0 470.0,877.5 470.2,883.1 470.5,882.7 470.8,879.9 471.0,876.3 471.2,878.7 471.5,883.4 471.8,881.8 472.0,886.7 472.2,877.4 472.5,885.7 472.8,879.4 473.0,884.7 473.2,883.6 473.5,888.8 473.8,885.0 474.0,881.4 474.2,883.3 474.5,876.2 474.8,882.8 475.0,884.8 475.2,883.7 475.5,880.3 475.8,883.6 476.0,883.5 476.2,883.7 476.5,878.1 476.8,885.5 477.0,882.1 477.2,877.2 477.5,881.6 477.8,887.1 478.0,889.1 478.2,881.4 478.5,879.2 478.8,881.0 479.0,885.4 479.2,888.3 479.5,883.4 479.8,881.7 480.0,888.6 480.2,884.8 480.5,879.7 480.8,882.1 481.0,887.0 481.2,881.7 481.5,883.3 481.8,880.2 482.0,885.6 482.2,889.5 482.5,888.7 482.8,881.8 483.0,879.0 483.2,889.6 483.5,886.7 483.8,877.2 484.0,889.7 484.2,881.8 484.5,881.1 484.8,883.8 485.0,878.1 485.2,879.3 485.5,890.2 485.8,883.2 486.0,886.7 486.2,890.3 486.5,886.1 486.8,884.1 487.0,886.9 487.2,891.3 487.5,886.4 487.8,882.5 488.0,892.3 488.2,890.2 488.5,879.0 488.8,885.5 489.0,893.9 489.2,878.0 489.5,878.3 489.8,887.3 490.0,882.3 490.2,877.9 490.5,890.7 490.8,883.7 491.0,886.0 491.2,889.6 491.5,885.6 491.8,880.8 492.0,894.0 492.2,888.9 492.5,885.0 492.8,883.5 493.0,879.3 493.2,888.1 493.5,879.7 493.8,892.6 494.0,877.1 494.2,888.8 494.5,880.8 494.8,881.1 495.0,888.6 495.2,886.1 495.5,888.6 495.8,880.9 496.0,884.9 496.2,884.2 496.5,886.9 496.8,889.6 497.0,885.3 497.2,881.9 497.5,886.5 497.8,879.0 498.0,883.4 498.2,891.4 498.5,884.2 498.8,890.1 499.0,884.9 499.2,882.6 499.5,887.1 499.8,888.5 500.0,886.0 500.2,887.7 500.5,893.8 500.8,887.0 501.0,888.4 501.2,883.5 501.5,890.4 501.8,884.2 502.0,887.9 502.2,885.1 502.5,889.9 502.8,889.3 503.0,891.6 503.2,887.7 503.5,890.0 503.8,895.1 504.0,883.6 504.2,883.6 504.5,891.1 504.8,888.2 505.0,887.9 505.2,877.1 505.5,886.6 505.8,891.7 506.0,889.9 506.2,887.9 506.5,886.9 506.8,884.6 507.0,885.8 507.2,888.0 507.5,880.1 507.8,893.3 508.0,883.1 508.2,893.3 508.5,891.4 508.8,884.8 509.0,886.8 509.2,889.7 509.5,892.9 509.8,884.6 510.0,890.7 510.2,891.6 510.5,887.8 510.8,890.2 511.0,887.0 511.2,887.2 511.5,884.9 511.8,885.4 512.0,892.1 512.2,891.2 512.5,891.5 512.8,886.9 513.0,890.7 513.2,892.8 513.5,883.9 513.8,884.9 514.0,884.5 514.2,889.4 514.5,889.5 514.8,896.7 515.0,893.2 515.2,878.2 515.5,890.4 515.8,887.6 516.0,893.1 516.2,884.7 516.5,883.0 516.8,885.3 517.0,891.8 517.2,888.1 517.5,892.6 517.8,897.4 518.0,884.9 518.2,887.8 518.5,890.7 518.8,893.0 519.0,886.6 519.2,889.8 519.5,885.6 519.8,896.1 520.0,893.5 520.2,898.1 520.5,896.4 520.8,892.4 521.0,894.0 521.2,893.7 521.5,890.7 521.8,889.6 522.0,889.1 522.2,891.5 522.5,891.4 522.8,895.4 523.0,890.9 523.2,891.5 523.5,897.4 523.8,888.4 524.0,886.2 524.2,900.5 524.5,886.0 524.8,888.3 525.0,897.3 525.2,889.8 525.5,888.2 525.8,891.0 526.0,889.5 526.2,886.5 526.5,882.6 526.8,886.9 527.0,885.5 527.2,888.4 527.5,887.3 527.8,894.1 528.0,893.5 528.2,888.2 528.5,897.8 528.8,898.7 529.0,883.4 529.2,886.6 529.5,898.5 529.8,891.7 530.0,890.5 530.2,889.2 530.5,890.4 530.8,894.9 531.0,893.0 531.2,890.3 531.5,888.7 531.8,889.5 532.0,896.0 532.2,889.9 532.5,891.5 532.8,892.5 533.0,892.8 533.2,887.0 533.5,902.9 533.8,894.6 534.0,898.4 534.2,887.1 534.5,885.5 534.8,892.5 535.0,890.6 535.2,888.3 535.5,898.8 535.8,887.1 536.0,885.7 536.2,899.4 536.5,893.6 536.8,886.4 537.0,896.6 537.2,888.9 537.5,890.6 537.8,891.7 538.0,892.5 538.2,900.3 538.5,889.5 538.8,889.2 539.0,888.0 539.2,892.3 539.5,888.4 539.8,893.2 540.0,898.9 540.2,901.2 540.5,892.3 540.8,893.8 541.0,890.8 541.2,891.7 541.5,895.8 541.8,884.7 542.0,889.3 542.2,888.9 542.5,889.2 542.8,890.8 543.0,894.3 543.2,892.1 543.5,904.0 543.8,898.1 544.0,890.1 544.2,892.1 544.5,890.4 544.8,894.0 545.0,893.4 545.2,896.2 545.5,893.9 545.8,898.6 546.0,892.8 546.2,893.9 546.5,895.4 546.8,894.6 547.0,893.9 547.2,896.3 547.5,896.5 547.8,895.4 548.0,896.1 548.2,892.4 548.5,892.4 548.8,898.3 549.0,899.0 549.2,892.8 549.5,899.6 549.8,892.7 550.0,900.0 550.2,897.1 550.5,894.3 550.8,896.3 551.0,891.7 551.2,892.5 551.5,892.1 551.8,897.7 552.0,896.8 552.2,893.5 552.5,894.7 552.8,890.3 553.0,893.6 553.2,890.0 553.5,899.4 553.8,897.3 554.0,891.5 554.2,891.9 554.5,900.8 554.8,894.6 555.0,889.7 555.2,891.7 555.5,892.1 555.8,893.7 556.0,889.3 556.2,896.7 556.5,892.0 556.8,901.9 557.0,898.0 557.2,888.7 557.5,891.1 557.8,894.6 558.0,888.1 558.2,889.9 558.5,901.3 558.8,892.5 559.0,892.7 559.2,896.3 559.5,897.0 559.8,896.1 560.0,899.2 560.2,892.9 560.5,900.6 560.8,900.7 561.0,894.5 561.2,895.5 561.5,895.4 561.8,894.1 562.0,891.2 562.2,896.6 562.5,892.3 562.8,892.9 563.0,892.3 563.2,896.7 563.5,891.8 563.8,899.6 564.0,888.9 564.2,891.4 564.5,895.0 564.8,894.6 565.0,891.5 565.2,905.1 565.5,894.5 565.8,890.3 566.0,896.5 566.2,903.0 566.5,901.6 566.8,896.0 567.0,896.0 567.2,904.2 567.5,897.1 567.8,897.7 568.0,891.4 568.2,894.3 568.5,898.4 568.8,888.4 569.0,897.9 569.2,896.1 569.5,896.0 569.8,897.3 570.0,898.3 570.2,901.9 570.5,891.5 570.8,901.0 571.0,895.6 571.2,896.7 571.5,898.5 571.8,897.0 572.0,900.8 572.2,894.5 572.5,899.6 572.8,896.3 573.0,889.9 573.2,892.5 573.5,902.8 573.8,897.2 574.0,900.8 574.2,898.4 574.5,896.4 574.8,908.3 575.0,903.4 575.2,893.9 575.5,898.6 575.8,899.1 576.0,889.7 576.2,893.1 576.5,903.2 576.8,903.6 577.0,904.1 577.2,894.8 577.5,900.0 577.8,899.6 578.0,898.3 578.2,896.5 578.5,899.2 578.8,891.1 579.0,887.6 579.2,896.5 579.5,904.4 579.8,893.5 580.0,895.4 580.2,898.8 580.5,893.7 580.8,899.4 581.0,896.0 581.2,896.2 581.5,894.0 581.8,899.2 582.0,901.1 582.2,903.5 582.5,896.7 582.8,894.2 583.0,899.0 583.2,901.8 583.5,894.2 583.8,900.1 584.0,907.6 584.2,902.7 584.5,893.4 584.8,897.7 585.0,893.3 585.2,894.1 585.5,908.3 585.8,898.4 586.0,896.8 586.2,900.5 586.5,895.1 586.8,906.4 587.0,901.9 587.2,899.6 587.5,902.9 587.8,902.8 588.0,901.9 588.2,892.3 588.5,897.6 588.8,906.8 589.0,897.0 589.2,897.6 589.5,896.2 589.8,901.9 590.0,898.4 590.2,897.7 590.5,904.1 590.8,896.2 591.0,903.1 591.2,901.5 591.5,901.2 591.8,903.2 592.0,899.8 592.2,899.8 592.5,906.1 592.8,899.0 593.0,901.6 593.2,898.5 593.5,896.7 593.8,901.7 594.0,895.3 594.2,902.9 594.5,903.9 594.8,902.5 595.0,899.2 595.2,894.8 595.5,897.7 595.8,909.7 596.0,896.2 596.2,903.1 596.5,900.9 596.8,901.0 597.0,895.8 597.2,894.8 597.5,899.6 597.8,901.2 598.0,900.3 598.2,903.1 598.5,898.0 598.8,895.8 599.0,902.2 599.2,900.6 599.5,892.5 599.8,905.2 600.0,903.0 600.2,905.2 600.5,900.5 600.8,902.1 601.0,896.5 601.2,895.3 601.5,905.9 601.8,897.5 602.0,892.9 602.2,897.7 602.5,900.1 602.8,899.4 603.0,896.8 603.2,902.8 603.5,900.6 603.8,905.8 604.0,899.1 604.2,906.6 604.5,901.8 604.8,900.3 605.0,899.0 605.2,902.5 605.5,900.0 605.8,894.4 606.0,900.4 606.2,897.2 606.5,901.0 606.8,895.5 607.0,901.6 607.2,908.4 607.5,898.8 607.8,907.9 608.0,900.6 608.2,897.5 608.5,901.6 608.8,908.2 609.0,896.7 609.2,899.0 609.5,907.3 609.8,900.6 610.0,902.2 610.2,893.3 610.5,902.7 610.8,894.7 611.0,899.8 611.2,904.8 611.5,895.6 611.8,898.7 612.0,908.9 612.2,904.9 612.5,903.2 612.8,904.3 613.0,902.9 613.2,906.2 613.5,896.6 613.8,906.0 614.0,901.0 614.2,899.2 614.5,901.3 614.8,893.6 615.0,902.2 615.2,897.4 615.5,907.4 615.8,899.0 616.0,907.7 616.2,904.9 616.5,910.4 616.8,902.6 617.0,902.5 617.2,895.5 617.5,898.5 617.8,900.3 618.0,897.3 618.2,900.4 618.5,898.5 618.8,899.4 619.0,903.5 619.2,901.1 619.5,902.1 619.8,902.1 620.0,905.6 620.2,898.5 620.5,899.2 620.8,898.7 621.0,899.1 621.2,901.2 621.5,900.5 621.8,902.5 622.0,893.6 622.2,896.8 622.5,899.1 622.8,903.8 623.0,901.7 623.2,905.3 623.5,904.0 623.8,900.9 624.0,897.2 624.2,897.8 624.5,901.9 624.8,894.3 625.0,903.7 625.2,906.9 625.5,904.5 625.8,908.2 626.0,906.1 626.2,901.9 626.5,909.0 626.8,899.9 627.0,906.6 627.2,892.7 627.5,901.3 627.8,897.7 628.0,902.9 628.2,899.5 628.5,902.2 628.8,905.3 629.0,901.0 629.2,903.6 629.5,904.2 629.8,900.7 630.0,894.5 630.2,894.6 630.5,897.1 630.8,903.0 631.0,909.1 631.2,901.7 631.5,899.1 631.8,904.7 632.0,903.5 632.2,897.9 632.5,903.8 632.8,901.4 633.0,899.3 633.2,902.0 633.5,905.3 633.8,904.3 634.0,905.3 634.2,899.6 634.5,900.3 634.8,906.0 635.0,906.5 635.2,908.2 635.5,905.6 635.8,899.7 636.0,899.7 636.2,908.7 636.5,902.0 636.8,907.5 637.0,902.2 637.2,895.9 637.5,900.3 637.8,903.2 638.0,907.0 638.2,901.3 638.5,906.2 638.8,906.3 639.0,900.7 639.2,903.2 639.5,904.1 639.8,896.1 640.0,905.5 640.2,902.8 640.5,898.3 640.8,899.0 641.0,900.3 641.2,899.3 641.5,902.5 641.8,905.7 642.0,901.2 642.2,900.2 642.5,906.8 642.8,902.6 643.0,904.2 643.2,896.1 643.5,904.8 643.8,900.4 644.0,904.6" fill="none" stroke="#f9c022" stroke-width="1.40" stroke-linejoin="round"/>
<polygon points="129.7,931.9 130.7,932.3 131.7,931.9 132.7,930.3 133.7,929.6 134.7,929.4 135.7,927.9 136.7,926.5 137.7,925.1 138.7,922.1 139.7,922.2 140.7,920.0 141.7,917.8 142.7,915.2 143.7,914.6 144.7,912.4 145.7,909.9 146.7,907.3 147.7,905.2 148.7,903.1 149.7,900.5 150.7,898.8 151.7,897.1 152.7,894.6 153.7,895.1 154.7,893.3 155.7,892.4 156.7,891.8 157.7,892.0 158.7,892.2 159.7,891.3 160.7,891.2 161.7,891.9 162.7,891.1 163.7,892.4 164.7,891.7 165.7,891.9 166.7,893.1 167.7,893.7 168.7,893.8 169.7,894.8 170.7,895.0 171.7,896.0 172.7,896.2 173.7,896.7 174.7,898.2 175.7,898.3 176.7,899.6 177.7,900.2 178.7,901.5 179.7,902.6 180.7,902.3 181.7,904.2 182.7,903.4 183.7,904.5 184.7,904.5 185.7,904.7 186.7,904.8 187.7,904.4 188.7,905.4 189.7,905.3 190.7,905.5 191.7,905.8 192.7,905.1 193.7,905.3 194.7,906.0 195.7,905.0 196.7,905.2 197.7,905.5 198.7,905.8 199.7,905.9 200.7,906.0 201.7,907.0 202.7,907.6 203.7,907.2 204.7,908.4 205.7,907.9 206.7,908.6 207.7,909.3 208.7,909.2 209.7,909.8 210.7,910.6 211.7,910.5 212.7,912.0 213.7,912.9 214.7,914.5 215.7,915.9 216.7,917.2 217.7,917.4 218.7,919.4 219.7,921.7 220.7,923.0 221.7,923.9 222.7,925.4 223.7,925.9 224.7,927.7 225.7,928.4 226.7,930.8 227.7,931.4 228.7,932.2 229.7,933.5 230.7,933.7 231.7,934.2 232.7,935.0 233.7,934.3 234.7,934.7 235.7,935.3 236.7,935.7 237.7,936.0 238.7,936.1 239.7,936.7 240.7,936.0 241.7,936.8 242.7,936.0 243.7,936.4 244.7,936.1 245.7,936.5 246.7,936.3 247.7,936.6 248.7,936.4 249.7,936.1 250.7,936.4 251.7,935.8 252.7,937.2 253.7,937.5 254.7,936.9 255.7,936.9 256.7,936.9 257.7,937.8 258.7,936.7 259.7,937.5 260.7,937.9 261.7,937.7 262.7,937.4 263.7,937.6 264.7,937.9 265.7,937.4 266.7,937.8 267.7,937.8 268.7,938.2 269.7,937.7 270.7,938.0 271.7,938.5 272.7,938.0 273.7,938.7 274.7,938.6 275.7,938.8 276.7,939.2 277.7,939.6 278.7,939.2 279.7,938.7 280.7,939.7 281.7,940.4 282.7,940.2 283.7,940.7 284.7,941.2 285.7,941.5 286.7,941.0 287.7,941.7 288.7,942.1 289.7,942.3 290.7,942.5 291.7,943.2 292.7,944.3 293.7,943.8 294.7,944.6 295.7,944.8 296.7,945.2 297.7,945.4 298.7,945.1 299.7,945.5 300.7,946.0 301.7,945.9 302.7,947.4 303.7,947.4 304.7,947.1 305.7,947.0 306.7,947.4 307.7,948.3 308.7,949.1 309.7,949.3 310.7,950.0 311.7,949.9 312.7,950.7 313.7,952.1 314.7,952.5 315.7,953.0 316.7,953.5 317.7,954.1 318.7,953.9 319.7,954.8 320.7,954.4 321.7,954.4 322.7,954.9 323.7,955.4 324.7,955.0 325.7,955.8 326.7,956.6 327.7,956.5 328.7,956.5 329.7,957.0 330.7,957.5 331.7,957.4 332.7,958.2 333.7,957.0 334.7,958.1 335.7,957.5 336.7,957.8 337.7,958.2 338.7,957.6 339.7,957.6 340.7,957.9 341.7,958.2 342.7,957.6 343.7,957.9 344.7,957.6 345.7,958.0 346.7,958.2 347.7,958.2 348.7,958.1 349.7,958.5 350.7,957.7 351.7,958.4 352.7,958.5 353.7,958.0 354.7,957.2 355.7,958.4 356.7,958.3 357.7,957.9 358.7,957.7 359.7,958.7 360.7,958.5 361.7,958.8 362.7,959.4 363.7,959.1 364.7,959.6 365.7,959.6 366.7,960.1 367.7,960.0 368.7,960.2 369.7,960.6 370.7,960.7 371.7,960.8 372.7,961.0 373.7,960.0 374.7,960.7 375.7,960.4 376.7,960.9 377.7,961.3 378.7,961.0 379.7,961.4 380.7,961.0 381.7,961.8 382.7,961.8 383.7,962.0 384.7,961.2 385.7,961.3 386.7,962.3 387.7,961.7 388.7,963.4 389.7,963.6 390.7,963.4 391.7,963.0 392.7,963.5 393.7,963.9 394.7,964.0 395.7,963.6 396.7,964.0 397.7,963.9 398.7,965.0 399.7,965.3 400.7,966.0 401.7,965.8 402.7,965.8 403.7,964.7 404.7,965.1 405.7,965.2 406.7,965.9 407.7,966.1 408.7,966.3 409.7,966.4 410.7,966.8 411.7,966.4 412.7,967.0 413.7,967.8 414.7,967.6 415.7,968.0 416.7,968.3 417.7,967.8 418.7,968.2 419.7,968.2 420.7,968.9 421.7,969.1 422.7,968.9 423.7,969.2 424.7,969.4 425.7,969.6 426.7,968.9 427.7,969.1 428.7,969.5 429.7,969.6 430.7,969.5 431.7,969.0 432.7,968.8 433.7,969.6 434.7,969.0 435.7,969.2 436.7,968.9 437.7,968.3 438.7,968.7 439.7,969.3 440.7,970.0 441.7,970.3 442.7,970.2 443.7,970.3 444.7,970.0 445.7,970.2 446.7,969.8 447.7,970.2 448.7,969.9 449.7,970.0 450.7,970.6 451.7,970.2 452.7,970.2 453.7,970.2 454.7,970.4 455.7,970.3 456.7,970.2 457.7,970.5 458.7,970.5 459.7,970.6 460.7,970.7 461.7,970.8 462.7,971.0 463.7,971.3 464.7,971.0 465.7,971.4 466.7,971.7 467.7,971.7 468.7,971.4 469.7,971.2 470.7,971.4 471.7,970.8 472.7,971.5 473.7,971.0 474.7,971.9 475.7,971.7 476.7,972.0 477.7,972.2 478.7,972.5 479.7,972.9 480.7,973.3 481.7,972.9 482.7,972.7 483.7,972.2 484.7,972.7 485.7,972.7 486.7,972.7 487.7,973.2 488.7,973.2 489.7,972.8 490.7,973.1 491.7,973.2 492.7,972.9 493.7,972.7 494.7,973.4 495.7,972.6 496.7,973.1 497.7,973.0 498.7,973.0 499.7,973.6 500.7,973.6 501.7,973.8 502.7,974.0 503.7,974.1 504.7,974.8 505.7,974.6 506.7,974.4 507.7,974.8 508.7,975.0 509.7,975.0 510.7,974.9 511.7,975.0 512.7,975.4 513.7,975.2 514.7,974.4 515.7,974.8 516.7,975.3 517.7,975.1 518.7,975.1 519.7,975.4 520.7,975.1 521.7,974.9 522.7,975.4 523.7,975.6 524.7,975.1 525.7,975.4 526.7,975.1 527.7,975.2 528.7,975.3 529.7,975.9 530.7,975.5 531.7,975.8 532.7,976.0 533.7,975.8 534.7,975.9 535.7,975.4 536.7,976.2 537.7,976.7 538.7,976.4 539.7,976.4 540.7,976.1 541.7,976.6 542.7,976.6 543.7,975.9 544.7,975.8 545.7,976.4 546.7,976.4 547.7,976.7 548.7,976.8 549.7,976.9 550.7,977.0 551.7,977.1 552.7,977.5 553.7,977.1 554.7,977.7 555.7,977.1 556.7,977.1 557.7,976.9 558.7,977.2 559.7,977.2 560.7,976.7 561.7,977.4 562.7,977.1 563.7,977.1 564.7,977.3 565.7,978.0 566.7,977.8 567.7,977.6 568.7,978.0 569.7,977.6 570.7,978.0 571.7,978.0 572.7,977.3 573.7,977.6 574.7,978.0 575.7,977.8 576.7,977.6 577.7,978.0 578.7,977.7 579.7,977.5 580.7,977.9 581.7,977.6 582.7,977.3 583.7,978.0 584.7,977.3 585.7,978.0 586.7,976.9 587.7,978.6 588.7,978.0 589.7,978.2 590.7,977.5 591.7,978.2 592.7,977.7 593.7,978.0 594.7,978.0 595.7,977.7 596.7,977.6 597.7,977.6 598.7,978.2 599.7,977.6 600.7,977.9 601.7,978.5 602.7,978.3 603.7,978.0 604.7,977.4 605.7,978.0 606.7,977.9 607.7,978.4 608.7,978.0 609.7,978.1 610.7,978.6 611.7,978.2 612.7,978.1 613.7,977.9 614.7,978.7 615.7,978.7 616.7,978.5 617.7,979.0 618.7,979.2 619.7,979.0 620.7,978.5 621.7,978.9 622.7,978.9 623.7,978.8 624.7,979.3 625.7,979.4 626.7,979.2 627.7,979.0 628.7,978.6 629.7,979.1 630.7,978.9 631.7,978.9 632.7,979.6 633.7,978.9 634.7,979.3 635.7,979.2 636.7,979.4 637.7,979.7 638.7,979.7 639.7,979.0 640.7,978.8 641.7,979.4 642.7,979.3 643.7,979.5 643.7,982.8 642.7,982.7 641.7,982.5 640.7,982.7 639.7,982.8 638.7,983.1 637.7,982.9 636.7,982.8 635.7,982.7 634.7,982.7 633.7,982.2 632.7,982.7 631.7,982.3 630.7,982.2 629.7,982.3 628.7,982.0 627.7,982.3 626.7,982.7 625.7,983.0 624.7,982.4 623.7,982.3 622.7,982.8 621.7,982.5 620.7,982.3 619.7,982.3 618.7,982.3 617.7,982.4 616.7,981.9 615.7,982.0 614.7,981.8 613.7,981.8 612.7,981.3 611.7,981.6 610.7,982.1 609.7,981.4 608.7,981.4 607.7,981.6 606.7,981.7 605.7,981.3 604.7,981.6 603.7,981.3 602.7,981.6 601.7,981.7 600.7,981.8 599.7,981.4 598.7,981.7 597.7,981.3 596.7,981.3 595.7,981.1 594.7,981.0 593.7,981.2 592.7,981.7 591.7,981.9 590.7,981.4 589.7,981.8 588.7,981.8 587.7,981.8 586.7,981.3 585.7,981.4 584.7,981.8 583.7,981.0 582.7,981.1 581.7,981.4 580.7,981.1 579.7,981.2 578.7,981.1 577.7,981.1 576.7,981.3 575.7,981.2 574.7,981.2 573.7,980.8 572.7,981.1 571.7,981.7 570.7,982.2 569.7,981.6 568.7,981.3 567.7,981.4 566.7,981.2 565.7,981.3 564.7,981.1 563.7,980.3 562.7,980.4 561.7,980.9 560.7,980.7 559.7,980.6 558.7,981.1 557.7,980.8 556.7,980.8 555.7,981.1 554.7,980.9 553.7,981.1 552.7,981.2 551.7,980.7 550.7,980.6 549.7,980.5 548.7,980.7 547.7,980.0 546.7,979.8 545.7,980.6 544.7,979.8 543.7,979.8 542.7,980.1 541.7,980.2 540.7,979.9 539.7,980.1 538.7,980.3 537.7,980.0 536.7,979.6 535.7,979.3 534.7,979.7 533.7,979.8 532.7,979.8 531.7,979.5 530.7,979.7 529.7,979.3 528.7,978.9 527.7,978.7 526.7,979.1 525.7,978.9 524.7,978.8 523.7,978.8 522.7,978.8 521.7,978.4 520.7,979.1 519.7,978.9 518.7,978.9 517.7,979.0 516.7,979.2 515.7,978.8 514.7,979.0 513.7,978.9 512.7,979.0 511.7,979.0 510.7,978.5 509.7,978.9 508.7,978.6 507.7,978.5 506.7,978.5 505.7,977.9 504.7,978.3 503.7,977.5 502.7,978.4 501.7,977.8 500.7,977.1 499.7,977.3 498.7,977.4 497.7,976.9 496.7,977.2 495.7,977.2 494.7,977.1 493.7,976.7 492.7,976.9 491.7,976.8 490.7,976.9 489.7,977.3 488.7,976.8 487.7,976.6 486.7,976.6 485.7,976.6 484.7,976.7 483.7,976.4 482.7,976.4 481.7,976.9 480.7,977.9 479.7,976.6 478.7,976.2 477.7,976.5 476.7,976.1 475.7,975.9 474.7,975.4 473.7,975.4 472.7,975.5 471.7,975.1 470.7,975.3 469.7,975.1 468.7,975.4 467.7,975.3 466.7,976.1 465.7,975.7 464.7,975.1 463.7,975.4 462.7,975.5 461.7,975.3 460.7,974.5 459.7,974.1 458.7,974.2 457.7,974.3 456.7,974.2 455.7,974.7 454.7,974.5 453.7,974.2 452.7,974.3 451.7,973.8 450.7,974.4 449.7,974.8 448.7,974.0 447.7,975.0 446.7,974.2 445.7,974.3 444.7,974.9 443.7,974.4 442.7,974.4 441.7,974.5 440.7,974.1 439.7,973.4 438.7,973.1 437.7,973.1 436.7,973.3 435.7,973.9 434.7,973.6 433.7,973.6 432.7,973.0 431.7,973.3 430.7,973.4 429.7,974.0 428.7,973.9 427.7,973.1 426.7,974.0 425.7,973.5 424.7,973.6 423.7,974.1 422.7,973.8 421.7,972.9 420.7,973.1 419.7,973.0 418.7,972.8 417.7,972.0 416.7,972.5 415.7,972.0 414.7,971.7 413.7,971.6 412.7,971.6 411.7,970.9 410.7,971.3 409.7,971.5 408.7,971.4 407.7,970.2 406.7,969.9 405.7,970.3 404.7,969.7 403.7,970.2 402.7,970.2 401.7,969.9 400.7,970.0 399.7,969.9 398.7,969.1 397.7,969.2 396.7,969.0 395.7,968.4 394.7,968.3 393.7,968.6 392.7,968.4 391.7,967.6 390.7,967.9 389.7,967.6 388.7,967.6 387.7,967.2 386.7,966.9 385.7,967.3 384.7,966.6 383.7,966.1 382.7,966.4 381.7,966.6 380.7,966.1 379.7,966.0 378.7,966.2 377.7,965.5 376.7,965.1 375.7,965.0 374.7,965.5 373.7,965.1 372.7,965.6 371.7,965.2 370.7,965.7 369.7,965.9 368.7,965.6 367.7,965.2 366.7,964.6 365.7,965.1 364.7,964.0 363.7,964.0 362.7,963.9 361.7,963.9 360.7,964.2 359.7,963.4 358.7,963.0 357.7,963.0 356.7,962.7 355.7,963.0 354.7,963.1 353.7,962.6 352.7,963.5 351.7,962.9 350.7,963.1 349.7,962.9 348.7,962.6 347.7,963.1 346.7,962.7 345.7,962.8 344.7,963.2 343.7,962.7 342.7,962.7 341.7,963.3 340.7,963.1 339.7,962.6 338.7,962.9 337.7,963.1 336.7,963.9 335.7,963.2 334.7,963.0 333.7,963.2 332.7,962.7 331.7,962.3 330.7,961.8 329.7,961.9 328.7,961.4 327.7,961.4 326.7,961.9 325.7,961.1 324.7,961.0 323.7,960.3 322.7,959.8 321.7,959.4 320.7,959.0 319.7,959.6 318.7,959.7 317.7,958.9 316.7,958.3 315.7,958.0 314.7,957.5 313.7,957.0 312.7,956.2 311.7,955.3 310.7,955.5 309.7,954.5 308.7,954.4 307.7,953.7 306.7,953.6 305.7,952.7 304.7,952.7 303.7,952.8 302.7,952.2 301.7,952.2 300.7,951.1 299.7,950.9 298.7,950.1 297.7,950.5 296.7,949.8 295.7,950.0 294.7,950.3 293.7,949.3 292.7,948.8 291.7,948.7 290.7,947.8 289.7,947.4 288.7,948.1 287.7,947.4 286.7,947.5 285.7,946.6 284.7,946.6 283.7,945.8 282.7,945.9 281.7,945.7 280.7,945.5 279.7,944.4 278.7,944.6 277.7,944.8 276.7,944.4 275.7,944.3 274.7,944.3 273.7,944.4 272.7,944.0 271.7,944.0 270.7,943.2 269.7,942.9 268.7,943.6 267.7,943.2 266.7,943.5 265.7,943.4 264.7,943.2 263.7,944.9 262.7,942.8 261.7,943.5 260.7,943.0 259.7,943.0 258.7,943.1 257.7,942.9 256.7,942.3 255.7,942.5 254.7,943.7 253.7,943.0 252.7,942.1 251.7,941.8 250.7,942.4 249.7,942.1 248.7,941.8 247.7,941.7 246.7,941.8 245.7,942.3 244.7,942.4 243.7,942.1 242.7,941.9 241.7,941.9 240.7,941.7 239.7,941.8 238.7,942.2 237.7,941.1 236.7,941.1 235.7,941.0 234.7,940.4 233.7,940.7 232.7,940.6 231.7,940.6 230.7,940.4 229.7,939.2 228.7,937.6 227.7,937.3 226.7,936.5 225.7,935.0 224.7,933.5 223.7,932.5 222.7,931.2 221.7,930.1 220.7,929.6 219.7,927.4 218.7,925.8 217.7,924.1 216.7,924.6 215.7,921.8 214.7,920.4 213.7,920.2 212.7,917.7 211.7,916.9 210.7,916.0 209.7,915.6 208.7,915.6 207.7,915.3 206.7,914.9 205.7,914.1 204.7,913.6 203.7,913.4 202.7,914.1 201.7,913.1 200.7,912.5 199.7,912.3 198.7,911.8 197.7,911.9 196.7,911.4 195.7,911.4 194.7,912.4 193.7,911.3 192.7,911.8 191.7,911.9 190.7,911.5 189.7,911.6 188.7,912.0 187.7,911.5 186.7,911.7 185.7,912.0 184.7,911.1 183.7,910.6 182.7,911.0 181.7,910.0 180.7,911.7 179.7,908.8 178.7,908.5 177.7,906.8 176.7,905.8 175.7,905.6 174.7,904.6 173.7,903.5 172.7,903.6 171.7,902.7 170.7,901.5 169.7,900.8 168.7,900.0 167.7,899.4 166.7,899.4 165.7,898.5 164.7,899.4 163.7,898.3 162.7,897.6 161.7,898.5 160.7,897.5 159.7,897.8 158.7,898.1 157.7,898.8 156.7,898.4 155.7,899.3 154.7,899.9 153.7,901.4 152.7,902.7 151.7,904.0 150.7,904.9 149.7,907.1 148.7,910.2 147.7,912.4 146.7,914.0 145.7,916.8 144.7,918.2 143.7,921.4 142.7,922.8 141.7,925.7 140.7,927.1 139.7,928.9 138.7,930.5 137.7,931.8 136.7,932.6 135.7,935.4 134.7,935.9 133.7,937.4 132.7,937.8 131.7,938.0 130.7,939.2 129.7,939.8" fill="#3dba72" stroke="none"/>
<polyline points="129.7,934.4 129.9,934.6 130.2,933.5 130.4,937.9 130.7,938.0 130.9,937.3 131.2,935.2 131.4,934.7 131.7,931.2 131.9,940.5 132.2,935.6 132.4,933.3 132.7,939.7 132.9,930.3 133.2,932.4 133.4,932.4 133.7,932.2 133.9,933.8 134.2,932.0 134.4,932.6 134.7,931.5 134.9,933.7 135.2,931.1 135.4,929.2 135.7,934.6 135.9,926.4 136.2,933.1 136.4,933.9 136.7,929.3 136.9,926.8 137.2,929.3 137.4,927.5 137.7,926.4 137.9,932.0 138.2,929.8 138.4,920.3 138.7,922.3 138.9,924.6 139.2,932.7 139.4,923.4 139.7,923.6 139.9,927.6 140.2,924.7 140.4,920.1 140.7,928.9 140.9,926.0 141.2,921.0 141.4,923.0 141.7,921.2 141.9,921.6 142.2,921.9 142.4,919.3 142.7,926.9 142.9,919.0 143.2,917.1 143.4,921.9 143.7,915.7 143.9,919.0 144.2,920.7 144.4,913.7 144.7,912.4 144.9,919.6 145.2,915.1 145.4,908.0 145.7,910.6 145.9,914.2 146.2,914.9 146.4,909.7 146.7,908.4 146.9,913.4 147.2,908.6 147.4,905.9 147.7,916.6 147.9,912.3 148.2,909.5 148.4,910.8 148.7,906.5 148.9,906.9 149.2,905.8 149.4,907.5 149.7,905.3 149.9,903.9 150.2,900.2 150.4,902.3 150.7,904.4 150.9,902.7 151.2,902.2 151.4,906.5 151.7,905.8 151.9,897.6 152.2,902.5 152.4,897.5 152.7,899.7 152.9,902.9 153.2,899.7 153.4,904.7 153.7,898.7 153.9,901.4 154.2,896.4 154.4,896.0 154.7,896.2 154.9,893.0 155.2,894.9 155.4,892.4 155.7,896.0 155.9,894.3 156.2,896.4 156.4,899.8 156.7,897.8 156.9,896.9 157.2,894.9 157.4,893.7 157.7,891.5 157.9,898.0 158.2,896.1 158.4,897.8 158.7,889.7 158.9,894.4 159.2,889.4 159.4,894.1 159.7,893.4 159.9,894.9 160.2,897.1 160.4,892.7 160.7,897.0 160.9,897.5 161.2,894.6 161.4,894.7 161.7,894.2 161.9,896.2 162.2,892.7 162.4,896.3 162.7,895.7 162.9,894.8 163.2,894.9 163.4,895.7 163.7,893.3 163.9,896.9 164.2,894.4 164.4,896.9 164.7,893.3 164.9,900.2 165.2,898.1 165.4,893.1 165.7,893.1 165.9,894.2 166.2,896.0 166.4,895.6 166.7,892.7 166.9,896.0 167.2,889.6 167.4,896.0 167.7,895.4 167.9,895.8 168.2,899.7 168.4,899.1 168.7,899.6 168.9,897.1 169.2,897.6 169.4,894.3 169.7,900.8 169.9,897.7 170.2,897.6 170.4,899.3 170.7,895.6 170.9,899.4 171.2,898.0 171.4,895.2 171.7,901.4 171.9,897.0 172.2,898.4 172.4,900.4 172.7,899.8 172.9,897.4 173.2,896.1 173.4,900.9 173.7,898.5 173.9,899.9 174.2,899.9 174.4,899.5 174.7,908.7 174.9,896.2 175.2,904.7 175.4,901.3 175.7,899.7 175.9,904.8 176.2,902.5 176.4,900.5 176.7,901.0 176.9,900.9 177.2,902.5 177.4,904.1 177.7,903.1 177.9,901.3 178.2,900.9 178.4,903.1 178.7,907.5 178.9,901.3 179.2,904.6 179.4,898.7 179.7,906.4 179.9,904.5 180.2,909.9 180.4,902.0 180.7,907.5 180.9,909.0 181.2,907.6 181.4,901.4 181.7,911.4 181.9,908.9 182.2,909.2 182.4,904.9 182.7,907.5 182.9,909.5 183.2,907.9 183.4,912.9 183.7,907.8 183.9,905.7 184.2,907.8 184.4,902.9 184.7,907.3 184.9,913.8 185.2,907.2 185.4,907.3 185.7,906.1 185.9,909.6 186.2,909.3 186.4,912.0 186.7,902.2 186.9,911.3 187.2,905.1 187.4,909.9 187.7,909.0 187.9,908.7 188.2,906.5 188.4,914.2 188.7,905.5 188.9,904.1 189.2,912.8 189.4,910.4 189.7,908.2 189.9,910.9 190.2,906.3 190.4,911.0 190.7,910.6 190.9,905.0 191.2,907.7 191.4,906.8 191.7,907.7 191.9,906.1 192.2,910.6 192.4,905.5 192.7,909.9 192.9,910.9 193.2,906.4 193.4,905.3 193.7,908.7 193.9,910.3 194.2,908.3 194.4,907.4 194.7,904.0 194.9,907.8 195.2,908.6 195.4,909.1 195.7,913.4 195.9,907.4 196.2,907.4 196.4,904.1 196.7,909.6 196.9,905.7 197.2,914.5 197.4,905.1 197.7,907.6 197.9,904.5 198.2,910.3 198.4,909.2 198.7,904.2 198.9,907.2 199.2,914.0 199.4,909.9 199.7,909.5 199.9,908.6 200.2,908.4 200.4,905.1 200.7,908.4 200.9,912.9 201.2,911.1 201.4,912.5 201.7,912.4 201.9,908.4 202.2,907.8 202.4,910.4 202.7,909.0 202.9,907.5 203.2,907.8 203.4,912.5 203.7,906.1 203.9,906.0 204.2,910.1 204.4,912.6 204.7,911.1 204.9,913.0 205.2,909.7 205.4,910.8 205.7,912.4 205.9,914.3 206.2,914.3 206.4,912.0 206.7,913.9 206.9,910.9 207.2,908.9 207.4,910.4 207.7,910.2 207.9,906.2 208.2,911.2 208.4,912.8 208.7,912.7 208.9,911.5 209.2,912.2 209.4,913.3 209.7,913.5 209.9,915.1 210.2,908.7 210.4,909.9 210.7,919.1 210.9,916.0 211.2,912.1 211.4,915.2 211.7,915.4 211.9,913.7 212.2,916.3 212.4,914.3 212.7,914.1 212.9,911.9 213.2,915.7 213.4,922.2 213.7,918.6 213.9,913.8 214.2,916.2 214.4,919.7 214.7,921.4 214.9,919.6 215.2,915.3 215.4,915.4 215.7,917.0 215.9,916.6 216.2,917.0 216.4,919.9 216.7,919.9 216.9,921.3 217.2,917.8 217.4,919.1 217.7,923.6 217.9,920.1 218.2,922.9 218.4,922.2 218.7,919.6 218.9,923.3 219.2,919.2 219.4,921.4 219.7,920.9 219.9,923.5 220.2,929.4 220.4,919.6 220.7,929.1 220.9,929.0 221.2,923.0 221.4,929.0 221.7,927.1 221.9,925.9 222.2,932.6 222.4,929.4 222.7,923.3 222.9,927.5 223.2,931.2 223.4,931.6 223.7,928.7 223.9,929.8 224.2,929.4 224.4,929.2 224.7,929.8 224.9,930.2 225.2,930.3 225.4,928.6 225.7,931.6 225.9,928.5 226.2,932.7 226.4,932.7 226.7,935.6 226.9,935.1 227.2,931.4 227.4,935.8 227.7,932.6 227.9,933.0 228.2,934.2 228.4,937.1 228.7,933.6 228.9,937.9 229.2,937.1 229.4,935.1 229.7,937.5 229.9,932.8 230.2,933.9 230.4,938.6 230.7,934.4 230.9,933.2 231.2,940.5 231.4,938.5 231.7,935.6 231.9,938.4 232.2,939.2 232.4,936.3 232.7,935.4 232.9,933.8 233.2,938.2 233.4,936.4 233.7,936.2 233.9,936.6 234.2,937.9 234.4,937.4 234.7,933.4 234.9,940.9 235.2,940.1 235.4,938.5 235.7,937.4 235.9,936.7 236.2,940.5 236.4,937.9 236.7,935.8 236.9,938.5 237.2,937.3 237.4,937.7 237.7,935.7 237.9,937.4 238.2,940.2 238.4,940.4 238.7,941.8 238.9,939.9 239.2,939.3 239.4,942.2 239.7,936.6 239.9,937.2 240.2,939.6 240.4,942.3 240.7,937.2 240.9,936.4 241.2,939.6 241.4,939.3 241.7,938.5 241.9,942.6 242.2,938.8 242.4,943.4 242.7,942.2 242.9,936.6 243.2,942.2 243.4,940.9 243.7,941.9 243.9,934.6 244.2,942.0 244.4,940.5 244.7,939.4 244.9,942.0 245.2,934.9 245.4,942.1 245.7,940.4 245.9,940.1 246.2,938.1 246.4,934.7 246.7,937.6 246.9,945.6 247.2,936.3 247.4,936.1 247.7,943.0 247.9,940.0 248.2,938.0 248.4,938.7 248.7,940.3 248.9,941.0 249.2,941.5 249.4,939.3 249.7,937.7 249.9,938.4 250.2,936.7 250.4,940.3 250.7,939.7 250.9,939.2 251.2,937.7 251.4,938.8 251.7,938.9 251.9,939.6 252.2,937.5 252.4,939.2 252.7,937.2 252.9,936.5 253.2,944.9 253.4,938.9 253.7,937.5 253.9,937.8 254.2,943.0 254.4,939.9 254.7,937.9 254.9,940.0 255.2,939.3 255.4,940.6 255.7,939.9 255.9,936.5 256.2,941.6 256.4,939.7 256.7,939.8 256.9,942.0 257.2,939.7 257.4,941.7 257.7,938.9 257.9,938.5 258.2,942.2 258.4,940.8 258.7,939.3 258.9,939.9 259.2,936.6 259.4,936.7 259.7,937.1 259.9,938.4 260.2,941.2 260.4,940.8 260.7,940.8 260.9,936.3 261.2,941.1 261.4,942.1 261.7,940.4 261.9,943.8 262.2,940.5 262.4,945.2 262.7,940.5 262.9,938.6 263.2,936.5 263.4,939.1 263.7,940.6 263.9,942.2 264.2,934.2 264.4,936.0 264.7,941.7 264.9,942.5 265.2,941.7 265.4,940.4 265.7,942.6 265.9,935.3 266.2,940.1 266.4,942.3 266.7,943.0 266.9,942.4 267.2,937.0 267.4,942.6 267.7,939.5 267.9,943.1 268.2,940.8 268.4,939.7 268.7,940.7 268.9,945.1 269.2,945.3 269.4,937.5 269.7,941.6 269.9,939.6 270.2,940.6 270.4,942.8 270.7,943.0 270.9,942.8 271.2,940.3 271.4,941.8 271.7,941.0 271.9,939.5 272.2,939.5 272.4,942.8 272.7,938.6 272.9,937.0 273.2,943.2 273.4,940.4 273.7,943.4 273.9,937.9 274.2,939.3 274.4,940.0 274.7,943.7 274.9,941.8 275.2,943.4 275.4,941.4 275.7,945.9 275.9,940.8 276.2,942.7 276.4,936.5 276.7,936.9 276.9,941.4 277.2,938.4 277.4,939.8 277.7,942.8 277.9,942.4 278.2,941.9 278.4,941.0 278.7,941.6 278.9,942.6 279.2,946.1 279.4,940.0 279.7,947.6 279.9,940.7 280.2,940.1 280.4,942.4 280.7,942.0 280.9,945.2 281.2,941.1 281.4,946.1 281.7,942.9 281.9,948.1 282.2,941.7 282.4,942.8 282.7,942.3 282.9,944.2 283.2,940.0 283.4,941.0 283.7,941.1 283.9,947.0 284.2,945.4 284.4,945.7 284.7,945.4 284.9,944.2 285.2,941.2 285.4,941.3 285.7,940.1 285.9,945.0 286.2,941.5 286.4,945.8 286.7,946.9 286.9,946.5 287.2,942.2 287.4,946.6 287.7,943.1 287.9,944.8 288.2,946.3 288.4,942.1 288.7,944.4 288.9,945.0 289.2,948.5 289.4,947.0 289.7,943.3 289.9,945.6 290.2,945.5 290.4,944.7 290.7,944.3 290.9,946.8 291.2,948.2 291.4,945.4 291.7,945.7 291.9,945.3 292.2,945.5 292.4,946.7 292.7,942.9 292.9,944.6 293.2,944.8 293.4,944.6 293.7,947.1 293.9,943.9 294.2,950.2 294.4,948.1 294.7,947.3 294.9,943.9 295.2,941.1 295.4,945.1 295.7,945.5 295.9,950.9 296.2,944.9 296.4,947.0 296.7,946.8 296.9,948.2 297.2,946.4 297.4,944.9 297.7,948.6 297.9,942.6 298.2,950.4 298.4,947.7 298.7,947.5 298.9,948.8 299.2,947.6 299.4,944.9 299.7,948.2 299.9,942.4 300.2,948.4 300.4,949.9 300.7,949.5 300.9,949.6 301.2,949.9 301.4,948.1 301.7,948.1 301.9,951.9 302.2,952.7 302.4,950.2 302.7,949.7 302.9,949.9 303.2,952.0 303.4,951.6 303.7,952.1 303.9,948.8 304.2,950.6 304.4,950.9 304.7,950.9 304.9,951.2 305.2,953.5 305.4,951.2 305.7,949.9 305.9,947.4 306.2,953.0 306.4,952.1 306.7,948.9 306.9,951.9 307.2,949.8 307.4,949.1 307.7,951.8 307.9,951.1 308.2,955.8 308.4,950.4 308.7,950.1 308.9,947.6 309.2,950.7 309.4,950.4 309.7,950.1 309.9,951.5 310.2,953.3 310.4,953.7 310.7,954.7 310.9,951.1 311.2,952.4 311.4,951.6 311.7,953.1 311.9,954.3 312.2,948.8 312.4,954.9 312.7,956.4 312.9,952.3 313.2,955.7 313.4,952.4 313.7,954.2 313.9,951.9 314.2,953.6 314.4,954.9 314.7,953.3 314.9,955.0 315.2,957.0 315.4,952.0 315.7,955.2 315.9,953.6 316.2,955.9 316.4,956.3 316.7,956.8 316.9,957.3 317.2,956.1 317.4,956.3 317.7,957.1 317.9,956.8 318.2,953.4 318.4,956.8 318.7,957.2 318.9,952.4 319.2,959.1 319.4,957.3 319.7,954.5 319.9,957.0 320.2,958.2 320.4,957.8 320.7,957.6 320.9,954.2 321.2,956.7 321.4,959.6 321.7,958.3 321.9,954.9 322.2,958.1 322.4,959.4 322.7,961.3 322.9,955.5 323.2,955.9 323.4,956.3 323.7,960.8 323.9,960.6 324.2,958.4 324.4,961.8 324.7,954.3 324.9,957.6 325.2,956.4 325.4,959.8 325.7,958.8 325.9,961.7 326.2,956.7 326.4,957.8 326.7,960.6 326.9,963.5 327.2,959.0 327.4,960.8 327.7,961.4 327.9,960.5 328.2,962.4 328.4,960.4 328.7,962.1 328.9,962.3 329.2,957.7 329.4,958.5 329.7,962.2 329.9,956.3 330.2,960.4 330.4,961.9 330.7,960.3 330.9,960.4 331.2,962.6 331.4,957.4 331.7,957.9 331.9,964.0 332.2,957.3 332.4,959.1 332.7,963.7 332.9,957.7 333.2,963.7 333.4,960.3 333.7,961.9 333.9,960.4 334.2,962.6 334.4,963.5 334.7,963.9 334.9,963.7 335.2,961.1 335.4,960.6 335.7,960.8 335.9,958.4 336.2,958.7 336.4,961.7 336.7,961.7 336.9,959.0 337.2,961.1 337.4,957.5 337.7,956.4 337.9,960.9 338.2,962.2 338.4,958.1 338.7,963.0 338.9,964.0 339.2,960.9 339.4,965.3 339.7,956.2 339.9,958.6 340.2,958.6 340.4,957.9 340.7,961.6 340.9,958.2 341.2,957.2 341.4,962.6 341.7,966.4 341.9,962.0 342.2,959.7 342.4,963.1 342.7,961.0 342.9,960.5 343.2,960.7 343.4,961.0 343.7,960.2 343.9,960.1 344.2,959.5 344.4,958.0 344.7,959.3 344.9,960.2 345.2,962.5 345.4,961.2 345.7,962.6 345.9,961.5 346.2,961.7 346.4,957.6 346.7,964.5 346.9,963.1 347.2,959.5 347.4,960.7 347.7,964.2 347.9,960.3 348.2,961.6 348.4,958.7 348.7,961.0 348.9,960.0 349.2,960.5 349.4,958.2 349.7,962.0 349.9,957.8 350.2,961.7 350.4,957.7 350.7,962.2 350.9,965.5 351.2,961.7 351.4,964.0 351.7,956.3 351.9,961.8 352.2,958.1 352.4,961.0 352.7,962.7 352.9,957.7 353.2,960.9 353.4,957.8 353.7,959.5 353.9,958.1 354.2,961.7 354.4,959.6 354.7,959.1 354.9,960.7 355.2,960.6 355.4,961.1 355.7,959.9 355.9,961.1 356.2,960.0 356.4,960.7 356.7,961.0 356.9,960.3 357.2,960.6 357.4,961.3 357.7,959.1 357.9,959.4 358.2,960.9 358.4,960.0 358.7,959.0 358.9,962.5 359.2,958.9 359.4,960.8 359.7,964.4 359.9,959.6 360.2,961.5 360.4,960.5 360.7,962.2 360.9,964.0 361.2,963.7 361.4,963.0 361.7,960.5 361.9,964.8 362.2,960.6 362.4,963.7 362.7,961.0 362.9,961.7 363.2,959.0 363.4,963.1 363.7,966.0 363.9,965.8 364.2,963.7 364.4,964.1 364.7,960.9 364.9,960.1 365.2,961.4 365.4,962.8 365.7,963.1 365.9,964.5 366.2,960.6 366.4,962.8 366.7,962.2 366.9,961.9 367.2,961.9 367.4,962.8 367.7,962.6 367.9,962.7 368.2,959.9 368.4,962.1 368.7,960.6 368.9,965.3 369.2,964.2 369.4,960.9 369.7,961.4 369.9,966.3 370.2,967.1 370.4,965.7 370.7,963.5 370.9,960.4 371.2,962.8 371.4,963.6 371.7,964.6 371.9,960.5 372.2,961.4 372.4,961.6 372.7,963.2 372.9,960.1 373.2,960.8 373.4,961.3 373.7,962.5 373.9,961.2 374.2,966.4 374.4,963.4 374.7,964.4 374.9,963.4 375.2,966.5 375.4,960.8 375.7,961.2 375.9,964.3 376.2,963.4 376.4,963.9 376.7,964.2 376.9,959.8 377.2,965.1 377.4,960.7 377.7,963.0 377.9,964.6 378.2,960.1 378.4,964.2 378.7,962.7 378.9,963.7 379.2,967.3 379.4,962.3 379.7,961.1 379.9,960.7 380.2,964.2 380.4,965.0 380.7,960.7 380.9,964.4 381.2,964.1 381.4,965.9 381.7,960.1 381.9,962.4 382.2,964.8 382.4,965.2 382.7,963.1 382.9,964.5 383.2,964.2 383.4,962.7 383.7,962.4 383.9,962.6 384.2,964.1 384.4,965.4 384.7,968.2 384.9,966.7 385.2,964.3 385.4,962.9 385.7,965.8 385.9,963.6 386.2,963.1 386.4,966.7 386.7,967.2 386.9,964.9 387.2,961.7 387.4,967.5 387.7,968.1 387.9,965.5 388.2,964.0 388.4,967.4 388.7,965.8 388.9,965.8 389.2,969.0 389.4,964.5 389.7,965.5 389.9,965.6 390.2,964.9 390.4,966.6 390.7,969.9 390.9,964.8 391.2,965.6 391.4,969.5 391.7,965.1 391.9,964.5 392.2,961.6 392.4,966.2 392.7,967.4 392.9,966.7 393.2,966.3 393.4,964.0 393.7,965.3 393.9,967.5 394.2,966.9 394.4,965.8 394.7,964.2 394.9,963.2 395.2,964.8 395.4,966.1 395.7,965.4 395.9,966.4 396.2,968.1 396.4,966.4 396.7,967.1 396.9,965.8 397.2,967.7 397.4,961.5 397.7,963.4 397.9,966.9 398.2,966.2 398.4,966.5 398.7,963.3 398.9,967.7 399.2,965.8 399.4,967.7 399.7,968.8 399.9,970.2 400.2,971.4 400.4,965.8 400.7,967.2 400.9,967.8 401.2,965.5 401.4,969.9 401.7,967.3 401.9,967.5 402.2,964.3 402.4,968.7 402.7,969.1 402.9,971.8 403.2,968.7 403.4,964.8 403.7,969.3 403.9,966.5 404.2,969.4 404.4,970.8 404.7,967.2 404.9,968.4 405.2,968.2 405.4,966.9 405.7,972.7 405.9,966.0 406.2,967.7 406.4,969.5 406.7,970.1 406.9,967.3 407.2,967.9 407.4,967.0 407.7,967.2 407.9,967.4 408.2,967.3 408.4,967.1 408.7,968.3 408.9,970.5 409.2,966.8 409.4,969.6 409.7,965.3 409.9,969.6 410.2,971.4 410.4,969.2 410.7,968.3 410.9,969.8 411.2,969.9 411.4,969.6 411.7,970.2 411.9,965.5 412.2,967.5 412.4,965.3 412.7,968.5 412.9,967.4 413.2,971.4 413.4,967.0 413.7,973.5 413.9,970.0 414.2,967.7 414.4,971.3 414.7,968.6 414.9,967.4 415.2,968.4 415.4,969.8 415.7,972.1 415.9,970.9 416.2,967.9 416.4,971.1 416.7,968.0 416.9,971.5 417.2,970.6 417.4,968.8 417.7,970.3 417.9,971.8 418.2,967.8 418.4,971.1 418.7,970.8 418.9,970.2 419.2,970.6 419.4,968.3 419.7,975.1 419.9,967.4 420.2,975.2 420.4,975.8 420.7,969.4 420.9,971.1 421.2,969.7 421.4,972.1 421.7,971.0 421.9,969.8 422.2,971.5 422.4,971.4 422.7,973.8 422.9,968.3 423.2,970.9 423.4,971.4 423.7,971.2 423.9,972.4 424.2,972.0 424.4,970.7 424.7,971.0 424.9,974.7 425.2,970.6 425.4,972.2 425.7,973.8 425.9,967.7 426.2,969.1 426.4,972.7 426.7,972.7 426.9,972.2 427.2,973.6 427.4,972.5 427.7,973.5 427.9,969.6 428.2,971.0 428.4,970.9 428.7,970.7 428.9,970.2 429.2,969.8 429.4,973.8 429.7,972.6 429.9,975.4 430.2,972.9 430.4,974.0 430.7,970.0 430.9,970.0 431.2,970.9 431.4,972.2 431.7,969.6 431.9,971.5 432.2,971.3 432.4,971.4 432.7,969.2 432.9,972.5 433.2,969.6 433.4,974.6 433.7,968.7 433.9,970.3 434.2,970.2 434.4,969.9 434.7,971.2 434.9,969.6 435.2,971.7 435.4,973.0 435.7,971.2 435.9,970.8 436.2,973.6 436.4,973.7 436.7,970.1 436.9,971.8 437.2,973.9 437.4,968.6 437.7,972.6 437.9,972.7 438.2,971.8 438.4,968.1 438.7,972.5 438.9,972.2 439.2,970.7 439.4,971.5 439.7,972.5 439.9,970.8 440.2,970.8 440.4,973.2 440.7,970.8 440.9,974.5 441.2,972.5 441.4,970.1 441.7,972.6 441.9,976.8 442.2,972.3 442.4,974.5 442.7,973.7 442.9,970.5 443.2,969.6 443.4,973.8 443.7,972.5 443.9,971.4 444.2,972.5 444.4,973.9 444.7,973.6 444.9,972.2 445.2,970.2 445.4,974.7 445.7,972.0 445.9,971.9 446.2,975.3 446.4,973.9 446.7,972.6 446.9,973.1 447.2,972.7 447.4,973.1 447.7,972.5 447.9,971.5 448.2,974.6 448.4,970.9 448.7,973.0 448.9,970.9 449.2,972.5 449.4,972.0 449.7,971.7 449.9,972.3 450.2,975.1 450.4,972.1 450.7,969.7 450.9,971.1 451.2,970.7 451.4,970.5 451.7,971.6 451.9,973.1 452.2,970.9 452.4,971.4 452.7,973.2 452.9,973.3 453.2,973.3 453.4,974.9 453.7,973.5 453.9,971.2 454.2,973.7 454.4,973.4 454.7,974.8 454.9,972.5 455.2,971.6 455.4,976.7 455.7,971.0 455.9,976.8 456.2,971.9 456.4,973.4 456.7,970.7 456.9,974.1 457.2,971.9 457.4,972.8 457.7,973.2 457.9,973.5 458.2,971.1 458.4,976.0 458.7,971.1 458.9,970.1 459.2,971.5 459.4,972.7 459.7,970.3 459.9,972.1 460.2,973.0 460.4,972.0 460.7,973.0 460.9,970.3 461.2,971.5 461.4,974.3 461.7,972.6 461.9,969.7 462.2,976.0 462.4,971.6 462.7,971.7 462.9,972.6 463.2,972.8 463.4,974.8 463.7,973.0 463.9,971.5 464.2,975.1 464.4,973.7 464.7,973.1 464.9,971.9 465.2,973.3 465.4,972.0 465.7,974.4 465.9,975.3 466.2,973.2 466.4,972.3 466.7,972.4 466.9,976.6 467.2,972.2 467.4,972.9 467.7,975.1 467.9,972.0 468.2,976.6 468.4,975.3 468.7,973.2 468.9,972.0 469.2,973.0 469.4,974.9 469.7,976.1 469.9,972.3 470.2,974.9 470.4,976.6 470.7,974.2 470.9,972.2 471.2,972.7 471.4,974.2 471.7,972.8 471.9,972.4 472.2,974.5 472.4,972.3 472.7,971.9 472.9,973.5 473.2,973.6 473.4,969.0 473.7,971.6 473.9,975.8 474.2,977.4 474.4,972.5 474.7,975.5 474.9,977.0 475.2,973.0 475.4,973.1 475.7,973.8 475.9,975.5 476.2,976.5 476.4,974.1 476.7,974.6 476.9,975.5 477.2,975.5 477.4,976.1 477.7,971.6 477.9,974.7 478.2,973.4 478.4,976.0 478.7,974.6 478.9,972.6 479.2,972.5 479.4,974.1 479.7,975.9 479.9,976.3 480.2,972.6 480.4,975.1 480.7,973.6 480.9,975.7 481.2,974.3 481.4,971.0 481.7,974.8 481.9,975.3 482.2,973.0 482.4,974.2 482.7,976.7 482.9,972.7 483.2,974.9 483.4,973.6 483.7,974.8 483.9,974.5 484.2,974.2 484.4,974.6 484.7,974.7 484.9,975.1 485.2,973.7 485.4,971.0 485.7,974.0 485.9,976.5 486.2,976.1 486.4,975.0 486.7,975.0 486.9,973.7 487.2,975.7 487.4,975.4 487.7,976.2 487.9,974.3 488.2,974.9 488.4,976.3 488.7,973.7 488.9,976.8 489.2,975.7 489.4,975.0 489.7,974.3 489.9,973.3 490.2,974.8 490.4,972.6 490.7,972.7 490.9,975.8 491.2,975.2 491.4,974.4 491.7,976.1 491.9,972.1 492.2,974.4 492.4,973.7 492.7,974.5 492.9,973.2 493.2,975.5 493.4,976.4 493.7,975.1 493.9,975.5 494.2,976.7 494.4,975.9 494.7,973.5 494.9,976.1 495.2,976.9 495.4,977.1 495.7,976.3 495.9,974.8 496.2,971.7 496.4,974.2 496.7,975.8 496.9,976.9 497.2,976.9 497.4,975.1 497.7,977.6 497.9,973.1 498.2,973.7 498.4,977.8 498.7,978.2 498.9,975.4 499.2,975.6 499.4,977.5 499.7,974.9 499.9,976.0 500.2,978.4 500.4,973.6 500.7,971.1 500.9,975.7 501.2,977.0 501.4,976.7 501.7,977.6 501.9,978.5 502.2,976.7 502.4,977.6 502.7,975.5 502.9,973.6 503.2,978.9 503.4,975.4 503.7,972.8 503.9,978.2 504.2,976.1 504.4,975.4 504.7,976.5 504.9,977.6 505.2,976.7 505.4,975.4 505.7,976.4 505.9,975.4 506.2,980.8 506.4,975.1 506.7,977.8 506.9,975.7 507.2,975.0 507.4,976.2 507.7,977.0 507.9,978.6 508.2,978.1 508.4,978.3 508.7,975.9 508.9,977.0 509.2,979.2 509.4,979.0 509.7,979.2 509.9,975.2 510.2,975.7 510.4,976.6 510.7,976.6 510.9,977.7 511.2,975.6 511.4,975.9 511.7,975.6 511.9,979.3 512.2,977.3 512.5,974.8 512.7,978.5 513.0,978.1 513.2,978.4 513.5,975.4 513.7,974.9 514.0,976.3 514.2,975.4 514.5,974.0 514.7,977.7 515.0,976.7 515.2,975.1 515.5,978.3 515.7,977.0 516.0,978.0 516.2,978.3 516.5,976.8 516.7,977.2 517.0,977.4 517.2,976.8 517.5,977.1 517.7,974.8 518.0,976.6 518.2,975.7 518.5,975.6 518.7,976.6 519.0,977.2 519.2,975.1 519.5,977.4 519.7,978.0 520.0,974.8 520.2,977.0 520.5,977.8 520.7,980.9 521.0,975.8 521.2,977.6 521.5,977.0 521.7,976.2 522.0,977.6 522.2,976.9 522.5,977.6 522.7,977.5 523.0,977.3 523.2,974.3 523.5,976.1 523.7,979.5 524.0,977.0 524.2,975.5 524.5,975.9 524.7,979.4 525.0,975.6 525.2,976.9 525.5,975.0 525.7,975.9 526.0,977.2 526.2,976.2 526.5,978.7 526.7,979.0 527.0,976.9 527.2,978.2 527.5,974.6 527.7,976.4 528.0,975.2 528.2,976.7 528.5,978.0 528.7,978.0 529.0,978.0 529.2,977.1 529.5,978.6 529.7,980.4 530.0,978.8 530.2,976.7 530.5,977.5 530.7,978.5 531.0,979.9 531.2,977.3 531.5,975.7 531.7,980.2 532.0,980.2 532.2,978.2 532.5,976.7 532.7,978.6 533.0,975.2 533.2,977.6 533.5,979.8 533.7,976.9 534.0,975.9 534.2,977.9 534.5,979.6 534.7,976.6 535.0,976.2 535.2,978.3 535.5,979.9 535.7,976.6 536.0,979.4 536.2,977.6 536.5,975.9 536.7,977.3 537.0,975.8 537.2,975.6 537.5,980.6 537.7,978.9 538.0,978.3 538.2,977.2 538.5,980.1 538.7,975.8 539.0,976.5 539.2,977.0 539.5,979.4 539.7,979.8 540.0,978.1 540.2,979.3 540.5,980.0 540.7,979.3 541.0,978.7 541.2,977.6 541.5,979.3 541.7,978.4 542.0,982.1 542.2,977.6 542.5,979.3 542.7,980.9 543.0,976.4 543.2,978.5 543.5,978.9 543.7,976.2 544.0,976.8 544.2,975.5 544.5,978.2 544.7,977.2 545.0,979.1 545.2,977.3 545.5,978.7 545.7,976.6 546.0,978.4 546.2,975.5 546.5,978.5 546.7,977.6 547.0,977.2 547.2,978.0 547.5,976.0 547.7,977.3 548.0,976.7 548.2,978.1 548.5,978.1 548.7,978.0 549.0,978.3 549.2,976.3 549.5,979.8 549.7,980.9 550.0,980.4 550.2,977.8 550.5,980.2 550.7,981.4 551.0,978.6 551.2,978.5 551.5,979.8 551.7,980.4 552.0,976.1 552.2,980.6 552.5,978.8 552.7,979.2 553.0,979.1 553.2,976.7 553.5,978.0 553.7,978.3 554.0,977.2 554.2,976.6 554.5,979.6 554.7,982.2 555.0,978.1 555.2,977.8 555.5,978.5 555.7,982.8 556.0,978.5 556.2,979.2 556.5,977.7 556.7,980.7 557.0,977.6 557.2,977.7 557.5,978.2 557.7,977.1 558.0,977.0 558.2,978.2 558.5,980.7 558.7,982.0 559.0,977.5 559.2,979.5 559.5,979.3 559.7,977.6 560.0,977.4 560.2,979.5 560.5,977.9 560.7,977.6 561.0,979.7 561.2,977.3 561.5,980.0 561.7,977.4 562.0,981.5 562.2,978.4 562.5,977.1 562.7,977.8 563.0,979.4 563.2,978.2 563.5,977.3 563.7,978.5 564.0,979.1 564.2,979.4 564.5,981.0 564.7,977.1 565.0,979.1 565.2,980.7 565.5,979.1 565.7,983.5 566.0,976.1 566.2,979.7 566.5,979.4 566.7,982.2 567.0,978.6 567.2,980.4 567.5,979.1 567.7,980.7 568.0,978.1 568.2,977.8 568.5,978.4 568.7,977.5 569.0,979.2 569.2,977.8 569.5,978.2 569.7,981.0 570.0,977.6 570.2,979.0 570.5,980.6 570.7,979.1 571.0,979.5 571.2,978.7 571.5,979.9 571.7,981.2 572.0,979.9 572.2,981.2 572.5,981.8 572.7,978.1 573.0,979.4 573.2,978.9 573.5,978.4 573.7,981.1 574.0,976.6 574.2,980.6 574.5,976.2 574.7,979.1 575.0,979.9 575.2,979.3 575.5,980.1 575.7,982.4 576.0,976.8 576.2,978.2 576.5,980.6 576.7,979.2 577.0,981.2 577.2,979.2 577.5,979.1 577.7,977.9 578.0,979.7 578.2,980.2 578.5,977.2 578.7,978.0 579.0,980.3 579.2,977.5 579.5,979.3 579.7,979.3 580.0,979.2 580.2,979.8 580.5,979.8 580.7,978.7 581.0,982.7 581.2,983.2 581.5,980.6 581.7,980.8 582.0,980.1 582.2,977.9 582.5,983.5 582.7,979.7 583.0,978.5 583.2,978.9 583.5,981.0 583.7,981.4 584.0,982.4 584.2,979.1 584.5,980.2 584.7,977.6 585.0,979.8 585.2,979.7 585.5,980.8 585.7,978.6 586.0,980.2 586.2,979.5 586.5,981.2 586.7,976.2 587.0,978.7 587.2,979.5 587.5,978.6 587.7,981.3 588.0,983.3 588.2,979.3 588.5,981.1 588.7,981.0 589.0,979.3 589.2,977.4 589.5,979.7 589.7,979.3 590.0,980.0 590.2,980.8 590.5,979.7 590.7,979.4 591.0,978.3 591.2,981.6 591.5,978.9 591.7,980.1 592.0,979.4 592.2,977.5 592.5,977.6 592.7,980.1 593.0,980.6 593.2,983.0 593.5,979.0 593.7,978.7 594.0,983.7 594.2,979.6 594.5,979.6 594.7,977.0 595.0,981.7 595.2,981.0 595.5,978.2 595.7,980.0 596.0,978.9 596.2,980.0 596.5,976.2 596.7,981.0 597.0,979.6 597.2,979.1 597.5,979.6 597.7,978.3 598.0,978.1 598.2,980.5 598.5,977.7 598.7,977.6 599.0,979.9 599.2,980.8 599.5,981.9 599.7,982.0 600.0,982.1 600.2,980.2 600.5,980.0 600.7,979.4 601.0,979.1 601.2,982.0 601.5,978.9 601.7,979.2 602.0,981.6 602.2,979.8 602.5,980.9 602.7,979.6 603.0,981.0 603.2,980.3 603.5,980.3 603.7,980.5 604.0,977.9 604.2,979.7 604.5,980.6 604.7,976.9 605.0,980.9 605.2,978.2 605.5,980.8 605.7,980.7 606.0,980.4 606.2,982.8 606.5,978.9 606.7,980.7 607.0,980.6 607.2,980.8 607.5,979.4 607.7,979.2 608.0,981.0 608.2,980.5 608.5,979.5 608.7,981.2 609.0,978.0 609.2,979.0 609.5,979.9 609.7,977.8 610.0,977.7 610.2,980.4 610.5,981.4 610.7,981.4 611.0,981.0 611.2,981.9 611.5,979.8 611.7,977.6 612.0,981.3 612.2,982.6 612.5,980.0 612.7,979.9 613.0,979.3 613.2,980.3 613.5,980.6 613.7,981.5 614.0,982.2 614.2,982.6 614.5,979.5 614.7,978.0 615.0,978.9 615.2,980.2 615.5,977.5 615.7,980.3 616.0,981.9 616.2,980.1 616.5,980.6 616.7,981.2 617.0,981.9 617.2,980.0 617.5,981.3 617.7,979.8 618.0,979.6 618.2,978.7 618.5,979.9 618.7,981.2 619.0,983.9 619.2,982.1 619.5,980.0 619.7,979.6 620.0,981.1 620.2,981.5 620.5,979.6 620.7,980.1 621.0,981.3 621.2,978.5 621.5,979.9 621.7,982.0 622.0,981.3 622.2,980.3 622.5,982.9 622.7,977.7 623.0,982.6 623.2,980.5 623.5,980.2 623.7,982.1 624.0,982.6 624.2,980.4 624.5,981.5 624.7,978.7 625.0,978.6 625.2,978.0 625.5,982.8 625.7,979.5 626.0,978.3 626.2,980.0 626.5,980.7 626.7,979.9 627.0,982.1 627.2,977.7 627.5,982.5 627.7,982.9 628.0,981.5 628.2,976.6 628.5,981.2 628.7,980.3 629.0,979.7 629.2,981.8 629.5,979.3 629.7,980.6 630.0,982.1 630.2,980.7 630.5,979.6 630.7,980.3 631.0,981.0 631.2,982.8 631.5,981.2 631.7,981.6 632.0,977.5 632.2,978.8 632.5,982.8 632.7,981.2 633.0,980.5 633.2,980.9 633.5,979.3 633.7,984.1 634.0,983.8 634.2,983.2 634.5,982.5 634.7,982.3 635.0,982.5 635.2,982.2 635.5,980.4 635.7,980.8 636.0,982.7 636.2,979.8 636.5,981.8 636.7,981.8 637.0,982.5 637.2,980.8 637.5,983.1 637.7,979.1 638.0,983.2 638.2,982.2 638.5,981.1 638.7,981.7 639.0,982.7 639.2,982.1 639.5,980.4 639.7,979.9 640.0,982.1 640.2,981.2 640.5,980.7 640.7,979.8 641.0,981.2 641.2,980.8 641.5,978.3 641.7,982.1 642.0,981.5 642.2,980.7 642.5,980.6 642.7,980.2 643.0,980.2 643.2,980.9 643.5,982.8 643.7,980.0 644.0,984.1" fill="none" stroke="#3dba72" stroke-width="1.30" stroke-linejoin="round"/>
<rect x="129.2" y="30" width="515.3" height="434.2" fill="none" stroke="#2b2b2b" stroke-width="2.2"/>
<rect x="130.2" y="561.5" width="514.3" height="434" fill="none" stroke="#2b2b2b" stroke-width="2.2"/>
<line x1="128.6" y1="464" x2="128.6" y2="473" stroke="#2b2b2b" stroke-width="2.2"/>
<line x1="164.9" y1="464" x2="164.9" y2="469.5" stroke="#2b2b2b" stroke-width="2.2"/>
<line x1="201.2" y1="464" x2="201.2" y2="473" stroke="#2b2b2b" stroke-width="2.2"/>
<line x1="237.5" y1="464" x2="237.5" y2="469.5" stroke="#2b2b2b" stroke-width="2.2"/>
<line x1="273.7" y1="464" x2="273.7" y2="473" stroke="#2b2b2b" stroke-width="2.2"/>
<line x1="310.0" y1="464" x2="310.0" y2="469.5" stroke="#2b2b2b" stroke-width="2.2"/>
<line x1="346.3" y1="464" x2="346.3" y2="473" stroke="#2b2b2b" stroke-width="2.2"/>
<line x1="382.6" y1="464" x2="382.6" y2="469.5" stroke="#2b2b2b" stroke-width="2.2"/>
<line x1="418.9" y1="464" x2="418.9" y2="473" stroke="#2b2b2b" stroke-width="2.2"/>
<line x1="455.2" y1="464" x2="455.2" y2="469.5" stroke="#2b2b2b" stroke-width="2.2"/>
<line x1="491.4" y1="464" x2="491.4" y2="473" stroke="#2b2b2b" stroke-width="2.2"/>
<line x1="527.7" y1="464" x2="527.7" y2="469.5" stroke="#2b2b2b" stroke-width="2.2"/>
<line x1="564.0" y1="464" x2="564.0" y2="473" stroke="#2b2b2b" stroke-width="2.2"/>
<line x1="600.3" y1="464" x2="600.3" y2="469.5" stroke="#2b2b2b" stroke-width="2.2"/>
<line x1="636.6" y1="464" x2="636.6" y2="473" stroke="#2b2b2b" stroke-width="2.2"/>
<line x1="130.2" y1="995.5" x2="130.2" y2="1003.5" stroke="#2b2b2b" stroke-width="2.2"/>
<line x1="166.9" y1="995.5" x2="166.9" y2="1000" stroke="#2b2b2b" stroke-width="2.2"/>
<line x1="203.5" y1="995.5" x2="203.5" y2="1003.5" stroke="#2b2b2b" stroke-width="2.2"/>
<line x1="240.2" y1="995.5" x2="240.2" y2="1000" stroke="#2b2b2b" stroke-width="2.2"/>
<line x1="276.9" y1="995.5" x2="276.9" y2="1003.5" stroke="#2b2b2b" stroke-width="2.2"/>
<line x1="313.5" y1="995.5" x2="313.5" y2="1000" stroke="#2b2b2b" stroke-width="2.2"/>
<line x1="350.2" y1="995.5" x2="350.2" y2="1003.5" stroke="#2b2b2b" stroke-width="2.2"/>
<line x1="386.9" y1="995.5" x2="386.9" y2="1000" stroke="#2b2b2b" stroke-width="2.2"/>
<line x1="423.5" y1="995.5" x2="423.5" y2="1003.5" stroke="#2b2b2b" stroke-width="2.2"/>
<line x1="460.2" y1="995.5" x2="460.2" y2="1000" stroke="#2b2b2b" stroke-width="2.2"/>
<line x1="496.8" y1="995.5" x2="496.8" y2="1003.5" stroke="#2b2b2b" stroke-width="2.2"/>
<line x1="533.5" y1="995.5" x2="533.5" y2="1000" stroke="#2b2b2b" stroke-width="2.2"/>
<line x1="570.2" y1="995.5" x2="570.2" y2="1003.5" stroke="#2b2b2b" stroke-width="2.2"/>
<line x1="606.9" y1="995.5" x2="606.9" y2="1000" stroke="#2b2b2b" stroke-width="2.2"/>
<line x1="643.5" y1="995.5" x2="643.5" y2="1003.5" stroke="#2b2b2b" stroke-width="2.2"/>
<text x="128.60" y="500.40" font-size="27.30" text-anchor="middle" >4000</text>
<text x="201.17" y="500.40" font-size="27.30" text-anchor="middle" >3500</text>
<text x="273.74" y="500.40" font-size="27.30" text-anchor="middle" >3000</text>
<text x="346.31" y="500.40" font-size="27.30" text-anchor="middle" >2500</text>
<text x="418.88" y="500.40" font-size="27.30" text-anchor="middle" >2000</text>
<text x="491.45" y="500.40" font-size="27.30" text-anchor="middle" >1500</text>
<text x="564.02" y="500.40" font-size="27.30" text-anchor="middle" >1000</text>
<text x="636.59" y="500.40" font-size="27.30" text-anchor="middle" >500</text>
<text x="130.20" y="1030.50" font-size="27.30" text-anchor="middle" >10</text>
<text x="203.53" y="1030.50" font-size="27.30" text-anchor="middle" >20</text>
<text x="276.86" y="1030.50" font-size="27.30" text-anchor="middle" >30</text>
<text x="350.19" y="1030.50" font-size="27.30" text-anchor="middle" >40</text>
<text x="423.52" y="1030.50" font-size="27.30" text-anchor="middle" >50</text>
<text x="496.85" y="1030.50" font-size="27.30" text-anchor="middle" >60</text>
<text x="570.18" y="1030.50" font-size="27.30" text-anchor="middle" >70</text>
<text x="643.51" y="1030.50" font-size="27.30" text-anchor="middle" >80</text>
<text x="261.50" y="532.50" font-size="31.50" text-anchor="start" textLength="223.60" lengthAdjust="spacingAndGlyphs">Wavenumber (cm</text>
<text x="486.83" y="520.00" font-size="18.00" text-anchor="start" textLength="14.85" lengthAdjust="spacingAndGlyphs">-1</text>
<text x="504.50" y="532.50" font-size="31.50" text-anchor="start" textLength="8.15" lengthAdjust="spacingAndGlyphs">)</text>
<text x="336.93" y="1054.50" font-size="24.70" text-anchor="start" textLength="98.62" lengthAdjust="spacingAndGlyphs">2&#952;/degree</text>
<text x="64.52" y="67.30" font-size="34.50" text-anchor="start" textLength="41.36" lengthAdjust="spacingAndGlyphs">(a)</text>
<text x="64.55" y="605.30" font-size="34.50" text-anchor="start" textLength="42.65" lengthAdjust="spacingAndGlyphs">(b)</text>
<text x="325.30" y="80.50" font-size="24.80" text-anchor="start" textLength="153.75" lengthAdjust="spacingAndGlyphs">PANI-OMe/Ca</text>
<text x="325.30" y="168.00" font-size="24.80" text-anchor="start" textLength="119.74" lengthAdjust="spacingAndGlyphs">PANI-H/Ca</text>
<text x="325.29" y="270.00" font-size="24.80" text-anchor="start" textLength="119.61" lengthAdjust="spacingAndGlyphs">PANI-OMe</text>
<text x="325.50" y="369.20" font-size="24.80" text-anchor="start" textLength="84.26" lengthAdjust="spacingAndGlyphs">PANI-H</text>
<text x="468.74" y="708.60" font-size="27.30" text-anchor="start" textLength="165.73" lengthAdjust="spacingAndGlyphs">PANI-OMe/Ca</text>
<text x="470.60" y="772.00" font-size="25.00" text-anchor="start" textLength="119.03" lengthAdjust="spacingAndGlyphs">PANI-H/Ca</text>
<text x="470.59" y="870.40" font-size="25.00" text-anchor="start" textLength="119.01" lengthAdjust="spacingAndGlyphs">PANI-OMe</text>
<text x="470.19" y="963.00" font-size="25.00" text-anchor="start" textLength="84.97" lengthAdjust="spacingAndGlyphs">PANI-H</text>
<text transform="translate(118.50,367.55) rotate(-90)" font-size="31.70" textLength="226.83" lengthAdjust="spacingAndGlyphs">Transmitance (%)</text>
<text transform="translate(117.30,868.62) rotate(-90)" font-size="28.60" textLength="170.34" lengthAdjust="spacingAndGlyphs">Intensity (a.u.)</text>
<text transform="translate(160.40,621.77) rotate(-90)" font-size="17.50" textLength="39.26" lengthAdjust="spacingAndGlyphs" style="fill:#2e2e2e;stroke:#2e2e2e;stroke-width:0.50px;">(020)</text>
<text transform="translate(201.90,620.37) rotate(-90)" font-size="17.50" textLength="39.36" lengthAdjust="spacingAndGlyphs" style="fill:#2e2e2e;stroke:#2e2e2e;stroke-width:0.50px;">(021)</text>
<text transform="translate(231.90,641.77) rotate(-90)" font-size="17.50" textLength="39.26" lengthAdjust="spacingAndGlyphs" style="fill:#2e2e2e;stroke:#2e2e2e;stroke-width:0.50px;">(040)</text>
<text transform="translate(265.90,610.45) rotate(-90)" font-size="17.50" textLength="38.43" lengthAdjust="spacingAndGlyphs" style="fill:#2e2e2e;stroke:#2e2e2e;stroke-width:0.50px;">(041)</text>
<text transform="translate(291.60,635.65) rotate(-90)" font-size="17.50" textLength="44.13" lengthAdjust="spacingAndGlyphs" style="fill:#2e2e2e;stroke:#2e2e2e;stroke-width:0.50px;">(-221)</text>
<text transform="translate(310.40,645.95) rotate(-90)" font-size="17.50" textLength="38.43" lengthAdjust="spacingAndGlyphs" style="fill:#2e2e2e;stroke:#2e2e2e;stroke-width:0.50px;">(150)</text>
<text transform="translate(361.00,659.17) rotate(-90)" font-size="17.50" textLength="39.26" lengthAdjust="spacingAndGlyphs" style="fill:#2e2e2e;stroke:#2e2e2e;stroke-width:0.50px;">(151)</text>
<text transform="translate(380.60,661.46) rotate(-90)" font-size="17.50" textLength="44.75" lengthAdjust="spacingAndGlyphs" style="fill:#2e2e2e;stroke:#2e2e2e;stroke-width:0.50px;">(-242)</text>
<text transform="translate(412.90,664.67) rotate(-90)" font-size="17.50" textLength="39.26" lengthAdjust="spacingAndGlyphs" style="fill:#2e2e2e;stroke:#2e2e2e;stroke-width:0.50px;">(080)</text>
<text transform="translate(433.30,663.07) rotate(-90)" font-size="17.50" textLength="39.26" lengthAdjust="spacingAndGlyphs" style="fill:#2e2e2e;stroke:#2e2e2e;stroke-width:0.50px;">(062)</text>
<text transform="translate(441.90,626.18) rotate(-90)" font-size="17.50" textLength="45.58" lengthAdjust="spacingAndGlyphs" style="fill:#2e2e2e;stroke:#2e2e2e;stroke-width:0.50px;">(-262)</text>
<text transform="translate(482.10,666.97) rotate(-90)" font-size="17.50" textLength="45.37" lengthAdjust="spacingAndGlyphs" style="fill:#2e2e2e;stroke:#2e2e2e;stroke-width:0.50px;">(-281)</text>
<text transform="translate(567.00,671.27) rotate(-90)" font-size="17.50" textLength="39.36" lengthAdjust="spacingAndGlyphs" style="fill:#2e2e2e;stroke:#2e2e2e;stroke-width:0.50px;">(262)</text>
<text transform="translate(255.50,749.55) rotate(-90)" font-size="17.50" textLength="81.48" lengthAdjust="spacingAndGlyphs" style="fill:#2e2e2e;stroke:#2e2e2e;stroke-width:0.50px;">(110) PANI</text>
</svg>
</body></html>
